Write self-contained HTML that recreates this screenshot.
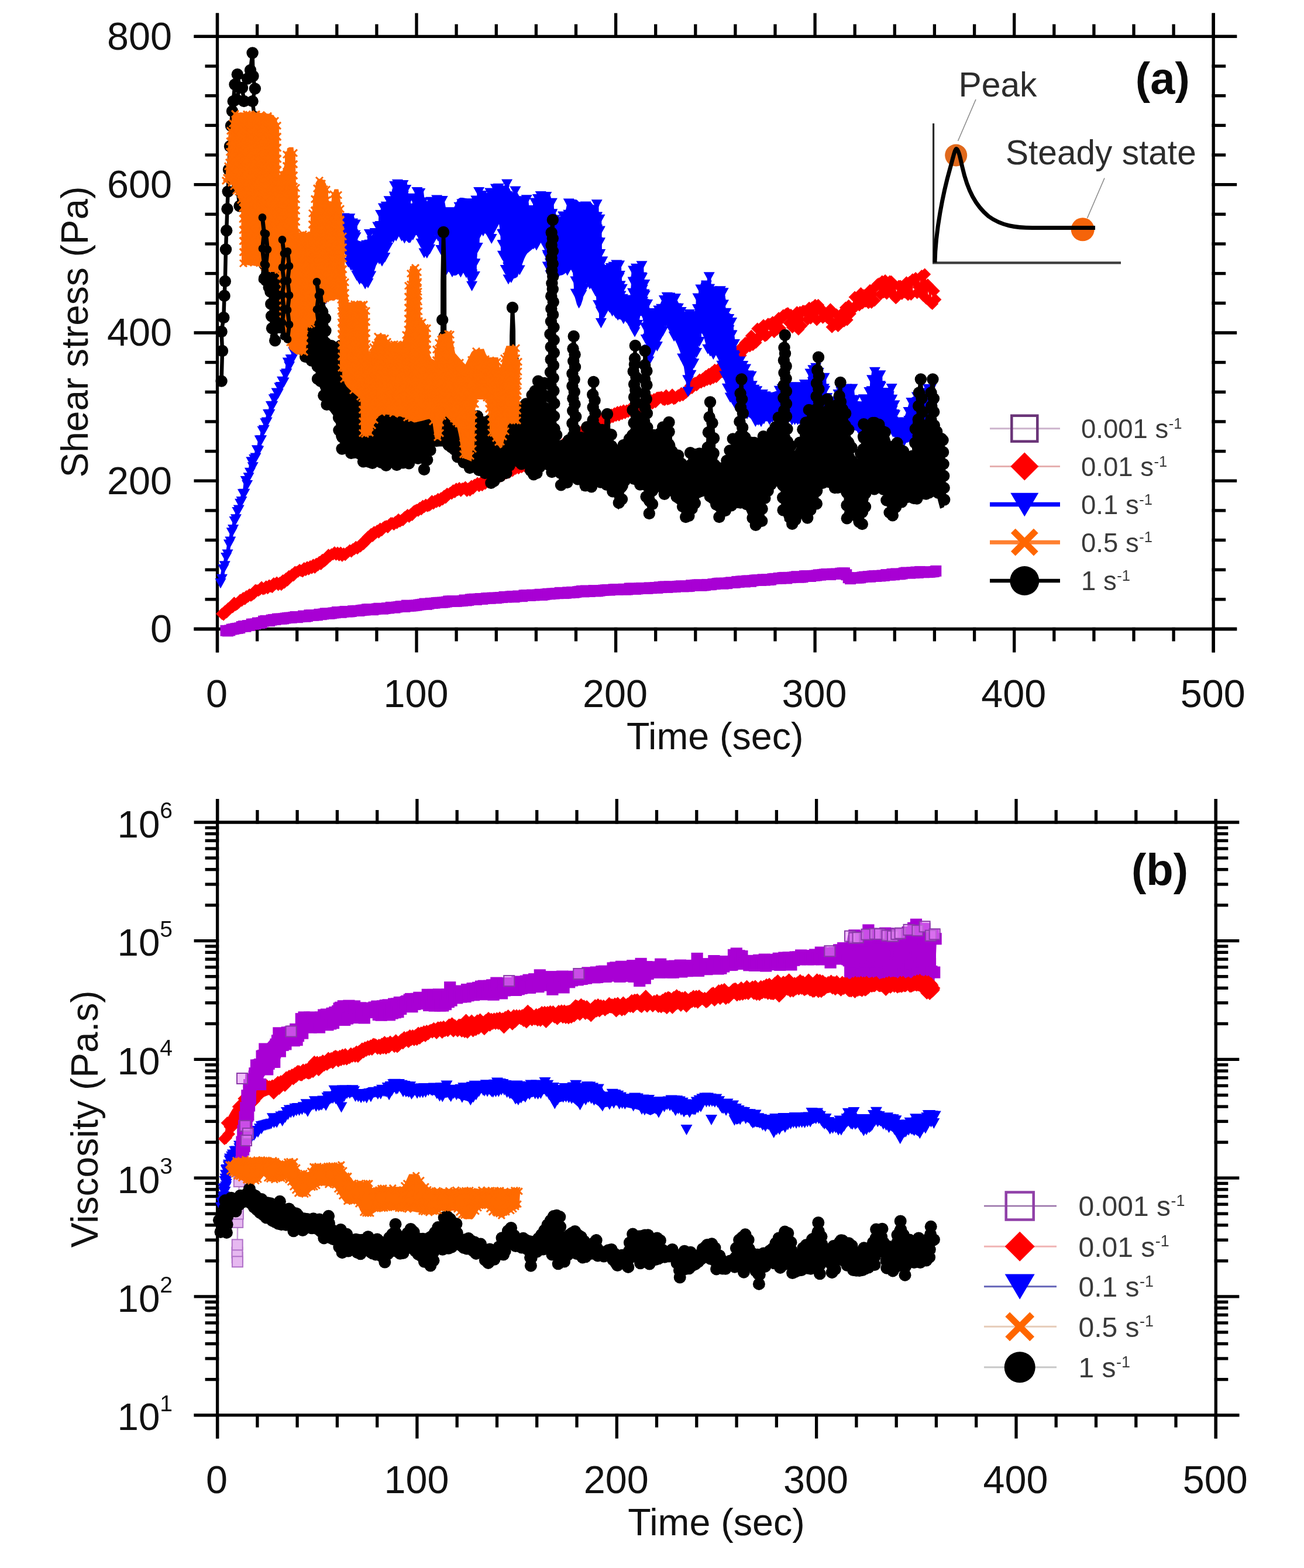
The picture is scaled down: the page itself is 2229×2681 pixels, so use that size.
<!DOCTYPE html>
<html lang="en">
<head>
<meta charset="utf-8">
<title>Shear stress and viscosity versus time</title>
<style>html,body{margin:0;padding:0;background:#fff}body{width:2229px;height:2681px;overflow:hidden}svg{display:block}text{font-family:"Liberation Sans",Arial,sans-serif}</style>
</head>
<body>
<svg width="2229" height="2681" viewBox="0 0 2229 2681">
<rect width="2229" height="2681" fill="#fff"/>
<g id="panel-a-axes">
<line x1="331.5" y1="62.4" x2="2114.2" y2="62.4" stroke="#000" stroke-width="5.3"/>
<line x1="331.5" y1="1075.5" x2="2114.2" y2="1075.5" stroke="#000" stroke-width="5.3"/>
<line x1="371.5" y1="22.4" x2="371.5" y2="1115.5" stroke="#000" stroke-width="5.3"/>
<line x1="2074.2" y1="22.4" x2="2074.2" y2="1115.5" stroke="#000" stroke-width="5.3"/>
<line x1="371.5" y1="22.4" x2="371.5" y2="65.0" stroke="#000" stroke-width="5.3"/>
<line x1="371.5" y1="1072.8" x2="371.5" y2="1115.5" stroke="#000" stroke-width="5.3"/>
<line x1="439.6" y1="41.4" x2="439.6" y2="65.0" stroke="#000" stroke-width="5.3"/>
<line x1="439.6" y1="1072.8" x2="439.6" y2="1096.5" stroke="#000" stroke-width="5.3"/>
<line x1="507.7" y1="41.4" x2="507.7" y2="65.0" stroke="#000" stroke-width="5.3"/>
<line x1="507.7" y1="1072.8" x2="507.7" y2="1096.5" stroke="#000" stroke-width="5.3"/>
<line x1="575.8" y1="41.4" x2="575.8" y2="65.0" stroke="#000" stroke-width="5.3"/>
<line x1="575.8" y1="1072.8" x2="575.8" y2="1096.5" stroke="#000" stroke-width="5.3"/>
<line x1="643.9" y1="41.4" x2="643.9" y2="65.0" stroke="#000" stroke-width="5.3"/>
<line x1="643.9" y1="1072.8" x2="643.9" y2="1096.5" stroke="#000" stroke-width="5.3"/>
<line x1="712.0" y1="22.4" x2="712.0" y2="65.0" stroke="#000" stroke-width="5.3"/>
<line x1="712.0" y1="1072.8" x2="712.0" y2="1115.5" stroke="#000" stroke-width="5.3"/>
<line x1="780.1" y1="41.4" x2="780.1" y2="65.0" stroke="#000" stroke-width="5.3"/>
<line x1="780.1" y1="1072.8" x2="780.1" y2="1096.5" stroke="#000" stroke-width="5.3"/>
<line x1="848.3" y1="41.4" x2="848.3" y2="65.0" stroke="#000" stroke-width="5.3"/>
<line x1="848.3" y1="1072.8" x2="848.3" y2="1096.5" stroke="#000" stroke-width="5.3"/>
<line x1="916.4" y1="41.4" x2="916.4" y2="65.0" stroke="#000" stroke-width="5.3"/>
<line x1="916.4" y1="1072.8" x2="916.4" y2="1096.5" stroke="#000" stroke-width="5.3"/>
<line x1="984.5" y1="41.4" x2="984.5" y2="65.0" stroke="#000" stroke-width="5.3"/>
<line x1="984.5" y1="1072.8" x2="984.5" y2="1096.5" stroke="#000" stroke-width="5.3"/>
<line x1="1052.6" y1="22.4" x2="1052.6" y2="65.0" stroke="#000" stroke-width="5.3"/>
<line x1="1052.6" y1="1072.8" x2="1052.6" y2="1115.5" stroke="#000" stroke-width="5.3"/>
<line x1="1120.7" y1="41.4" x2="1120.7" y2="65.0" stroke="#000" stroke-width="5.3"/>
<line x1="1120.7" y1="1072.8" x2="1120.7" y2="1096.5" stroke="#000" stroke-width="5.3"/>
<line x1="1188.8" y1="41.4" x2="1188.8" y2="65.0" stroke="#000" stroke-width="5.3"/>
<line x1="1188.8" y1="1072.8" x2="1188.8" y2="1096.5" stroke="#000" stroke-width="5.3"/>
<line x1="1256.9" y1="41.4" x2="1256.9" y2="65.0" stroke="#000" stroke-width="5.3"/>
<line x1="1256.9" y1="1072.8" x2="1256.9" y2="1096.5" stroke="#000" stroke-width="5.3"/>
<line x1="1325.0" y1="41.4" x2="1325.0" y2="65.0" stroke="#000" stroke-width="5.3"/>
<line x1="1325.0" y1="1072.8" x2="1325.0" y2="1096.5" stroke="#000" stroke-width="5.3"/>
<line x1="1393.1" y1="22.4" x2="1393.1" y2="65.0" stroke="#000" stroke-width="5.3"/>
<line x1="1393.1" y1="1072.8" x2="1393.1" y2="1115.5" stroke="#000" stroke-width="5.3"/>
<line x1="1461.2" y1="41.4" x2="1461.2" y2="65.0" stroke="#000" stroke-width="5.3"/>
<line x1="1461.2" y1="1072.8" x2="1461.2" y2="1096.5" stroke="#000" stroke-width="5.3"/>
<line x1="1529.3" y1="41.4" x2="1529.3" y2="65.0" stroke="#000" stroke-width="5.3"/>
<line x1="1529.3" y1="1072.8" x2="1529.3" y2="1096.5" stroke="#000" stroke-width="5.3"/>
<line x1="1597.4" y1="41.4" x2="1597.4" y2="65.0" stroke="#000" stroke-width="5.3"/>
<line x1="1597.4" y1="1072.8" x2="1597.4" y2="1096.5" stroke="#000" stroke-width="5.3"/>
<line x1="1665.6" y1="41.4" x2="1665.6" y2="65.0" stroke="#000" stroke-width="5.3"/>
<line x1="1665.6" y1="1072.8" x2="1665.6" y2="1096.5" stroke="#000" stroke-width="5.3"/>
<line x1="1733.7" y1="22.4" x2="1733.7" y2="65.0" stroke="#000" stroke-width="5.3"/>
<line x1="1733.7" y1="1072.8" x2="1733.7" y2="1115.5" stroke="#000" stroke-width="5.3"/>
<line x1="1801.8" y1="41.4" x2="1801.8" y2="65.0" stroke="#000" stroke-width="5.3"/>
<line x1="1801.8" y1="1072.8" x2="1801.8" y2="1096.5" stroke="#000" stroke-width="5.3"/>
<line x1="1869.9" y1="41.4" x2="1869.9" y2="65.0" stroke="#000" stroke-width="5.3"/>
<line x1="1869.9" y1="1072.8" x2="1869.9" y2="1096.5" stroke="#000" stroke-width="5.3"/>
<line x1="1938.0" y1="41.4" x2="1938.0" y2="65.0" stroke="#000" stroke-width="5.3"/>
<line x1="1938.0" y1="1072.8" x2="1938.0" y2="1096.5" stroke="#000" stroke-width="5.3"/>
<line x1="2006.1" y1="41.4" x2="2006.1" y2="65.0" stroke="#000" stroke-width="5.3"/>
<line x1="2006.1" y1="1072.8" x2="2006.1" y2="1096.5" stroke="#000" stroke-width="5.3"/>
<line x1="2074.2" y1="22.4" x2="2074.2" y2="65.0" stroke="#000" stroke-width="5.3"/>
<line x1="2074.2" y1="1072.8" x2="2074.2" y2="1115.5" stroke="#000" stroke-width="5.3"/>
<line x1="331.5" y1="62.4" x2="374.1" y2="62.4" stroke="#000" stroke-width="5.3"/>
<line x1="2071.5" y1="62.4" x2="2114.2" y2="62.4" stroke="#000" stroke-width="5.3"/>
<line x1="350.5" y1="113.1" x2="374.1" y2="113.1" stroke="#000" stroke-width="5.3"/>
<line x1="2071.5" y1="113.1" x2="2095.2" y2="113.1" stroke="#000" stroke-width="5.3"/>
<line x1="350.5" y1="163.7" x2="374.1" y2="163.7" stroke="#000" stroke-width="5.3"/>
<line x1="2071.5" y1="163.7" x2="2095.2" y2="163.7" stroke="#000" stroke-width="5.3"/>
<line x1="350.5" y1="214.4" x2="374.1" y2="214.4" stroke="#000" stroke-width="5.3"/>
<line x1="2071.5" y1="214.4" x2="2095.2" y2="214.4" stroke="#000" stroke-width="5.3"/>
<line x1="350.5" y1="265.0" x2="374.1" y2="265.0" stroke="#000" stroke-width="5.3"/>
<line x1="2071.5" y1="265.0" x2="2095.2" y2="265.0" stroke="#000" stroke-width="5.3"/>
<line x1="331.5" y1="315.7" x2="374.1" y2="315.7" stroke="#000" stroke-width="5.3"/>
<line x1="2071.5" y1="315.7" x2="2114.2" y2="315.7" stroke="#000" stroke-width="5.3"/>
<line x1="350.5" y1="366.3" x2="374.1" y2="366.3" stroke="#000" stroke-width="5.3"/>
<line x1="2071.5" y1="366.3" x2="2095.2" y2="366.3" stroke="#000" stroke-width="5.3"/>
<line x1="350.5" y1="417.0" x2="374.1" y2="417.0" stroke="#000" stroke-width="5.3"/>
<line x1="2071.5" y1="417.0" x2="2095.2" y2="417.0" stroke="#000" stroke-width="5.3"/>
<line x1="350.5" y1="467.6" x2="374.1" y2="467.6" stroke="#000" stroke-width="5.3"/>
<line x1="2071.5" y1="467.6" x2="2095.2" y2="467.6" stroke="#000" stroke-width="5.3"/>
<line x1="350.5" y1="518.3" x2="374.1" y2="518.3" stroke="#000" stroke-width="5.3"/>
<line x1="2071.5" y1="518.3" x2="2095.2" y2="518.3" stroke="#000" stroke-width="5.3"/>
<line x1="331.5" y1="569.0" x2="374.1" y2="569.0" stroke="#000" stroke-width="5.3"/>
<line x1="2071.5" y1="569.0" x2="2114.2" y2="569.0" stroke="#000" stroke-width="5.3"/>
<line x1="350.5" y1="619.6" x2="374.1" y2="619.6" stroke="#000" stroke-width="5.3"/>
<line x1="2071.5" y1="619.6" x2="2095.2" y2="619.6" stroke="#000" stroke-width="5.3"/>
<line x1="350.5" y1="670.3" x2="374.1" y2="670.3" stroke="#000" stroke-width="5.3"/>
<line x1="2071.5" y1="670.3" x2="2095.2" y2="670.3" stroke="#000" stroke-width="5.3"/>
<line x1="350.5" y1="720.9" x2="374.1" y2="720.9" stroke="#000" stroke-width="5.3"/>
<line x1="2071.5" y1="720.9" x2="2095.2" y2="720.9" stroke="#000" stroke-width="5.3"/>
<line x1="350.5" y1="771.6" x2="374.1" y2="771.6" stroke="#000" stroke-width="5.3"/>
<line x1="2071.5" y1="771.6" x2="2095.2" y2="771.6" stroke="#000" stroke-width="5.3"/>
<line x1="331.5" y1="822.2" x2="374.1" y2="822.2" stroke="#000" stroke-width="5.3"/>
<line x1="2071.5" y1="822.2" x2="2114.2" y2="822.2" stroke="#000" stroke-width="5.3"/>
<line x1="350.5" y1="872.9" x2="374.1" y2="872.9" stroke="#000" stroke-width="5.3"/>
<line x1="2071.5" y1="872.9" x2="2095.2" y2="872.9" stroke="#000" stroke-width="5.3"/>
<line x1="350.5" y1="923.5" x2="374.1" y2="923.5" stroke="#000" stroke-width="5.3"/>
<line x1="2071.5" y1="923.5" x2="2095.2" y2="923.5" stroke="#000" stroke-width="5.3"/>
<line x1="350.5" y1="974.2" x2="374.1" y2="974.2" stroke="#000" stroke-width="5.3"/>
<line x1="2071.5" y1="974.2" x2="2095.2" y2="974.2" stroke="#000" stroke-width="5.3"/>
<line x1="350.5" y1="1024.8" x2="374.1" y2="1024.8" stroke="#000" stroke-width="5.3"/>
<line x1="2071.5" y1="1024.8" x2="2095.2" y2="1024.8" stroke="#000" stroke-width="5.3"/>
<line x1="331.5" y1="1075.5" x2="374.1" y2="1075.5" stroke="#000" stroke-width="5.3"/>
<line x1="2071.5" y1="1075.5" x2="2114.2" y2="1075.5" stroke="#000" stroke-width="5.3"/>
<text x="294.0" y="84.7" font-size="66.5" text-anchor="end" font-weight="normal" fill="#111">800</text>
<text x="294.0" y="338.0" font-size="66.5" text-anchor="end" font-weight="normal" fill="#111">600</text>
<text x="294.0" y="591.2" font-size="66.5" text-anchor="end" font-weight="normal" fill="#111">400</text>
<text x="294.0" y="844.5" font-size="66.5" text-anchor="end" font-weight="normal" fill="#111">200</text>
<text x="294.0" y="1097.8" font-size="66.5" text-anchor="end" font-weight="normal" fill="#111">0</text>
<text x="370.5" y="1209.0" font-size="66.5" text-anchor="middle" font-weight="normal" fill="#111">0</text>
<text x="711.0" y="1209.0" font-size="66.5" text-anchor="middle" font-weight="normal" fill="#111">100</text>
<text x="1051.6" y="1209.0" font-size="66.5" text-anchor="middle" font-weight="normal" fill="#111">200</text>
<text x="1392.1" y="1209.0" font-size="66.5" text-anchor="middle" font-weight="normal" fill="#111">300</text>
<text x="1732.7" y="1209.0" font-size="66.5" text-anchor="middle" font-weight="normal" fill="#111">400</text>
<text x="2073.2" y="1209.0" font-size="66.5" text-anchor="middle" font-weight="normal" fill="#111">500</text>
<text x="1222.3" y="1281.3" font-size="64.6" text-anchor="middle" font-weight="normal" fill="#111">Time (sec)</text>
<text x="0.0" y="0.0" font-size="64" text-anchor="middle" font-weight="normal" fill="#111" transform="translate(150.3 567.5) rotate(-90)">Shear stress (Pa)</text>
<text x="1987.3" y="160.3" font-size="76" text-anchor="middle" font-weight="bold" fill="#0a0a0a">(a)</text>
</g>
<g id="panel-a-data">
<defs><marker id="asq" markerUnits="userSpaceOnUse" markerWidth="24" markerHeight="24" refX="0" refY="0" viewBox="-12 -12 24 24" overflow="visible"><rect x="-8" y="-8" width="16" height="16" fill="#a800d4" stroke="#a800d4" stroke-width="3"/></marker><marker id="asqo" markerUnits="userSpaceOnUse" markerWidth="24" markerHeight="24" refX="0" refY="0" viewBox="-12 -12 24 24" overflow="visible"><rect x="-8" y="-8" width="16" height="16" fill="#e58cf5" fill-opacity="0.55" stroke="#8a3aa8" stroke-width="2"/></marker><marker id="asqp" markerUnits="userSpaceOnUse" markerWidth="24" markerHeight="24" refX="0" refY="0" viewBox="-12 -12 24 24" overflow="visible"><rect x="-8" y="-8" width="16" height="16" fill="#e6b8f0" stroke="#b070c8" stroke-width="2"/></marker><marker id="adi" markerUnits="userSpaceOnUse" markerWidth="29.0" markerHeight="29.0" refX="0" refY="0" viewBox="-14.5 -14.5 29.0 29.0" overflow="visible"><path d="M0 -10.5L10.5 0L0 10.5L-10.5 0Z" fill="#ff0000"/></marker><marker id="atr" markerUnits="userSpaceOnUse" markerWidth="27.0" markerHeight="27.0" refX="0" refY="0" viewBox="-13.5 -13.5 27.0 27.0" overflow="visible"><path d="M-9.5 -7.6L9.5 -7.6L0 9.5Z" fill="#0000ff"/></marker><marker id="ax" markerUnits="userSpaceOnUse" markerWidth="20" markerHeight="20" refX="0" refY="0" viewBox="-10 -10 20 20" overflow="visible"><path d="M-6 -6L6 6M6 -6L-6 6" stroke="#ff6a00" stroke-width="3" fill="none"/></marker><marker id="aci" markerUnits="userSpaceOnUse" markerWidth="28.4" markerHeight="28.4" refX="0" refY="0" viewBox="-14.2 -14.2 28.4 28.4" overflow="visible"><circle r="10.2" fill="#000000"/></marker><marker id="acs" markerUnits="userSpaceOnUse" markerWidth="28.4" markerHeight="28.4" refX="0" refY="0" viewBox="-14.2 -14.2 28.4 28.4" overflow="visible"><circle r="6.9" fill="#000000"/></marker></defs>
<polyline points="386.0,1078.3 389.4,1078.9 392.8,1077.9 396.2,1076.0 399.6,1075.6 403.0,1074.7 406.4,1074.3 409.8,1073.7 413.2,1071.5 416.6,1070.5 420.0,1071.3 423.4,1069.6 426.8,1069.5 430.2,1067.1 433.6,1067.2 437.0,1066.9 440.4,1065.0 443.8,1065.6 447.2,1064.7 450.6,1062.1 454.0,1061.3 457.4,1061.5 460.8,1061.7 464.2,1060.1 467.6,1059.4 471.0,1059.4 474.4,1058.2 477.8,1058.2 481.2,1058.2 484.6,1057.9 488.0,1057.0 491.4,1056.5 494.8,1056.1 498.2,1056.2 501.6,1055.4 505.0,1054.5 508.4,1055.7 511.8,1054.7 515.2,1054.5 518.6,1053.1 522.0,1054.3 525.4,1053.7 528.8,1051.8 532.2,1051.8 535.6,1052.2 539.0,1051.7 542.4,1051.8 545.8,1050.3 549.2,1050.7 552.6,1050.0 556.0,1048.8 559.4,1049.0 562.8,1049.3 566.2,1048.9 569.6,1048.0 573.0,1047.8 576.4,1046.4 579.8,1046.5 583.2,1047.3 586.6,1046.2 590.0,1045.4 593.4,1045.9 596.8,1045.9 600.2,1045.5 603.6,1044.6 607.0,1044.4 610.4,1044.3 613.8,1044.5 617.2,1043.7 620.6,1043.1 624.0,1043.0 627.4,1041.8 630.8,1041.5 634.2,1042.5 637.6,1042.7 641.0,1041.7 644.4,1040.9 647.8,1040.2 651.2,1040.5 654.6,1041.2 658.0,1040.5 661.4,1039.7 664.8,1039.9 668.2,1038.3 671.6,1038.6 675.0,1039.1 678.4,1038.0 681.8,1037.4 685.2,1036.7 688.6,1036.9 692.0,1037.4 695.4,1035.1 698.8,1036.3 702.2,1036.1 705.6,1035.8 709.0,1035.2 712.4,1035.0 715.8,1034.1 719.2,1033.8 722.6,1033.2 726.0,1032.1 729.4,1033.4 732.8,1032.4 736.2,1031.4 739.6,1031.6 743.0,1031.2 746.4,1030.6 749.8,1030.3 753.2,1030.3 756.6,1030.1 760.0,1029.8 763.4,1029.1 766.8,1027.9 770.2,1028.0 773.6,1027.5 777.0,1028.0 780.4,1028.2 783.8,1027.8 787.2,1027.6 790.6,1027.3 794.0,1026.0 797.4,1026.9 800.8,1026.3 804.2,1024.9 807.6,1024.5 811.0,1024.2 814.4,1025.4 817.8,1024.2 821.2,1023.6 824.6,1024.4 828.0,1023.6 831.4,1022.8 834.8,1022.7 838.2,1023.2 841.6,1022.2 845.0,1022.2 848.4,1022.8 851.8,1022.0 855.2,1021.5 858.6,1021.6 862.0,1020.4 865.4,1020.9 868.8,1020.7 872.2,1020.0 875.6,1019.5 879.0,1020.9 882.4,1019.8 885.8,1019.0 889.2,1019.5 892.6,1019.7 896.0,1017.8 899.4,1017.6 902.8,1017.6 906.2,1018.5 909.6,1017.1 913.0,1017.9 916.4,1017.6 919.8,1017.1 923.2,1016.2 926.6,1017.5 930.0,1016.8 933.4,1016.0 936.8,1015.2 940.2,1015.8 943.6,1015.0 947.0,1015.1 950.4,1014.4 953.8,1014.7 957.2,1013.3 960.6,1013.6 964.0,1014.6 967.4,1014.2 970.8,1012.8 974.2,1013.7 977.6,1012.3 981.0,1013.3 984.4,1012.7 987.8,1011.7 991.2,1011.2 994.6,1010.4 998.0,1011.9 1001.4,1010.0 1004.8,1011.4 1008.2,1011.5 1011.6,1010.5 1015.0,1009.6 1018.4,1010.8 1021.8,1010.8 1025.2,1010.1 1028.6,1009.5 1032.0,1009.1 1035.4,1008.8 1038.8,1008.4 1042.2,1009.1 1045.6,1008.5 1049.0,1007.8 1052.4,1007.5 1055.8,1008.4 1059.2,1007.5 1062.6,1007.7 1066.0,1007.2 1069.4,1008.1 1072.8,1008.0 1076.2,1006.0 1079.6,1006.2 1083.0,1006.3 1086.4,1007.4 1089.8,1006.9 1093.2,1005.8 1096.6,1005.4 1100.0,1006.1 1103.4,1006.2 1106.8,1006.3 1110.2,1004.9 1113.6,1005.8 1117.0,1005.2 1120.4,1004.6 1123.8,1005.5 1127.2,1003.8 1130.6,1004.6 1134.0,1003.1 1137.4,1003.1 1140.8,1004.4 1144.2,1002.9 1147.6,1003.8 1151.0,1003.3 1154.4,1003.6 1157.8,1002.5 1161.2,1002.2 1164.6,1001.9 1168.0,1002.9 1171.4,1002.2 1174.8,1002.7 1178.2,1002.4 1181.6,1000.7 1185.0,1001.4 1188.4,1000.3 1191.8,1000.0 1195.2,999.9 1198.6,1001.3 1202.0,1000.9 1205.4,1000.7 1208.8,999.4 1212.2,999.7 1215.6,999.7 1219.0,998.6 1222.4,998.7 1225.8,997.7 1229.2,997.2 1232.6,997.2 1236.0,998.2 1239.4,997.2 1242.8,997.7 1246.2,996.4 1249.6,995.8 1253.0,996.5 1256.4,996.3 1259.8,994.4 1263.2,995.4 1266.6,994.0 1270.0,993.7 1273.4,995.0 1276.8,993.0 1280.2,993.1 1283.6,994.3 1287.0,992.9 1290.4,992.0 1293.8,991.8 1297.2,991.6 1300.6,992.3 1304.0,990.8 1307.4,992.1 1310.8,990.7 1314.2,991.6 1317.6,991.2 1321.0,989.7 1324.4,989.3 1327.8,989.5 1331.2,988.4 1334.6,989.2 1338.0,987.7 1341.4,987.4 1344.8,989.0 1348.2,987.4 1351.6,987.7 1355.0,987.1 1358.4,986.5 1361.8,985.7 1365.2,987.1 1368.6,987.0 1372.0,986.7 1375.4,984.7 1378.8,984.6 1382.2,985.1 1385.6,985.5 1389.0,984.4 1392.4,984.3 1395.8,984.0 1399.2,982.9 1402.6,983.2 1406.0,982.4 1409.4,982.0 1412.8,981.4 1416.2,981.5 1419.6,982.6 1423.0,981.2 1426.4,981.4 1429.8,981.1 1433.2,981.5 1436.6,980.2 1440.0,979.8 1443.4,979.7 1446.8,982.8 1450.2,987.7 1453.6,989.7 1457.0,988.2 1460.4,988.1 1463.8,988.2 1467.2,988.1 1470.6,987.9 1474.0,986.9 1477.4,986.2 1480.8,986.4 1484.2,985.7 1487.6,986.3 1491.0,985.0 1494.4,984.6 1497.8,985.4 1501.2,984.3 1504.6,985.0 1508.0,984.0 1511.4,984.4 1514.8,982.6 1518.2,983.0 1521.6,983.2 1525.0,981.4 1528.4,982.8 1531.8,980.9 1535.2,981.7 1538.6,981.8 1542.0,981.1 1545.4,979.7 1548.8,978.9 1552.2,979.5 1555.6,980.1 1559.0,978.7 1562.4,979.7 1565.8,978.0 1569.2,979.4 1572.6,977.4 1576.0,977.8 1579.4,978.8 1582.8,978.5 1586.2,978.5 1589.6,978.2 1593.0,977.8 1596.4,977.5 1599.8,976.3" fill="none" stroke="#a800d4" stroke-width="9" stroke-linejoin="round" stroke-linecap="round" marker-start="url(#asq)" marker-mid="url(#asq)" marker-end="url(#asq)"/>
<polyline points="379.5,1049.6 382.1,1051.0 384.7,1045.1 387.3,1047.1 389.9,1040.5 392.5,1041.4 395.1,1037.8 397.7,1038.0 400.3,1030.8 402.9,1034.4 405.5,1032.8 408.1,1030.2 410.7,1025.8 413.3,1027.1 415.9,1022.5 418.5,1024.3 421.1,1019.5 423.7,1020.2 426.3,1016.4 428.9,1018.4 431.5,1016.7 434.1,1015.0 436.7,1009.1 439.3,1009.5 441.9,1009.7 444.5,1007.7 447.1,1004.0 449.7,1007.3 452.3,1006.6 454.9,1002.8 457.5,1005.7 460.1,1000.9 462.7,1002.8 465.3,1003.8 467.9,997.6 470.5,998.8 473.1,996.1 475.7,999.9 478.3,996.6 480.9,999.7 483.5,992.5 486.1,996.2 488.7,989.5 491.3,992.2 493.9,985.2 496.5,986.8 499.1,982.2 501.7,983.9 504.3,978.0 506.9,978.2 509.5,977.2 512.1,974.5 514.7,976.1 517.3,977.1 519.9,971.6 522.5,974.7 525.1,969.7 527.7,973.3 530.3,968.3 532.9,971.3 535.5,965.8 538.1,970.6 540.7,964.0 543.3,966.5 545.9,961.1 548.5,964.5 551.1,957.3 553.7,959.9 556.3,957.9 558.9,955.4 561.5,948.7 564.1,951.1 566.7,947.8 569.3,947.8 571.9,944.5 574.5,948.3 577.1,945.1 579.7,949.3 582.3,945.1 584.9,950.3 587.5,946.4 590.1,948.8 592.7,945.2 595.3,943.8 597.9,940.9 600.5,943.1 603.1,938.9 605.7,939.0 608.3,935.2 610.9,937.8 613.5,933.5 616.1,934.3 618.7,929.0 621.3,930.3 623.9,923.2 626.5,924.9 629.1,917.8 631.7,919.3 634.3,913.2 636.9,916.4 639.5,909.7 642.1,911.6 644.7,907.5 647.3,910.3 649.9,904.0 652.5,906.8 655.1,902.3 657.7,900.4 660.3,899.6 662.9,901.6 665.5,896.9 668.1,894.6 670.7,894.4 673.3,896.8 675.9,892.5 678.5,894.3 681.1,888.2 683.7,891.4 686.3,889.2 688.9,889.3 691.5,884.5 694.1,883.2 696.7,880.6 699.3,883.5 701.9,879.4 704.5,880.5 707.1,874.5 709.7,873.1 712.3,871.8 714.9,873.3 717.5,868.5 720.1,870.8 722.7,865.0 725.3,866.8 727.9,863.0 730.5,865.3 733.1,864.6 735.7,863.0 738.3,856.8 740.9,860.9 743.5,856.4 746.1,858.3 748.7,853.2 751.3,856.9 753.9,851.7 756.5,854.1 759.1,847.9 761.7,851.1 764.3,844.3 766.9,845.7 769.5,842.7 772.1,844.0 774.7,838.5 777.3,841.4 779.9,835.7 782.5,838.1 785.1,834.4 787.7,839.3 790.3,835.2 792.9,835.2 795.5,832.9 798.1,839.3 800.7,835.5 803.3,838.5 805.9,830.9 808.5,835.2 811.1,829.1 813.7,828.8 816.3,826.0 818.9,830.9 821.5,825.5 824.1,829.8 826.7,822.3 829.3,827.0 831.9,819.7 834.5,823.5 837.1,817.5 839.7,819.4 842.3,814.3 844.9,818.7 847.5,817.5 850.1,815.8 852.7,814.0 855.3,814.6 857.9,809.2 860.5,812.4 863.1,805.7 865.7,809.2 868.3,803.6 870.9,807.7 873.5,799.8 876.1,804.9 878.7,797.3 881.3,801.6 883.9,796.4 886.5,800.8 889.1,797.8 891.7,798.7 894.3,792.9 896.9,797.3 899.5,789.3 902.1,795.7 904.7,788.1 907.3,793.2 909.9,786.7 912.5,789.3 915.1,786.2 917.7,785.1 920.3,787.4 922.9,786.4 925.5,780.4 928.1,786.1 930.7,779.1 933.3,784.0 935.9,776.7 938.5,782.6 941.1,774.5 943.7,776.4 946.3,771.9 948.9,768.8 951.5,769.4 954.1,771.4 956.7,763.7 959.3,769.0 961.9,759.7 964.5,764.2 967.1,756.6 969.7,761.5 972.3,754.6 974.9,755.6 977.5,748.3 980.1,754.3 982.7,748.8 985.3,748.9 987.9,745.5 990.5,744.2 993.1,739.0 995.7,741.0 998.3,734.0 1000.9,731.5 1003.5,734.8 1006.1,735.6 1008.7,729.3 1011.3,730.8 1013.9,723.8 1016.5,727.1 1019.1,719.5 1021.7,722.3 1024.3,717.5 1026.9,720.2 1029.5,717.8 1032.1,716.4 1034.7,710.4 1037.3,714.8 1039.9,710.2 1042.5,714.9 1045.1,709.0 1047.7,713.1 1050.3,706.8 1052.9,710.7 1055.5,704.4 1058.1,710.0 1060.7,703.6 1063.3,707.7 1065.9,701.8 1068.5,706.3 1071.1,702.1 1073.7,704.0 1076.3,699.6 1078.9,703.0 1081.5,703.3 1084.1,701.7 1086.7,694.2 1089.3,700.5 1091.9,691.8 1094.5,698.5 1097.1,689.7 1099.7,694.0 1102.3,692.4 1104.9,694.0 1107.5,687.0 1110.1,691.6 1112.7,684.0 1115.3,689.8 1117.9,682.6 1120.5,687.5 1123.1,680.1 1125.7,679.7 1128.3,679.5 1130.9,678.8 1133.5,683.0 1136.1,683.8 1138.7,676.1 1141.3,682.8 1143.9,681.7 1146.5,680.4 1149.1,674.7 1151.7,681.9 1154.3,680.9 1156.9,678.1 1159.5,675.7 1162.1,677.2 1164.7,672.2 1167.3,675.7 1169.9,673.0 1172.5,671.5 1175.1,665.8 1177.7,665.7 1180.3,659.5 1182.9,663.6 1185.5,656.1 1188.1,654.4 1190.7,658.7 1193.3,656.1 1195.9,648.9 1198.5,654.0 1201.1,647.6 1203.7,652.1 1206.3,643.0 1208.9,649.4 1211.5,639.4 1214.1,648.8 1216.7,636.7 1219.3,646.3 1221.9,632.2 1224.5,644.6 1227.1,631.6 1229.7,633.4 1232.3,629.8 1234.9,635.9 1237.5,622.2 1240.1,633.3 1242.7,619.3 1245.3,629.5 1247.9,612.4 1250.5,621.8 1253.1,611.6 1255.7,612.8 1258.3,604.9 1260.9,612.1 1263.5,599.5 1266.1,607.8 1268.7,592.4 1271.3,599.2 1273.9,586.3 1276.5,586.2 1279.1,583.7 1281.7,592.0 1284.3,574.2 1286.9,589.7 1289.5,583.6 1292.1,585.8 1294.7,562.1 1297.3,577.1 1299.9,561.6 1302.5,562.4 1305.1,556.1 1307.7,574.5 1310.3,572.9 1312.9,553.7 1315.5,554.2 1318.1,557.0 1320.7,550.8 1323.3,567.7 1325.9,563.1 1328.5,563.3 1331.1,543.7 1333.7,561.2 1336.3,544.4 1338.9,538.9 1341.5,539.0 1344.1,536.5 1346.7,535.4 1349.3,552.5 1351.9,538.3 1354.5,559.7 1357.1,541.5 1359.7,552.8 1362.3,533.7 1364.9,563.2 1367.5,533.5 1370.1,556.9 1372.7,531.6 1375.3,532.1 1377.9,531.9 1380.5,546.3 1383.1,526.2 1385.7,544.2 1388.3,525.5 1390.9,541.2 1393.5,521.5 1396.1,546.9 1398.7,521.5 1401.3,530.1 1403.9,528.3 1406.5,543.2 1409.1,540.4 1411.7,538.5 1414.3,543.8 1416.9,539.7 1419.5,528.7 1422.1,559.3 1424.7,553.5 1427.3,554.5 1429.9,537.7 1432.5,557.6 1435.1,549.3 1437.7,552.2 1440.3,534.6 1442.9,549.2 1445.5,526.1 1448.1,547.0 1450.7,522.4 1453.3,536.5 1455.9,530.8 1458.5,526.6 1461.1,507.9 1463.7,522.9 1466.3,508.6 1468.9,522.1 1471.5,501.6 1474.1,518.5 1476.7,504.8 1479.3,515.4 1481.9,514.5 1484.5,518.1 1487.1,496.2 1489.7,517.6 1492.3,495.1 1494.9,513.9 1497.5,489.1 1500.1,485.9 1502.7,484.8 1505.3,503.3 1507.9,480.9 1510.5,499.7 1513.1,479.4 1515.7,502.0 1518.3,492.5 1520.9,480.9 1523.5,481.2 1526.1,504.0 1528.7,486.7 1531.3,509.8 1533.9,507.2 1536.5,488.9 1539.1,488.9 1541.7,502.4 1544.3,488.5 1546.9,500.0 1549.5,482.8 1552.1,504.1 1554.7,482.2 1557.3,503.6 1559.9,477.8 1562.5,480.0 1565.1,475.6 1567.7,500.8 1570.3,490.9 1572.9,497.9 1575.5,471.6 1578.1,505.4 1580.7,469.1 1583.3,510.5 1585.9,486.8 1588.5,489.9 1591.1,517.4 1593.7,519.6 1596.3,497.6 1598.9,512.3" fill="none" stroke="#ff0000" stroke-width="4" stroke-linejoin="round" stroke-linecap="round" marker-start="url(#adi)" marker-mid="url(#adi)" marker-end="url(#adi)"/>
<polygon points="377.0,996.0 380.5,977.6 384.0,962.1 387.5,946.7 391.0,931.4 394.5,916.1 398.0,900.9 401.5,886.2 405.0,875.4 408.5,864.5 412.0,853.6 415.5,842.7 419.0,831.8 422.5,820.9 426.0,810.0 429.5,799.1 433.0,788.2 436.5,777.2 440.0,765.7 443.5,754.1 447.0,742.6 450.5,731.0 454.0,720.6 457.5,710.4 461.0,700.2 464.5,690.0 468.0,679.8 471.5,672.7 475.0,665.6 478.5,658.4 482.0,651.3 485.5,643.8 489.0,634.1 492.5,624.4 496.0,614.7 499.5,605.9 503.0,597.7 506.5,589.8 510.0,582.2 513.5,574.5 517.0,566.9 520.5,559.3 524.0,552.4 527.5,546.1 531.0,539.8 534.5,533.5 538.0,527.2 541.5,520.9 545.0,514.6 548.5,508.3 552.0,502.0 555.5,495.7 559.0,489.4 562.5,483.1 566.0,476.8 569.5,470.5 573.0,458.6 576.5,432.9 580.0,407.1 583.5,381.3 587.0,367.6 590.5,367.6 594.0,367.6 597.5,367.6 601.0,367.6 604.5,367.6 608.0,381.3 611.5,415.9 615.0,417.4 618.5,419.0 622.0,417.7 625.5,414.2 629.0,410.7 632.5,406.3 636.0,401.7 639.5,397.0 643.0,392.3 646.5,380.2 650.0,360.4 653.5,347.3 657.0,345.8 660.5,344.3 664.0,342.8 667.5,341.3 671.0,321.6 674.5,308.2 678.0,308.2 681.5,308.2 685.0,308.2 688.5,308.2 692.0,308.2 695.5,308.2 699.0,343.5 702.5,350.0 706.0,352.3 709.5,323.1 713.0,323.1 716.5,323.1 720.0,323.1 723.5,323.1 727.0,352.6 730.5,351.5 734.0,350.3 737.5,349.1 741.0,348.0 744.5,335.5 748.0,335.5 751.5,335.5 755.0,335.5 758.5,335.5 762.0,355.3 765.5,355.3 769.0,355.3 772.5,355.3 776.0,355.3 779.5,346.7 783.0,340.3 786.5,338.0 790.0,337.9 793.5,338.6 797.0,339.3 800.5,340.8 804.0,346.1 807.5,344.3 811.0,340.6 814.5,336.8 818.0,333.1 821.5,329.3 825.0,328.9 828.5,329.1 832.0,329.4 835.5,329.6 839.0,329.9 842.5,326.5 846.0,322.5 849.5,318.8 853.0,318.8 856.5,318.8 860.0,318.8 863.5,318.8 867.0,318.8 870.5,321.5 874.0,328.5 877.5,329.0 881.0,329.4 884.5,329.7 888.0,336.0 891.5,339.8 895.0,339.8 898.5,339.8 902.0,339.8 905.5,358.3 909.0,358.0 912.5,346.4 916.0,340.3 919.5,337.2 923.0,334.2 926.5,333.6 930.0,333.6 933.5,333.6 937.0,333.6 940.5,333.6 944.0,345.3 947.5,358.7 951.0,367.3 954.5,371.5 958.0,370.1 961.5,368.7 965.0,367.3 968.5,352.5 972.0,341.1 975.5,341.1 979.0,341.1 982.5,341.1 986.0,341.5 989.5,345.0 993.0,346.0 996.5,346.0 1000.0,346.0 1003.5,346.0 1007.0,346.0 1010.5,346.2 1014.0,350.6 1017.5,355.0 1021.0,359.4 1024.5,363.7 1028.0,442.0 1031.5,448.3 1035.0,454.6 1038.5,460.9 1042.0,458.7 1045.5,451.3 1049.0,451.3 1052.5,451.3 1056.0,451.3 1059.5,451.3 1063.0,486.1 1066.5,506.4 1070.0,507.8 1073.5,509.2 1077.0,510.6 1080.5,470.7 1084.0,451.3 1087.5,451.3 1091.0,451.3 1094.5,451.3 1098.0,451.3 1101.5,477.8 1105.0,501.8 1108.5,522.8 1112.0,529.6 1115.5,531.7 1119.0,533.8 1122.5,533.7 1126.0,525.5 1129.5,517.4 1133.0,509.2 1136.5,501.0 1140.0,500.8 1143.5,500.8 1147.0,500.8 1150.5,500.8 1154.0,505.9 1157.5,512.9 1161.0,519.9 1164.5,526.9 1168.0,531.3 1171.5,533.1 1175.0,534.8 1178.5,536.6 1182.0,538.3 1185.5,540.1 1189.0,526.1 1192.5,508.6 1196.0,491.1 1199.5,479.4 1203.0,479.8 1206.5,479.8 1210.0,479.8 1213.5,483.2 1217.0,493.7 1220.5,495.1 1224.0,495.5 1227.5,495.9 1231.0,496.4 1234.5,496.8 1238.0,509.1 1241.5,532.8 1245.0,534.5 1248.5,536.3 1252.0,552.8 1255.5,575.6 1259.0,598.3 1262.5,606.3 1266.0,612.1 1269.5,617.9 1273.0,623.8 1276.5,629.0 1280.0,633.9 1283.5,638.8 1287.0,646.2 1290.5,665.7 1294.0,666.2 1297.5,666.7 1301.0,667.2 1304.5,667.7 1308.0,669.0 1311.5,671.4 1315.0,672.6 1318.5,671.4 1322.0,670.3 1325.5,669.1 1329.0,667.9 1332.5,666.2 1336.0,664.4 1339.5,662.7 1343.0,660.9 1346.5,659.2 1350.0,658.3 1353.5,658.7 1357.0,659.2 1360.5,659.6 1364.0,660.0 1367.5,660.5 1371.0,659.6 1374.5,658.2 1378.0,656.8 1381.5,647.7 1385.0,628.1 1388.5,627.4 1392.0,626.7 1395.5,626.0 1399.0,632.7 1402.5,639.7 1406.0,646.7 1409.5,653.7 1413.0,670.7 1416.5,684.5 1420.0,681.5 1423.5,678.5 1427.0,675.6 1430.5,672.6 1434.0,669.7 1437.5,666.7 1441.0,663.7 1444.5,660.8 1448.0,658.0 1451.5,657.2 1455.0,656.3 1458.5,661.4 1462.0,682.4 1465.5,685.8 1469.0,686.3 1472.5,686.8 1476.0,687.3 1479.5,687.8 1483.0,677.3 1486.5,665.6 1490.0,635.7 1493.5,635.4 1497.0,635.2 1500.5,634.9 1504.0,634.6 1507.5,663.1 1511.0,663.1 1514.5,663.1 1518.0,663.1 1521.5,663.1 1525.0,663.1 1528.5,682.4 1532.0,709.9 1535.5,723.8 1539.0,720.3 1542.5,716.8 1546.0,713.3 1549.5,703.5 1553.0,692.1 1556.5,680.7 1560.0,678.7 1563.5,677.0 1567.0,675.1 1570.5,673.0 1574.0,670.8 1577.5,668.6 1581.0,666.4 1584.5,664.2 1588.0,662.8 1591.5,662.3 1595.0,661.8 1595.0,717.3 1591.5,718.6 1588.0,720.0 1584.5,721.3 1581.0,722.6 1577.5,724.0 1574.0,725.3 1570.5,727.9 1567.0,733.6 1563.5,739.3 1560.0,744.9 1556.5,750.6 1553.0,756.3 1549.5,757.1 1546.0,754.7 1542.5,752.4 1539.0,750.1 1535.5,747.7 1532.0,745.4 1528.5,743.1 1525.0,740.7 1521.5,738.7 1518.0,738.7 1514.5,738.7 1511.0,738.7 1507.5,738.7 1504.0,738.7 1500.5,738.7 1497.0,738.7 1493.5,738.7 1490.0,738.7 1486.5,738.7 1483.0,738.7 1479.5,738.7 1476.0,738.7 1472.5,738.7 1469.0,737.8 1465.5,737.0 1462.0,736.1 1458.5,735.2 1455.0,734.3 1451.5,733.5 1448.0,732.6 1444.5,731.7 1441.0,730.8 1437.5,730.0 1434.0,729.1 1430.5,728.2 1427.0,727.3 1423.5,726.5 1420.0,726.3 1416.5,726.3 1413.0,726.3 1409.5,726.3 1406.0,726.3 1402.5,726.3 1399.0,726.3 1395.5,726.3 1392.0,726.3 1388.5,726.3 1385.0,726.3 1381.5,726.3 1378.0,726.3 1374.5,726.3 1371.0,725.7 1367.5,724.9 1364.0,724.0 1360.5,723.1 1357.0,722.2 1353.5,721.4 1350.0,720.5 1346.5,719.6 1343.0,718.7 1339.5,717.9 1336.0,717.0 1332.5,716.1 1329.0,715.2 1325.5,714.4 1322.0,714.7 1318.5,716.2 1315.0,717.6 1311.5,719.1 1308.0,720.5 1304.5,722.0 1301.0,723.4 1297.5,724.9 1294.0,726.2 1290.5,722.7 1287.0,719.2 1283.5,715.7 1280.0,712.9 1276.5,710.7 1273.0,708.5 1269.5,706.3 1266.0,704.1 1262.5,701.9 1259.0,698.6 1255.5,695.1 1252.0,691.6 1248.5,685.6 1245.0,673.3 1241.5,661.1 1238.0,648.8 1234.5,636.6 1231.0,624.3 1227.5,612.1 1224.0,603.0 1220.5,605.1 1217.0,607.2 1213.5,609.3 1210.0,601.3 1206.5,588.7 1203.0,576.1 1199.5,568.2 1196.0,583.4 1192.5,596.5 1189.0,609.6 1185.5,626.6 1182.0,644.1 1178.5,661.6 1175.0,665.3 1171.5,643.5 1168.0,621.6 1164.5,606.5 1161.0,597.8 1157.5,589.0 1154.0,580.3 1150.5,572.0 1147.0,565.0 1143.5,558.0 1140.0,551.0 1136.5,556.9 1133.0,567.4 1129.5,577.9 1126.0,587.8 1122.5,595.3 1119.0,602.8 1115.5,610.3 1112.0,617.8 1108.5,617.1 1105.0,591.2 1101.5,565.3 1098.0,539.4 1094.5,540.3 1091.0,552.2 1087.5,564.1 1084.0,572.7 1080.5,565.7 1077.0,558.7 1073.5,551.7 1070.0,548.6 1066.5,547.7 1063.0,546.9 1059.5,546.0 1056.0,545.1 1052.5,544.2 1049.0,538.8 1045.5,533.2 1042.0,527.6 1038.5,527.8 1035.0,535.5 1031.5,543.2 1028.0,550.9 1024.5,535.2 1021.0,516.8 1017.5,499.3 1014.0,494.3 1010.5,489.3 1007.0,484.3 1003.5,479.3 1000.0,480.1 996.5,511.3 993.0,521.8 989.5,527.4 986.0,520.4 982.5,507.7 979.0,465.7 975.5,457.7 972.0,461.2 968.5,464.7 965.0,468.2 961.5,470.3 958.0,471.0 954.5,471.7 951.0,472.4 947.5,473.1 944.0,473.8 940.5,474.5 937.0,465.2 933.5,442.4 930.0,419.7 926.5,412.2 923.0,415.1 919.5,418.1 916.0,421.0 912.5,423.9 909.0,426.8 905.5,429.7 902.0,432.6 898.5,436.2 895.0,445.6 891.5,454.9 888.0,464.2 884.5,473.6 881.0,475.5 877.5,476.2 874.0,476.9 870.5,475.9 867.0,471.6 863.5,467.2 860.0,445.5 856.5,405.8 853.0,383.1 849.5,389.6 846.0,396.0 842.5,402.4 839.0,407.6 835.5,404.6 832.0,401.5 828.5,398.4 825.0,395.4 821.5,392.3 818.0,409.1 814.5,448.7 811.0,478.1 807.5,487.4 804.0,492.2 800.5,480.8 797.0,469.5 793.5,463.2 790.0,464.9 786.5,466.7 783.0,468.4 779.5,471.0 776.0,471.2 772.5,468.7 769.0,466.2 765.5,463.7 762.0,461.2 758.5,448.6 755.0,432.8 751.5,417.1 748.0,401.3 744.5,399.2 741.0,409.7 737.5,420.2 734.0,427.1 730.5,432.3 727.0,437.6 723.5,430.3 720.0,421.0 716.5,411.6 713.0,402.3 709.5,401.7 706.0,406.6 702.5,411.5 699.0,415.8 695.5,412.3 692.0,408.8 688.5,405.3 685.0,401.8 681.5,399.1 678.0,402.6 674.5,406.1 671.0,411.1 667.5,419.5 664.0,427.9 660.5,436.3 657.0,440.1 653.5,442.4 650.0,444.8 646.5,447.1 643.0,453.6 639.5,464.1 636.0,474.6 632.5,485.1 629.0,485.4 625.5,485.4 622.0,485.4 618.5,485.4 615.0,482.2 611.5,477.8 608.0,473.4 604.5,466.7 601.0,459.7 597.5,452.7 594.0,445.1 590.5,436.3 587.0,427.6 583.5,430.5 580.0,443.7 576.5,457.0 573.0,470.2 569.5,478.5 566.0,484.8 562.5,491.1 559.0,497.4 555.5,503.7 552.0,510.0 548.5,516.3 545.0,522.6 541.5,528.9 538.0,535.2 534.5,541.5 531.0,547.8 527.5,554.1 524.0,560.4 520.5,567.3 517.0,574.9 513.5,582.5 510.0,590.2 506.5,597.8 503.0,605.7 499.5,613.9 496.0,622.7 492.5,632.4 489.0,642.1 485.5,651.8 482.0,659.3 478.5,666.4 475.0,673.6 471.5,680.7 468.0,687.8 464.5,698.0 461.0,708.2 457.5,718.4 454.0,728.6 450.5,739.0 447.0,750.6 443.5,762.1 440.0,773.7 436.5,785.2 433.0,796.2 429.5,807.1 426.0,818.0 422.5,828.9 419.0,839.8 415.5,850.7 412.0,861.6 408.5,872.5 405.0,883.4 401.5,894.2 398.0,908.9 394.5,924.1 391.0,939.4 387.5,954.7 384.0,970.1 380.5,985.6 377.0,1004.0" fill="#0000ff"/>
<polyline points="377.0,996.7 379.4,989.3 381.8,972.6 384.2,966.9 386.6,952.5 389.0,947.1 391.4,930.2 393.8,925.2 396.2,909.8 398.6,904.7 401.0,890.5 403.4,886.9 405.8,874.5 408.2,871.0 410.6,860.4 413.0,856.5 415.4,843.8 417.8,843.3 420.2,821.6 422.6,828.5 425.0,815.9 427.4,807.3 429.8,788.9 432.2,797.9 434.6,784.5 437.0,782.0 439.4,768.9 441.8,770.0 444.2,752.2 446.6,751.8 449.0,736.3 451.4,734.3 453.8,722.9 456.2,721.2 458.6,707.7 461.0,707.4 463.4,693.7 465.8,693.3 468.2,681.8 470.6,680.0 473.0,671.1 475.4,672.2 477.8,662.1 480.2,660.7 482.6,651.3 485.0,653.2 487.4,639.8 489.8,637.8 492.2,619.0 494.6,625.8 497.0,613.8 499.4,613.9 501.8,601.4 504.2,600.3 506.6,592.0 509.0,591.8 511.4,581.3 513.8,585.1 516.2,569.4 518.6,564.4 521.0,558.5 523.4,561.2 525.8,550.1 528.2,552.3 530.6,541.9 533.0,543.2 535.4,534.1 537.8,534.2 540.2,524.5 542.6,526.7 545.0,517.2 547.4,517.5 549.8,507.8 552.2,506.3 554.6,496.2 557.0,510.8 559.4,489.0 561.8,498.9 564.2,486.0 566.6,482.7 569.0,473.7 571.4,473.4 573.8,448.7 576.2,451.5 578.6,425.0 581.0,433.1 581.8,416.6 582.6,400.2 583.4,383.7 585.8,415.7 587.0,393.9 588.2,372.0 589.0,388.5 589.8,404.9 590.6,421.3 591.8,399.9 593.0,378.5 593.6,395.9 594.2,413.3 594.8,430.7 595.4,448.1 596.0,429.3 596.6,410.5 597.2,391.6 597.8,372.8 598.4,393.0 599.0,413.2 599.6,433.4 600.2,453.6 600.8,435.4 601.4,417.3 602.0,399.1 602.6,381.0 603.2,399.8 603.8,418.6 604.4,437.4 605.0,456.2 605.6,437.9 606.2,419.6 606.8,401.3 607.4,383.0 608.0,404.9 608.6,426.9 609.2,448.8 609.8,470.7 610.6,453.8 611.4,436.9 612.2,420.0 613.0,439.2 613.8,458.3 614.6,477.5 615.4,459.7 616.2,442.0 617.0,424.2 617.8,441.0 618.6,457.7 619.4,474.4 620.2,457.5 621.0,440.5 621.8,423.6 622.6,444.1 623.4,464.7 624.2,485.2 624.8,468.5 625.4,451.8 626.0,435.1 626.6,418.4 627.4,440.1 628.2,461.8 629.0,483.5 629.6,462.5 630.2,441.5 630.8,420.5 631.4,399.5 632.0,417.4 632.6,435.4 633.2,453.3 633.8,471.2 634.6,451.4 635.4,431.6 636.2,411.8 637.4,431.6 638.6,451.4 639.4,433.5 640.2,415.5 641.0,397.5 641.8,412.8 642.6,428.1 643.4,443.3 644.2,424.6 645.0,405.8 645.8,387.1 646.6,405.6 647.4,424.2 648.2,442.7 648.8,423.7 649.4,404.6 650.0,385.6 650.6,366.6 651.2,386.5 651.8,406.4 652.4,426.4 653.0,446.3 653.5,428.1 654.0,409.9 654.4,391.6 654.9,373.4 655.4,355.2 656.0,376.2 656.6,397.3 657.2,418.4 657.8,439.5 658.4,417.7 659.0,395.9 659.6,374.2 660.2,352.4 660.8,370.0 661.4,387.5 662.0,405.0 662.6,422.6 663.2,402.6 663.8,382.7 664.4,362.7 665.0,342.8 665.8,364.6 666.6,386.3 667.4,408.1 668.2,388.2 669.0,368.3 669.8,348.4 670.6,367.6 671.4,386.9 672.2,406.1 672.7,388.3 673.2,370.6 673.6,352.8 674.1,335.1 674.6,317.3 675.2,338.8 675.8,360.2 676.4,381.7 677.0,403.2 677.5,385.4 678.0,367.6 678.4,349.9 678.9,332.1 679.4,314.3 680.0,331.6 680.6,348.8 681.2,366.0 681.8,383.2 682.4,366.4 683.0,349.6 683.6,332.8 684.2,316.0 684.8,337.8 685.4,359.6 686.0,381.5 686.6,403.3 687.2,381.4 687.8,359.4 688.4,337.5 689.0,315.6 689.5,333.8 690.0,352.1 690.4,370.4 690.9,388.6 691.4,406.9 692.0,386.0 692.6,365.2 693.2,344.4 693.8,323.6 696.2,345.9 698.6,338.4 699.2,355.4 699.8,372.3 700.4,389.3 701.0,406.3 701.8,390.9 702.6,375.6 703.4,360.2 704.6,380.8 705.8,401.4 706.6,381.5 707.4,361.6 708.2,341.8 710.6,338.5 713.0,327.5 713.6,345.2 714.2,362.9 714.8,380.6 715.4,398.3 716.0,381.1 716.6,363.9 717.2,346.7 717.8,329.5 718.4,351.0 719.0,372.6 719.6,394.1 720.2,415.6 720.8,398.0 721.4,380.3 722.0,362.6 722.6,345.0 723.2,366.7 723.8,388.5 724.4,410.2 725.0,432.0 725.6,412.8 726.2,393.6 726.8,374.4 727.4,355.2 728.0,374.6 728.6,393.9 729.2,413.3 729.8,432.6 730.4,412.3 731.0,391.9 731.6,371.6 732.2,351.2 732.8,369.8 733.4,388.3 734.0,406.8 734.6,425.4 735.2,405.1 735.8,384.8 736.4,364.5 737.0,344.3 737.6,360.9 738.2,377.5 738.8,394.1 739.4,410.7 740.2,389.4 741.0,368.1 741.8,346.8 743.0,368.2 744.2,389.6 745.0,373.4 745.8,357.2 746.6,341.0 747.4,361.8 748.2,382.7 749.0,403.5 749.8,385.4 750.6,367.3 751.4,349.3 752.0,368.6 752.6,387.9 753.2,407.2 753.8,426.5 754.4,405.6 755.0,384.6 755.6,363.6 756.2,342.7 758.6,370.1 761.0,384.9 761.6,403.8 762.2,422.6 762.8,441.5 763.4,460.4 763.9,442.3 764.4,424.3 764.8,406.2 765.3,388.2 765.8,370.1 766.4,390.7 767.0,411.2 767.6,431.7 768.2,452.3 768.7,434.2 769.2,416.1 769.6,398.0 770.1,380.0 770.6,361.9 771.1,382.5 771.6,403.0 772.0,423.6 772.5,444.2 773.0,464.7 773.5,445.1 774.0,425.5 774.4,405.9 774.9,386.3 775.4,366.6 776.6,388.3 777.8,410.0 779.0,391.2 780.2,372.4 780.8,393.9 781.4,415.4 782.0,436.9 782.6,458.3 783.1,437.3 783.6,416.3 784.0,395.3 784.5,374.3 785.0,353.3 785.4,371.9 785.8,390.6 786.2,409.2 786.6,427.8 787.0,446.4 787.4,465.1 787.8,445.6 788.2,426.1 788.6,406.6 789.0,387.1 789.4,367.6 789.8,348.1 792.2,357.5 794.6,367.3 795.1,387.0 795.6,406.7 796.0,426.5 796.5,446.2 797.0,465.9 797.4,446.5 797.8,427.1 798.2,407.7 798.6,388.2 799.0,368.8 799.4,349.4 799.8,367.9 800.2,386.3 800.6,404.8 801.0,423.3 801.4,441.8 801.8,460.2 802.2,441.3 802.6,422.4 803.0,403.5 803.4,384.6 803.8,365.7 804.2,346.8 804.5,367.0 804.9,387.3 805.2,407.5 805.6,427.7 805.9,448.0 806.3,468.2 806.6,488.4 806.9,469.0 807.3,449.6 807.6,430.2 808.0,410.8 808.3,391.4 808.7,372.0 809.0,352.6 809.4,372.4 809.8,392.2 810.2,412.0 810.6,431.8 811.0,451.6 811.4,471.5 811.8,449.9 812.2,428.4 812.6,406.8 813.0,385.3 813.4,363.7 813.8,342.2 814.4,362.3 815.0,382.4 815.6,402.5 816.2,422.7 816.7,403.7 817.2,384.7 817.6,365.7 818.1,346.7 818.6,327.7 819.4,346.8 820.2,366.0 821.0,385.1 821.8,368.0 822.6,350.8 823.4,333.7 824.2,354.0 825.0,374.4 825.8,394.7 826.6,376.7 827.4,358.7 828.2,340.7 829.0,355.6 829.8,370.5 830.6,385.4 831.8,364.6 833.0,343.9 833.8,361.9 834.6,379.9 835.4,398.0 836.0,380.7 836.6,363.5 837.2,346.2 837.8,329.0 838.4,348.6 839.0,368.3 839.6,387.9 840.2,407.6 840.8,389.0 841.4,370.4 842.0,351.8 842.6,333.3 845.0,345.8 847.4,322.2 848.2,339.3 849.0,356.3 849.8,373.4 850.6,356.0 851.4,338.7 852.2,321.3 853.0,339.4 853.8,357.5 854.6,375.6 855.4,359.1 856.2,342.6 857.0,326.2 857.4,344.5 857.8,362.9 858.2,381.3 858.6,399.6 859.0,418.0 859.4,436.4 859.8,417.8 860.2,399.2 860.6,380.6 861.0,362.0 861.4,343.5 861.8,324.9 862.1,344.3 862.5,363.7 862.8,383.1 863.2,402.4 863.5,421.8 863.9,441.2 864.2,460.6 864.5,439.7 864.9,418.8 865.2,397.8 865.6,376.9 865.9,356.0 866.3,335.1 866.6,314.1 866.9,334.5 867.2,354.9 867.5,375.2 867.8,395.6 868.1,415.9 868.4,436.3 868.7,456.6 869.0,477.0 869.3,456.9 869.7,436.7 870.0,416.6 870.4,396.5 870.7,376.4 871.1,356.2 871.4,336.1 871.7,355.9 872.1,375.7 872.4,395.5 872.8,415.3 873.1,435.0 873.5,454.8 873.8,474.6 874.1,455.7 874.5,436.7 874.8,417.7 875.2,398.7 875.5,379.8 875.9,360.8 876.2,341.8 876.6,362.1 877.0,382.3 877.4,402.6 877.8,422.8 878.2,443.1 878.6,463.3 878.9,443.7 879.3,424.1 879.6,404.5 880.0,384.9 880.3,365.3 880.7,345.7 881.0,326.1 881.3,345.3 881.7,364.5 882.0,383.7 882.4,402.9 882.7,422.1 883.1,441.3 883.4,460.5 883.8,440.9 884.2,421.3 884.6,401.7 885.0,382.1 885.4,362.5 885.8,342.9 886.2,362.5 886.6,382.2 887.0,401.9 887.4,421.6 887.8,441.3 888.2,461.0 888.6,442.2 889.0,423.5 889.4,404.8 889.8,386.0 890.2,367.3 890.6,348.6 891.1,366.5 891.6,384.4 892.0,402.3 892.5,420.2 893.0,438.1 893.5,419.4 894.0,400.8 894.4,382.1 894.9,363.5 895.4,344.9 896.0,364.9 896.6,384.9 897.2,404.9 897.8,424.9 898.4,403.9 899.0,382.8 899.6,361.8 900.2,340.8 900.8,361.4 901.4,382.0 902.0,402.5 902.6,423.1 903.4,401.6 904.2,380.2 905.0,358.7 905.8,378.4 906.6,398.1 907.4,417.8 908.2,398.5 909.0,379.2 909.8,359.9 910.6,378.9 911.4,397.9 912.2,416.9 912.8,399.2 913.4,381.5 914.0,363.7 914.6,346.0 915.2,364.2 915.8,382.5 916.4,400.7 917.0,418.9 917.6,399.1 918.2,379.2 918.8,359.4 919.4,339.6 921.8,358.1 924.2,334.7 926.6,352.2 929.0,335.9 929.6,356.4 930.2,377.0 930.8,397.5 931.4,418.0 932.0,397.4 932.6,376.9 933.2,356.3 933.8,335.7 934.2,355.6 934.6,375.5 935.0,395.4 935.4,415.3 935.8,435.1 936.2,455.0 936.8,438.4 937.4,421.9 938.0,405.3 938.6,388.7 939.2,409.0 939.8,429.3 940.4,449.6 941.0,469.9 941.4,449.3 941.8,428.7 942.2,408.1 942.6,387.5 943.0,366.9 943.4,346.3 943.8,364.8 944.2,383.3 944.6,401.9 945.0,420.4 945.4,438.9 945.8,457.5 946.4,436.9 947.0,416.3 947.6,395.8 948.2,375.2 948.7,394.6 949.2,414.0 949.6,433.3 950.1,452.7 950.6,472.1 951.1,453.8 951.6,435.4 952.0,417.1 952.5,398.8 953.0,380.4 953.6,401.0 954.2,421.7 954.8,442.3 955.4,462.9 956.0,443.5 956.6,424.0 957.2,404.6 957.8,385.2 958.4,403.1 959.0,421.1 959.6,439.1 960.2,457.1 960.8,435.1 961.4,413.1 962.0,391.1 962.6,369.2 963.2,390.6 963.8,412.1 964.4,433.6 965.0,455.0 965.6,434.8 966.2,414.6 966.8,394.4 967.4,374.2 968.0,396.1 968.6,418.0 969.2,440.0 969.8,461.9 970.2,442.8 970.6,423.7 971.0,404.5 971.4,385.4 971.8,366.3 972.2,347.2 972.7,368.5 973.2,389.7 973.6,411.0 974.1,432.2 974.6,453.5 975.1,434.0 975.6,414.5 976.0,395.0 976.5,375.5 977.0,356.0 977.5,376.3 978.0,396.6 978.4,416.9 978.9,437.2 979.4,457.5 979.9,436.6 980.4,415.6 980.8,394.7 981.3,373.7 981.8,352.8 982.1,374.0 982.5,395.2 982.8,416.4 983.2,437.6 983.5,458.9 983.9,480.1 984.2,501.3 984.5,480.6 984.9,459.8 985.2,439.1 985.6,418.3 985.9,397.6 986.3,376.9 986.6,356.1 987.4,378.0 988.2,400.0 989.0,421.9 989.6,441.5 990.2,461.1 990.8,480.7 991.4,500.4 993.8,503.7 994.1,483.2 994.5,462.7 994.8,442.2 995.2,421.7 995.5,401.2 995.9,380.7 996.2,360.1 996.5,379.1 996.9,398.0 997.2,416.9 997.6,435.8 997.9,454.7 998.3,473.6 998.6,492.5 998.9,472.4 999.3,452.4 999.6,432.3 1000.0,412.2 1000.3,392.1 1000.7,372.0 1001.0,352.0 1001.4,372.8 1001.8,393.6 1002.2,414.4 1002.6,435.2 1003.0,456.0 1003.4,476.8 1004.0,455.1 1004.6,433.3 1005.2,411.6 1005.8,389.8 1006.3,409.0 1006.8,428.1 1007.2,447.2 1007.7,466.4 1008.2,485.5 1008.6,464.3 1009.0,443.1 1009.4,421.9 1009.8,400.6 1010.2,379.4 1010.6,358.2 1011.0,379.4 1011.4,400.7 1011.8,422.0 1012.2,443.3 1012.6,464.5 1013.0,485.8 1013.4,464.6 1013.8,443.4 1014.2,422.1 1014.6,400.9 1015.0,379.7 1015.4,358.4 1015.7,378.2 1016.1,398.0 1016.4,417.8 1016.8,437.6 1017.1,457.4 1017.5,477.2 1017.8,496.9 1018.1,475.8 1018.5,454.6 1018.8,433.5 1019.2,412.3 1019.5,391.1 1019.9,370.0 1020.2,348.8 1020.5,370.3 1020.8,391.8 1021.1,413.3 1021.4,434.8 1021.7,456.3 1022.0,477.8 1022.3,499.3 1022.6,520.8 1022.9,499.9 1023.3,479.0 1023.6,458.1 1024.0,437.2 1024.3,416.2 1024.7,395.3 1025.0,374.4 1025.3,394.1 1025.5,413.8 1025.8,433.5 1026.1,453.2 1026.3,472.9 1026.6,492.6 1026.9,512.3 1027.1,532.0 1027.4,551.7 1027.9,530.6 1028.4,509.5 1028.8,488.4 1029.3,467.3 1029.8,446.2 1030.3,463.9 1030.8,481.7 1031.2,499.4 1031.7,517.1 1032.2,534.9 1032.8,516.3 1033.4,497.7 1034.0,479.1 1034.6,460.6 1035.4,475.4 1036.2,490.1 1037.0,504.9 1038.2,484.0 1039.4,463.1 1040.2,483.8 1041.0,504.5 1041.8,525.2 1042.4,508.3 1043.0,491.5 1043.6,474.6 1044.2,457.7 1044.8,476.2 1045.4,494.7 1046.0,513.2 1046.6,531.7 1047.2,512.6 1047.8,493.5 1048.4,474.4 1049.0,455.3 1049.6,473.5 1050.2,491.7 1050.8,509.9 1051.4,528.0 1052.0,509.1 1052.6,490.1 1053.2,471.2 1053.8,452.2 1054.4,473.9 1055.0,495.5 1055.6,517.1 1056.2,538.8 1056.8,517.4 1057.4,496.0 1058.0,474.6 1058.6,453.2 1059.4,470.5 1060.2,487.8 1061.0,505.1 1063.4,493.3 1064.2,510.4 1065.0,527.6 1065.8,544.7 1068.2,516.2 1070.6,542.5 1073.0,512.2 1074.2,530.7 1075.4,549.2 1077.8,548.1 1080.2,557.3 1080.7,538.3 1081.2,519.3 1081.6,500.3 1082.1,481.2 1082.6,462.2 1083.1,483.2 1083.6,504.1 1084.0,525.1 1084.5,546.1 1085.0,567.0 1085.5,545.3 1086.0,523.6 1086.4,501.8 1086.9,480.1 1087.4,458.3 1087.9,477.6 1088.4,496.8 1088.8,516.1 1089.3,535.3 1089.8,554.5 1090.3,535.6 1090.8,516.7 1091.2,497.7 1091.7,478.8 1092.2,459.9 1092.8,477.6 1093.4,495.2 1094.0,512.9 1094.6,530.6 1095.2,511.4 1095.8,492.3 1096.4,473.1 1097.0,453.9 1097.6,474.3 1098.2,494.7 1098.8,515.2 1099.4,535.6 1100.2,518.9 1101.0,502.2 1101.8,485.5 1102.3,504.4 1102.8,523.2 1103.2,542.0 1103.7,560.8 1104.2,579.6 1105.0,559.6 1105.8,539.5 1106.6,519.5 1107.1,539.0 1107.6,558.5 1108.0,578.1 1108.5,597.6 1109.0,617.1 1109.6,596.5 1110.2,575.9 1110.8,555.3 1111.4,534.7 1112.6,552.8 1113.8,570.8 1115.0,554.2 1116.2,537.5 1117.0,555.2 1117.8,572.8 1118.6,590.5 1119.4,572.3 1120.2,554.2 1121.0,536.1 1121.8,554.5 1122.6,573.0 1123.4,591.5 1124.2,571.1 1125.0,550.6 1125.8,530.2 1127.0,551.9 1128.2,573.6 1129.0,558.2 1129.8,542.8 1130.6,527.4 1131.8,546.4 1133.0,565.4 1133.8,547.8 1134.6,530.2 1135.4,512.6 1136.6,531.3 1137.8,550.0 1139.0,528.7 1140.2,507.4 1141.4,528.4 1142.6,549.4 1143.8,528.7 1145.0,508.1 1145.8,526.2 1146.6,544.3 1147.4,562.4 1148.2,546.4 1149.0,530.4 1149.8,514.3 1150.6,534.5 1151.4,554.6 1152.2,574.7 1153.0,553.0 1153.8,531.3 1154.6,509.6 1155.2,526.2 1155.8,542.8 1156.4,559.4 1157.0,576.0 1157.8,559.4 1158.6,542.9 1159.4,526.3 1160.2,546.4 1161.0,566.5 1161.8,586.6 1162.6,568.6 1163.4,550.5 1164.2,532.5 1164.8,552.4 1165.4,572.3 1166.0,592.1 1166.6,612.0 1169.0,581.6 1170.2,601.3 1171.4,621.1 1172.0,602.6 1172.6,584.1 1173.2,565.6 1173.8,547.1 1174.2,567.5 1174.6,587.8 1175.0,608.2 1175.4,628.5 1175.8,648.9 1176.2,669.2 1176.5,650.3 1176.9,631.3 1177.2,612.4 1177.6,593.4 1177.9,574.4 1178.3,555.5 1178.6,536.5 1179.1,557.3 1179.6,578.1 1180.0,598.8 1180.5,619.6 1181.0,640.4 1181.5,620.2 1182.0,600.0 1182.4,579.8 1182.9,559.6 1183.4,539.5 1184.0,559.8 1184.6,580.2 1185.2,600.5 1185.8,620.9 1186.4,601.1 1187.0,581.4 1187.6,561.6 1188.2,541.8 1189.0,562.1 1189.8,582.3 1190.6,602.6 1191.1,583.9 1191.6,565.2 1192.0,546.5 1192.5,527.8 1193.0,509.2 1193.6,527.8 1194.2,546.4 1194.8,565.0 1195.4,583.6 1195.9,565.7 1196.4,547.8 1196.8,529.9 1197.3,512.1 1197.8,494.2 1198.4,511.2 1199.0,528.1 1199.6,545.1 1200.2,562.1 1202.6,547.0 1205.0,549.7 1205.8,528.9 1206.6,508.2 1207.4,487.4 1207.9,509.2 1208.4,530.9 1208.8,552.7 1209.3,574.5 1209.8,596.3 1210.2,575.7 1210.6,555.2 1211.0,534.6 1211.4,514.0 1211.8,493.4 1212.2,472.9 1212.6,493.4 1213.0,514.0 1213.4,534.6 1213.8,555.1 1214.2,575.7 1214.6,596.3 1215.1,576.4 1215.6,556.6 1216.0,536.7 1216.5,516.8 1217.0,497.0 1217.5,518.7 1218.0,540.4 1218.4,562.1 1218.9,583.8 1219.4,605.5 1219.9,585.7 1220.4,565.9 1220.8,546.2 1221.3,526.4 1221.8,506.6 1224.2,528.3 1226.6,500.0 1227.1,521.4 1227.6,542.7 1228.0,564.1 1228.5,585.5 1229.0,606.9 1229.4,588.6 1229.8,570.2 1230.2,551.9 1230.6,533.5 1231.0,515.2 1231.4,496.8 1231.8,518.1 1232.2,539.3 1232.6,560.6 1233.0,581.8 1233.4,603.1 1233.8,624.3 1234.2,603.6 1234.6,582.9 1235.0,562.1 1235.4,541.4 1235.8,520.6 1236.2,499.9 1236.5,520.2 1236.9,540.5 1237.2,560.7 1237.6,581.0 1237.9,601.3 1238.3,621.6 1238.6,641.9 1239.1,620.4 1239.6,598.8 1240.0,577.3 1240.5,555.8 1241.0,534.3 1241.4,555.8 1241.8,577.3 1242.2,598.8 1242.6,620.3 1243.0,641.8 1243.4,663.4 1243.8,643.6 1244.2,623.8 1244.6,604.0 1245.0,584.2 1245.4,564.4 1245.8,544.6 1246.1,563.8 1246.5,583.0 1246.8,602.3 1247.2,621.5 1247.5,640.7 1247.9,659.9 1248.2,679.1 1248.6,657.7 1249.0,636.3 1249.4,614.9 1249.8,593.5 1250.2,572.1 1250.6,550.7 1251.0,572.4 1251.4,594.2 1251.8,615.9 1252.2,637.7 1252.6,659.4 1253.0,681.2 1253.5,662.5 1254.0,643.8 1254.4,625.1 1254.9,606.4 1255.4,587.7 1255.9,608.7 1256.4,629.6 1256.8,650.5 1257.3,671.4 1257.8,692.3 1258.4,673.6 1259.0,654.9 1259.6,636.3 1260.2,617.6 1260.8,636.9 1261.4,656.3 1262.0,675.7 1262.6,695.0 1263.2,675.6 1263.8,656.1 1264.4,636.6 1265.0,617.2 1265.6,638.0 1266.2,658.8 1266.8,679.6 1267.4,700.4 1268.0,681.4 1268.6,662.5 1269.2,643.5 1269.8,624.6 1270.4,644.8 1271.0,665.0 1271.6,685.2 1272.2,705.4 1272.8,686.6 1273.4,667.7 1274.0,648.9 1274.6,630.0 1275.2,649.4 1275.8,668.8 1276.4,688.2 1277.0,707.5 1277.6,690.9 1278.2,674.4 1278.8,657.8 1279.4,641.2 1280.2,662.5 1281.0,683.7 1281.8,705.0 1282.6,684.1 1283.4,663.2 1284.2,642.3 1285.4,658.9 1286.6,675.5 1289.0,665.3 1289.8,683.7 1290.6,702.0 1291.4,720.4 1292.2,702.9 1293.0,685.4 1293.8,667.9 1294.6,684.7 1295.4,701.5 1296.2,718.3 1298.6,717.0 1301.0,720.7 1301.8,705.0 1302.6,689.4 1303.4,673.7 1304.6,694.8 1305.8,716.0 1307.0,696.4 1308.2,676.9 1309.4,694.3 1310.6,711.8 1311.8,695.1 1313.0,678.4 1314.2,697.8 1315.4,717.3 1316.6,698.0 1317.8,678.8 1319.0,696.2 1320.2,713.6 1322.6,694.1 1325.0,701.0 1327.4,703.5 1329.8,707.9 1331.0,687.6 1332.2,667.4 1333.0,683.3 1333.8,699.3 1334.6,715.3 1335.4,698.3 1336.2,681.3 1337.0,664.4 1337.8,681.9 1338.6,699.5 1339.4,717.1 1340.6,695.3 1341.8,673.4 1342.6,688.5 1343.4,703.7 1344.2,718.8 1345.0,700.1 1345.8,681.3 1346.6,662.6 1347.4,679.4 1348.2,696.3 1349.0,713.1 1349.8,695.9 1350.6,678.7 1351.4,661.4 1352.2,680.2 1353.0,698.9 1353.8,717.7 1354.6,700.2 1355.4,682.8 1356.2,665.3 1357.0,682.6 1357.8,699.9 1358.6,717.2 1359.4,698.4 1360.2,679.6 1361.0,660.8 1361.8,679.7 1362.6,698.5 1363.4,717.4 1364.2,698.9 1365.0,680.4 1365.8,661.9 1366.6,680.2 1367.4,698.5 1368.2,716.8 1369.0,701.0 1369.8,685.2 1370.6,669.3 1371.4,685.7 1372.2,702.0 1373.0,718.4 1373.8,697.8 1374.6,677.3 1375.4,656.7 1376.2,676.3 1377.0,695.9 1377.8,715.5 1378.6,696.0 1379.4,676.5 1380.2,657.0 1381.0,678.0 1381.8,699.0 1382.6,720.0 1383.2,699.5 1383.8,679.0 1384.4,658.5 1385.0,638.0 1385.5,657.6 1386.0,677.1 1386.4,696.7 1386.9,716.2 1387.4,735.7 1387.9,715.0 1388.4,694.2 1388.8,673.4 1389.3,652.6 1389.8,631.8 1390.4,652.0 1391.0,672.2 1391.6,692.4 1392.2,712.6 1392.8,691.5 1393.4,670.5 1394.0,649.4 1394.6,628.4 1397.0,644.1 1399.4,636.5 1400.0,653.5 1400.6,670.5 1401.2,687.4 1401.8,704.4 1402.6,686.2 1403.4,668.0 1404.2,649.7 1404.8,667.2 1405.4,684.6 1406.0,702.0 1406.6,719.5 1407.2,701.0 1407.8,682.5 1408.4,663.9 1409.0,645.4 1409.8,667.4 1410.6,689.4 1411.4,711.4 1413.8,679.7 1415.0,697.7 1416.2,715.7 1418.6,688.7 1419.8,707.2 1421.0,725.6 1422.2,705.7 1423.4,685.8 1425.8,715.9 1428.2,687.6 1429.0,702.5 1429.8,717.5 1430.6,732.4 1431.4,712.8 1432.2,693.2 1433.0,673.6 1434.2,694.5 1435.4,715.3 1436.2,699.9 1437.0,684.5 1437.8,669.1 1438.6,685.6 1439.4,702.0 1440.2,718.5 1441.0,700.9 1441.8,683.3 1442.6,665.8 1443.4,685.9 1444.2,706.0 1445.0,726.1 1445.8,705.6 1446.6,685.0 1447.4,664.4 1448.2,684.5 1449.0,704.6 1449.8,724.8 1450.6,706.2 1451.4,687.7 1452.2,669.1 1453.0,686.4 1453.8,703.8 1454.6,721.1 1455.4,702.1 1456.2,683.1 1457.0,664.1 1457.8,684.5 1458.6,704.8 1459.4,725.1 1460.6,704.2 1461.8,683.3 1463.0,704.7 1464.2,726.1 1466.6,695.3 1467.8,715.4 1469.0,735.6 1470.2,714.9 1471.4,694.2 1472.6,715.2 1473.8,736.1 1474.6,718.0 1475.4,699.9 1476.2,681.9 1477.0,700.5 1477.8,719.1 1478.6,737.8 1479.4,721.5 1480.2,705.2 1481.0,689.0 1481.8,705.0 1482.6,720.9 1483.4,736.9 1484.0,720.1 1484.6,703.3 1485.2,686.5 1485.8,669.7 1486.6,688.1 1487.4,706.5 1488.2,725.0 1488.8,705.9 1489.4,686.9 1490.0,667.9 1490.6,648.9 1491.2,669.7 1491.8,690.5 1492.4,711.4 1493.0,732.2 1493.5,712.8 1494.0,693.5 1494.4,674.1 1494.9,654.7 1495.4,635.4 1495.9,655.5 1496.4,675.6 1496.8,695.7 1497.3,715.9 1497.8,736.0 1498.3,717.2 1498.8,698.5 1499.2,679.7 1499.7,661.0 1500.2,642.2 1500.7,660.0 1501.2,677.8 1501.6,695.6 1502.1,713.4 1502.6,731.2 1503.1,713.1 1503.6,695.0 1504.0,676.9 1504.5,658.9 1505.0,640.8 1505.5,660.6 1506.0,680.4 1506.4,700.2 1506.9,720.0 1507.4,739.8 1508.0,722.6 1508.6,705.4 1509.2,688.2 1509.8,671.1 1510.4,689.5 1511.0,707.9 1511.6,726.3 1512.2,744.7 1512.8,727.1 1513.4,709.4 1514.0,691.8 1514.6,674.2 1515.4,690.2 1516.2,706.2 1517.0,722.2 1517.8,707.1 1518.6,691.9 1519.4,676.8 1520.2,693.7 1521.0,710.6 1521.8,727.5 1522.6,706.3 1523.4,685.0 1524.2,663.7 1524.8,682.4 1525.4,701.1 1526.0,719.8 1526.6,738.5 1527.4,723.0 1528.2,707.5 1529.0,692.0 1529.8,709.0 1530.6,726.0 1531.4,743.0 1533.8,728.2 1536.2,757.3 1537.4,739.1 1538.6,721.0 1541.0,741.9 1543.4,748.7 1545.8,753.6 1548.2,721.4 1550.6,743.4 1551.8,723.5 1553.0,703.6 1553.8,718.6 1554.6,733.6 1555.4,748.7 1556.2,728.3 1557.0,707.9 1557.8,687.5 1558.6,705.4 1559.4,723.2 1560.2,741.0 1561.0,724.8 1561.8,708.5 1562.6,692.3 1565.0,723.8 1565.8,708.5 1566.6,693.3 1567.4,678.0 1568.6,699.0 1569.8,720.0 1570.6,704.7 1571.4,689.5 1572.2,674.2 1573.0,691.2 1573.8,708.1 1574.6,725.1 1575.4,708.7 1576.2,692.4 1577.0,676.1 1578.2,695.4 1579.4,714.7 1580.6,692.7 1581.8,670.8 1582.6,687.0 1583.4,703.3 1584.2,719.5 1585.0,701.2 1585.8,682.8 1586.6,664.4 1587.8,686.3 1589.0,708.2 1590.2,686.3 1591.4,664.5 1592.2,680.3 1593.0,696.1 1593.8,711.9" fill="none" stroke="#0000ff" stroke-width="6.5" stroke-linejoin="round" stroke-linecap="round" marker-start="url(#atr)" marker-mid="url(#atr)" marker-end="url(#atr)"/>
<polyline points="378.6,651.6 380.0,600.0 378.6,567.0 382.3,543.0 383.5,505.8 384.8,481.0 386.0,426.5 387.2,394.3 388.5,357.2 389.7,327.5 391.0,290.0 393.0,250.0 395.0,215.0 397.0,190.0 398.7,173.1 401.5,144.5 405.8,127.3 410.0,150.0 404.0,170.0 417.0,173.0 414.0,150.0 423.0,134.5 428.0,120.0 431.6,90.5 432.5,130.0 435.9,151.6 431.6,173.1 435.0,200.0 405.8,320.0 409.5,352.2 438.0,300.0 441.0,340.0 446.0,372.0 451.0,400.0 449.0,430.0 455.0,455.0 452.0,476.0" fill="none" stroke="#000000" stroke-width="6.5" stroke-linejoin="round" stroke-linecap="round" marker-start="url(#aci)" marker-mid="url(#aci)" marker-end="url(#aci)"/>
<polygon points="452.0,452.0 455.5,467.0 459.0,480.0 462.5,487.8 466.0,487.4 469.5,471.2 473.0,455.1 476.5,438.9 480.0,429.5 483.5,425.1 487.0,420.8 490.5,418.6 494.0,429.5 497.5,440.4 501.0,472.0 504.5,507.0 508.0,524.0 511.5,538.0 515.0,552.0 518.5,566.0 522.0,565.3 525.5,553.7 529.0,542.0 532.5,530.3 536.0,518.7 539.5,507.3 543.0,496.3 546.5,494.1 550.0,503.8 553.5,517.4 557.0,554.9 560.5,587.1 564.0,587.8 567.5,588.5 571.0,589.2 574.5,589.9 578.0,590.6 581.5,591.3 585.0,592.0 588.5,606.0 592.0,620.0 595.5,634.0 599.0,648.0 602.5,655.8 606.0,661.0 609.5,666.2 613.0,671.5 616.5,676.8 620.0,682.0 623.5,687.2 627.0,692.5 630.5,697.8 634.0,703.0 637.5,708.2 641.0,712.1 644.5,712.4 648.0,712.7 651.5,713.0 655.0,713.2 658.5,713.5 662.0,713.8 665.5,714.1 669.0,714.4 672.5,714.7 676.0,715.0 679.5,715.3 683.0,715.6 686.5,715.9 690.0,716.2 693.5,716.5 697.0,716.8 700.5,717.0 704.0,717.0 707.5,717.0 711.0,717.0 714.5,717.0 718.0,717.0 721.5,717.0 725.0,717.0 728.5,717.0 732.0,717.0 735.5,717.0 739.0,717.0 742.5,717.0 746.0,717.0 749.5,717.0 753.0,717.0 756.5,717.0 760.0,717.0 763.5,716.6 767.0,716.1 770.5,715.7 774.0,715.2 777.5,714.8 781.0,714.4 784.5,713.9 788.0,713.5 791.5,713.1 795.0,712.6 798.5,712.2 802.0,712.0 805.5,712.0 809.0,712.0 812.5,712.0 816.0,712.0 819.5,712.0 823.0,712.0 826.5,712.0 830.0,712.0 833.5,712.0 837.0,712.0 840.5,712.0 844.0,712.0 847.5,712.0 851.0,712.0 854.5,712.0 858.0,712.0 861.5,713.7 865.0,717.8 868.5,721.8 872.0,725.8 875.5,729.8 879.0,733.9 882.5,726.8 886.0,715.3 889.5,703.8 893.0,692.3 896.5,689.0 900.0,689.0 903.5,689.0 907.0,689.0 910.5,665.2 914.0,654.7 917.5,654.1 921.0,653.5 924.5,652.9 928.0,652.3 931.5,670.0 935.0,712.0 938.5,718.8 942.0,725.7 945.5,732.5 949.0,739.3 952.5,746.2 956.0,753.0 959.5,752.1 963.0,751.2 966.5,750.4 970.0,749.5 973.5,748.9 977.0,748.5 980.5,748.2 984.0,747.9 987.5,747.6 991.0,747.3 994.5,746.2 998.0,740.3 1001.5,734.5 1005.0,731.9 1008.5,731.8 1012.0,731.6 1015.5,731.5 1019.0,731.3 1022.5,731.2 1026.0,731.0 1029.5,729.4 1033.0,727.2 1036.5,725.0 1040.0,732.0 1043.5,746.0 1047.0,760.0 1050.5,771.8 1054.0,770.5 1057.5,769.1 1061.0,767.8 1064.5,763.2 1068.0,754.5 1071.5,745.8 1075.0,737.0 1078.5,732.7 1082.0,734.3 1085.5,736.0 1089.0,737.6 1092.5,739.3 1096.0,740.9 1099.5,742.5 1103.0,744.2 1106.5,745.8 1110.0,746.4 1113.5,744.5 1117.0,742.6 1120.5,740.0 1124.0,737.3 1127.5,734.5 1131.0,731.8 1134.5,731.7 1138.0,732.6 1141.5,733.5 1145.0,741.6 1148.5,759.4 1152.0,769.0 1155.5,772.5 1159.0,776.0 1162.5,779.5 1166.0,797.3 1169.5,825.8 1173.0,818.6 1176.5,784.6 1180.0,769.7 1183.5,769.2 1187.0,768.6 1190.5,768.1 1194.0,767.6 1197.5,767.1 1201.0,769.3 1204.5,772.0 1208.0,774.7 1211.5,777.4 1215.0,780.0 1218.5,782.7 1222.0,785.4 1225.5,788.1 1229.0,790.2 1232.5,790.8 1236.0,791.3 1239.5,791.9 1243.0,782.4 1246.5,771.1 1250.0,759.9 1253.5,748.6 1257.0,746.3 1260.5,745.6 1264.0,744.8 1267.5,744.1 1271.0,743.3 1274.5,742.5 1278.0,742.9 1281.5,746.0 1285.0,749.1 1288.5,752.2 1292.0,755.3 1295.5,757.4 1299.0,752.9 1302.5,748.4 1306.0,743.9 1309.5,739.4 1313.0,735.1 1316.5,730.9 1320.0,726.6 1323.5,722.3 1327.0,718.1 1330.5,713.8 1334.0,716.2 1337.5,723.5 1341.0,730.9 1344.5,738.2 1348.0,745.6 1351.5,753.0 1355.0,761.7 1358.5,770.7 1362.0,764.3 1365.5,755.4 1369.0,745.6 1372.5,733.9 1376.0,722.1 1379.5,710.4 1383.0,701.7 1386.5,700.7 1390.0,699.7 1393.5,698.7 1397.0,697.7 1400.5,696.7 1404.0,695.7 1407.5,694.7 1411.0,693.8 1414.5,693.2 1418.0,692.7 1421.5,692.1 1425.0,692.0 1428.5,692.0 1432.0,692.0 1435.5,692.0 1439.0,692.0 1442.5,692.0 1446.0,692.0 1449.5,716.0 1453.0,740.0 1456.5,765.0 1460.0,790.0 1463.5,787.1 1467.0,784.3 1470.5,781.4 1474.0,724.0 1477.5,723.0 1481.0,722.1 1484.5,721.1 1488.0,720.1 1491.5,719.1 1495.0,720.6 1498.5,722.4 1502.0,724.2 1505.5,726.0 1509.0,727.9 1512.5,729.7 1516.0,734.0 1519.5,744.5 1523.0,755.0 1526.5,758.0 1530.0,758.0 1533.5,758.0 1537.0,758.0 1540.5,761.9 1544.0,767.3 1547.5,772.3 1551.0,774.6 1554.5,776.8 1558.0,779.1 1561.5,772.4 1565.0,712.0 1568.5,714.5 1572.0,717.0 1575.5,719.5 1579.0,722.0 1582.5,724.5 1586.0,727.0 1589.5,729.5 1593.0,732.0 1596.5,734.5 1600.0,737.0 1603.5,739.5 1607.0,742.0 1610.5,748.2 1614.0,754.4 1614.0,867.1 1610.5,868.4 1607.0,869.7 1603.5,856.7 1600.0,842.0 1596.5,832.5 1593.0,838.2 1589.5,844.0 1586.0,849.8 1582.5,853.7 1579.0,853.7 1575.5,853.7 1572.0,853.7 1568.5,853.7 1565.0,853.7 1561.5,853.7 1558.0,854.2 1554.5,854.8 1551.0,855.4 1547.5,856.0 1544.0,856.5 1540.5,857.1 1537.0,857.7 1533.5,864.0 1530.0,874.6 1526.5,885.2 1523.0,888.4 1519.5,873.2 1516.0,858.0 1512.5,849.4 1509.0,843.3 1505.5,837.3 1502.0,831.2 1498.5,826.7 1495.0,831.5 1491.5,836.3 1488.0,841.2 1484.5,853.2 1481.0,866.8 1477.5,880.3 1474.0,893.8 1470.5,894.5 1467.0,893.9 1463.5,893.3 1460.0,892.7 1456.5,888.7 1453.0,884.7 1449.5,880.6 1446.0,876.6 1442.5,832.4 1439.0,835.7 1435.5,839.1 1432.0,841.7 1428.5,839.3 1425.0,836.8 1421.5,835.1 1418.0,834.4 1414.5,833.8 1411.0,833.1 1407.5,832.4 1404.0,831.8 1400.5,831.1 1397.0,857.1 1393.5,870.5 1390.0,875.2 1386.5,879.8 1383.0,884.5 1379.5,885.4 1376.0,884.8 1372.5,884.2 1369.0,883.7 1365.5,886.0 1362.0,889.5 1358.5,893.1 1355.0,896.6 1351.5,899.2 1348.0,896.3 1344.5,893.4 1341.0,890.6 1337.5,864.1 1334.0,836.1 1330.5,818.3 1327.0,822.5 1323.5,826.8 1320.0,831.0 1316.5,835.2 1313.0,839.4 1309.5,843.6 1306.0,865.7 1302.5,893.1 1299.0,897.0 1295.5,897.0 1292.0,897.0 1288.5,897.0 1285.0,894.7 1281.5,886.8 1278.0,878.8 1274.5,870.8 1271.0,862.9 1267.5,860.9 1264.0,861.4 1260.5,861.8 1257.0,862.3 1253.5,862.7 1250.0,864.8 1246.5,868.9 1243.0,873.1 1239.5,877.2 1236.0,881.4 1232.5,885.6 1229.0,881.5 1225.5,866.3 1222.0,856.4 1218.5,852.9 1215.0,849.4 1211.5,845.8 1208.0,842.3 1204.5,838.8 1201.0,835.3 1197.5,844.7 1194.0,855.3 1190.5,866.0 1187.0,876.6 1183.5,878.4 1180.0,880.2 1176.5,882.0 1173.0,883.8 1169.5,885.6 1166.0,879.6 1162.5,871.4 1159.0,863.1 1155.5,854.9 1152.0,847.8 1148.5,840.9 1145.0,834.0 1141.5,831.0 1138.0,831.0 1134.5,831.0 1131.0,831.0 1127.5,831.0 1124.0,831.0 1120.5,831.0 1117.0,844.1 1113.5,857.2 1110.0,870.3 1106.5,863.2 1103.0,848.0 1099.5,834.4 1096.0,830.4 1092.5,826.4 1089.0,822.4 1085.5,819.3 1082.0,821.4 1078.5,823.5 1075.0,825.5 1071.5,827.6 1068.0,835.4 1064.5,847.4 1061.0,859.4 1057.5,871.4 1054.0,868.3 1050.5,853.8 1047.0,839.3 1043.5,830.8 1040.0,830.3 1036.5,829.8 1033.0,829.4 1029.5,828.9 1026.0,828.1 1022.5,826.0 1019.0,823.8 1015.5,821.6 1012.0,819.5 1008.5,817.3 1005.0,822.1 1001.5,828.1 998.0,834.0 994.5,840.0 991.0,830.3 987.5,820.5 984.0,810.8 980.5,810.8 977.0,814.8 973.5,818.7 970.0,822.6 966.5,825.6 963.0,822.5 959.5,819.5 956.0,816.4 952.5,813.4 949.0,810.3 945.5,807.3 942.0,804.9 938.5,802.9 935.0,801.0 931.5,799.1 928.0,797.1 924.5,798.2 921.0,803.5 917.5,808.8 914.0,814.0 910.5,814.7 907.0,809.2 903.5,803.8 900.0,800.7 896.5,797.9 893.0,795.2 889.5,792.4 886.0,789.7 882.5,787.0 879.0,786.6 875.5,792.1 872.0,797.6 868.5,803.1 865.0,807.3 861.5,810.1 858.0,812.9 854.5,815.7 851.0,821.1 847.5,826.7 844.0,832.3 840.5,832.8 837.0,825.8 833.5,818.8 830.0,811.8 826.5,809.7 823.0,808.3 819.5,806.9 816.0,805.5 812.5,804.1 809.0,802.7 805.5,801.3 802.0,798.4 798.5,795.2 795.0,791.9 791.5,788.7 788.0,785.4 784.5,782.2 781.0,778.9 777.5,774.0 774.0,768.5 770.5,763.0 767.0,757.4 763.5,756.2 760.0,756.6 756.5,756.9 753.0,757.2 749.5,757.5 746.0,757.8 742.5,758.2 739.0,758.5 735.5,769.7 732.0,784.5 728.5,807.4 725.0,812.9 721.5,795.5 718.0,788.3 714.5,788.8 711.0,789.2 707.5,789.7 704.0,790.2 700.5,790.7 697.0,791.1 693.5,791.6 690.0,792.1 686.5,792.6 683.0,793.1 679.5,793.5 676.0,794.0 672.5,794.5 669.0,794.9 665.5,795.4 662.0,795.8 658.5,796.3 655.0,796.8 651.5,797.2 648.0,797.7 644.5,798.0 641.0,796.6 637.5,795.3 634.0,793.9 630.5,792.6 627.0,791.2 623.5,789.9 620.0,788.5 616.5,787.2 613.0,785.9 609.5,784.2 606.0,782.4 602.5,780.7 599.0,778.9 595.5,777.2 592.0,775.4 588.5,773.7 585.0,771.9 581.5,756.8 578.0,721.4 574.5,716.8 571.0,712.1 567.5,707.5 564.0,702.8 560.5,695.5 557.0,687.2 553.5,678.8 550.0,670.5 546.5,662.1 543.0,650.1 539.5,617.6 536.0,616.6 532.5,615.6 529.0,614.5 525.5,613.5 522.0,612.5 518.5,611.5 515.0,610.4 511.5,605.2 508.0,596.9 504.5,588.5 501.0,580.2 497.5,572.9 494.0,572.4 490.5,571.9 487.0,571.3 483.5,570.8 480.0,570.3 476.5,569.7 473.0,569.2 469.5,568.7 466.0,568.2 462.5,530.5 459.0,480.0 455.5,478.0 452.0,478.0" fill="#000000"/>
<polyline points="452.0,452.1 454.6,479.6 457.2,474.4 459.8,491.4 462.4,498.8 463.3,519.7 464.1,540.5 465.0,561.3 465.7,540.9 466.3,520.5 467.0,500.1 467.6,479.7 468.1,500.2 468.6,520.7 469.2,541.2 469.7,561.7 470.2,582.2 470.7,558.7 471.2,535.3 471.8,511.8 472.3,488.4 472.8,465.0 473.5,487.2 474.1,509.4 474.8,531.7 475.4,553.9 475.9,531.5 476.4,509.1 477.0,486.8 477.5,464.4 478.0,442.0 480.6,433.5 483.2,429.1 483.6,450.1 484.1,471.0 484.5,492.0 484.9,512.9 485.4,533.9 485.8,554.8 486.2,533.7 486.7,512.6 487.1,491.5 487.5,470.3 488.0,449.2 488.4,428.1 488.8,451.3 489.3,474.6 489.7,497.8 490.1,521.1 490.6,544.3 491.0,567.5 491.4,544.2 491.9,520.8 492.3,497.5 492.7,474.2 493.2,450.8 493.6,427.5 494.0,451.2 494.5,475.0 494.9,498.7 495.3,522.5 495.8,546.2 496.2,570.0 496.6,549.8 497.1,529.6 497.5,509.4 497.9,489.2 498.4,469.0 498.8,448.9 499.2,469.6 499.7,490.3 500.1,510.9 500.5,531.6 501.0,552.3 501.4,573.0 502.3,553.9 503.1,534.7 504.0,515.5 504.9,536.7 505.7,557.9 506.6,579.2 507.5,562.6 508.3,546.1 509.2,529.5 511.8,549.2 514.4,539.1 517.0,561.0 519.6,563.2 520.9,586.6 522.2,610.0 523.5,586.1 524.8,562.2 527.4,575.1 530.0,543.6 530.7,561.9 531.3,580.1 532.0,598.4 532.6,616.6 533.1,595.8 533.6,575.0 534.2,554.1 534.7,533.3 535.2,512.5 535.9,534.2 536.5,555.9 537.2,577.6 537.8,599.3 538.5,579.1 539.1,558.8 539.8,538.5 540.4,518.3 540.8,539.9 541.3,561.5 541.7,583.1 542.1,604.7 542.6,626.3 543.0,647.9 543.4,626.3 543.7,604.6 544.1,583.0 544.5,561.3 544.9,539.7 545.2,518.0 545.6,496.4 546.0,518.6 546.3,540.8 546.7,563.0 547.1,585.2 547.5,607.5 547.8,629.7 548.2,651.9 548.6,628.1 549.1,604.4 549.5,580.6 549.9,556.8 550.4,533.1 550.8,509.3 551.2,533.2 551.5,557.0 551.9,580.9 552.3,604.7 552.7,628.6 553.0,652.4 553.4,676.3 553.8,654.3 554.3,632.3 554.7,610.3 555.1,588.4 555.6,566.4 556.0,544.4 556.4,565.5 556.7,586.5 557.1,607.6 557.5,628.6 557.9,649.7 558.2,670.7 558.6,691.8 559.3,668.9 559.9,646.0 560.6,623.1 561.2,600.2 561.9,622.6 562.5,645.0 563.2,667.5 563.8,689.9 564.3,670.1 564.8,650.4 565.4,630.7 565.9,611.0 566.4,591.2 566.9,611.8 567.4,632.3 568.0,652.8 568.5,673.4 569.0,693.9 569.7,670.9 570.3,648.0 571.0,625.0 571.6,602.1 572.5,623.2 573.3,644.3 574.2,665.4 575.1,645.5 575.9,625.6 576.8,605.7 577.2,627.3 577.7,649.0 578.1,670.6 578.5,692.3 579.0,713.9 579.4,735.6 579.8,715.0 580.1,694.3 580.5,673.7 580.9,653.0 581.3,632.4 581.6,611.7 582.0,591.1 582.3,613.2 582.7,635.2 583.0,657.3 583.3,679.3 583.6,701.4 584.0,723.4 584.3,745.5 584.6,767.5 585.5,747.8 586.3,728.0 587.2,708.2 588.1,727.5 588.9,746.8 589.8,766.1 590.2,745.4 590.5,724.6 590.9,703.9 591.3,683.1 591.7,662.4 592.0,641.7 592.4,620.9 592.8,644.6 593.3,668.3 593.7,692.1 594.1,715.8 594.6,739.5 595.0,763.2 595.5,740.3 596.0,717.3 596.6,694.4 597.1,671.5 597.6,648.6 598.0,669.6 598.5,690.6 598.9,711.7 599.3,732.7 599.8,753.7 600.2,774.7 600.6,754.7 601.1,734.6 601.5,714.5 601.9,694.5 602.4,674.4 602.8,654.3 603.3,678.2 603.8,702.1 604.4,726.0 604.9,749.8 605.4,773.7 605.9,752.8 606.4,731.9 607.0,711.0 607.5,690.1 608.0,669.1 608.5,689.9 609.0,710.7 609.6,731.6 610.1,752.4 610.6,773.2 611.3,749.7 611.9,726.2 612.6,702.6 613.2,679.1 613.9,702.7 614.5,726.2 615.2,749.7 615.8,773.2 616.5,750.7 617.1,728.2 617.8,705.6 618.4,683.1 618.9,704.4 619.4,725.6 620.0,746.8 620.5,768.1 621.0,789.3 621.5,769.8 622.0,750.4 622.6,730.9 623.1,711.5 623.6,692.0 624.9,711.5 626.2,731.0 628.8,696.8 629.5,720.1 630.1,743.4 630.8,766.7 631.4,790.0 632.1,771.7 632.7,753.5 633.4,735.3 634.0,717.0 634.7,735.7 635.3,754.4 636.0,773.1 636.6,791.8 637.3,772.3 637.9,752.7 638.6,733.1 639.2,713.6 640.1,737.1 640.9,760.6 641.8,784.0 642.7,762.6 643.5,741.3 644.4,719.9 645.3,741.8 646.1,763.8 647.0,785.7 647.9,764.1 648.7,742.5 649.6,720.9 650.5,744.3 651.3,767.7 652.2,791.1 652.9,771.2 653.5,751.3 654.2,731.4 654.8,711.5 655.5,730.2 656.1,748.8 656.8,767.5 657.4,786.1 660.0,795.8 662.6,779.4 663.5,757.8 664.3,736.3 665.2,714.8 666.1,737.1 666.9,759.3 667.8,781.5 668.7,761.5 669.5,741.4 670.4,721.4 671.3,742.7 672.1,764.1 673.0,785.4 673.9,762.2 674.7,738.9 675.6,715.6 676.3,735.5 676.9,755.3 677.6,775.2 678.2,795.1 678.9,776.7 679.5,758.4 680.2,740.0 680.8,721.7 681.7,739.9 682.5,758.1 683.4,776.3 684.3,760.1 685.1,743.9 686.0,727.7 686.9,748.9 687.7,770.0 688.6,791.2 689.3,772.4 689.9,753.7 690.6,734.9 691.2,716.2 692.1,738.4 692.9,760.6 693.8,782.8 696.4,783.5 699.0,792.4 699.9,772.1 700.7,751.8 701.6,731.5 702.9,755.4 704.2,779.3 705.1,762.6 705.9,745.8 706.8,729.1 707.7,746.5 708.5,763.9 709.4,781.3 710.3,760.1 711.1,739.0 712.0,717.9 712.9,739.8 713.7,761.8 714.6,783.7 715.5,763.1 716.3,742.4 717.2,721.7 718.1,740.3 718.9,758.9 719.8,777.5 721.1,755.2 722.4,732.9 723.3,756.2 724.1,779.5 725.0,802.8 725.7,781.3 726.3,759.7 727.0,738.2 727.6,716.6 728.5,739.9 729.3,763.1 730.2,786.3 731.1,763.1 731.9,739.9 732.8,716.7 733.7,734.3 734.5,752.0 735.4,769.7 736.3,751.5 737.1,733.3 738.0,715.0 740.6,736.7 743.2,717.3 744.5,735.6 745.8,753.9 747.1,734.7 748.4,715.5 749.7,734.5 751.0,753.4 752.3,731.5 753.6,709.6 754.9,731.5 756.2,753.4 758.8,724.6 761.4,726.3 764.0,718.9 765.3,739.9 766.6,760.8 769.2,727.2 770.5,746.1 771.8,764.9 772.7,743.6 773.5,722.3 774.4,701.0 775.3,723.6 776.1,746.2 777.0,768.8 777.9,750.6 778.7,732.5 779.6,714.3 780.5,736.7 781.3,759.0 782.2,781.4 783.1,758.5 783.9,735.6 784.8,712.8 785.7,735.0 786.5,757.3 787.4,779.6 788.3,758.8 789.1,737.9 790.0,717.1 790.7,735.5 791.3,753.8 792.0,772.2 792.6,790.5 793.5,769.4 794.3,748.4 795.2,727.3 796.1,749.0 796.9,770.7 797.8,792.4 798.7,768.7 799.5,745.0 800.4,721.3 801.1,741.0 801.7,760.7 802.4,780.4 803.0,800.1 803.7,778.6 804.3,757.0 805.0,735.4 805.6,713.9 806.3,733.5 806.9,753.1 807.6,772.7 808.2,792.3 808.9,773.9 809.5,755.5 810.2,737.0 810.8,718.6 811.5,736.9 812.1,755.2 812.8,773.5 813.4,791.8 814.1,771.7 814.7,751.6 815.4,731.5 816.0,711.4 816.7,734.5 817.3,757.6 818.0,780.6 818.6,803.7 821.2,788.0 822.1,771.9 822.9,755.8 823.8,739.7 826.4,727.9 827.1,748.2 827.7,768.5 828.4,788.8 829.0,809.0 829.9,791.6 830.7,774.2 831.6,756.8 834.2,730.5 836.8,718.7 837.3,740.1 837.8,761.5 838.4,782.9 838.9,804.3 839.4,825.7 839.9,806.3 840.4,786.9 841.0,767.5 841.5,748.1 842.0,728.7 842.7,752.2 843.3,775.6 844.0,799.0 844.6,822.5 847.2,815.2 849.8,805.3 850.5,781.7 851.1,758.1 851.8,734.6 852.4,711.0 852.9,731.7 853.4,752.3 854.0,773.0 854.5,793.6 855.0,814.2 855.9,796.2 856.7,778.1 857.6,760.0 858.5,776.3 859.3,792.6 860.2,808.9 860.9,789.8 861.5,770.7 862.2,751.5 862.8,732.4 863.5,751.5 864.1,770.7 864.8,789.8 865.4,808.9 866.1,785.1 866.7,761.4 867.4,737.6 868.0,713.8 868.7,734.4 869.3,755.0 870.0,775.5 870.6,796.1 871.5,773.8 872.3,751.5 873.2,729.2 875.8,747.2 878.4,768.5 881.0,775.2 881.9,757.6 882.7,740.0 883.6,722.5 884.5,744.6 885.3,766.8 886.2,789.0 888.8,761.7 891.4,793.4 891.9,773.9 892.4,754.3 893.0,734.7 893.5,715.1 894.0,695.5 894.7,719.0 895.3,742.5 896.0,766.0 896.6,789.5 897.1,769.7 897.6,749.9 898.2,730.0 898.7,710.2 899.2,690.4 899.7,710.8 900.2,731.2 900.8,751.6 901.3,772.0 901.8,792.4 902.5,769.5 903.1,746.6 903.8,723.6 904.4,700.7 904.9,721.5 905.4,742.2 906.0,763.0 906.5,783.8 907.0,804.6 907.4,783.1 907.9,761.6 908.3,740.1 908.7,718.6 909.2,697.1 909.6,675.6 910.0,698.3 910.5,720.9 910.9,743.5 911.3,766.1 911.8,788.7 912.2,811.3 912.6,787.5 913.1,763.7 913.5,739.9 913.9,716.1 914.4,692.3 914.8,668.5 915.2,691.9 915.7,715.3 916.1,738.8 916.5,762.2 917.0,785.6 917.4,809.1 917.8,786.6 918.1,764.1 918.5,741.6 918.9,719.2 919.3,696.7 919.6,674.2 920.0,651.7 920.4,672.6 920.7,693.6 921.1,714.5 921.5,735.4 921.9,756.3 922.2,777.3 922.6,798.2 923.0,775.1 923.5,752.0 923.9,728.9 924.3,705.8 924.8,682.7 925.2,659.6 927.8,658.6 930.4,655.0 930.8,676.3 931.3,697.5 931.7,718.7 932.1,739.9 932.6,761.2 933.0,782.4 933.9,758.7 934.7,734.9 935.6,711.2 936.3,732.1 936.9,753.1 937.6,774.0 938.2,795.0 939.5,774.6 940.8,754.2 941.7,771.9 942.5,789.5 943.4,807.1 944.3,786.1 945.1,765.0 946.0,744.0 946.9,763.9 947.7,783.7 948.6,803.6 949.5,783.6 950.3,763.7 951.2,743.7 952.1,762.4 952.9,781.2 953.8,799.9 956.4,767.9 957.3,788.4 958.1,808.9 959.0,829.4 959.9,807.3 960.7,785.2 961.6,763.1 962.5,779.6 963.3,796.2 964.2,812.7 965.1,795.1 965.9,777.5 966.8,759.9 967.7,781.6 968.5,803.3 969.4,825.0 970.1,806.9 970.7,788.8 971.4,770.7 972.0,752.6 972.9,772.6 973.7,792.7 974.6,812.7 975.5,795.8 976.3,778.9 977.2,762.0 978.5,780.4 979.8,798.8 981.1,780.3 982.4,761.8 983.3,778.0 984.1,794.2 985.0,810.5 987.6,819.4 990.2,814.7 991.1,792.5 991.9,770.4 992.8,748.2 995.4,748.9 998.0,752.8 998.7,772.2 999.3,791.6 1000.0,810.9 1000.6,830.3 1001.1,810.3 1001.6,790.3 1002.2,770.2 1002.7,750.2 1003.2,730.2 1003.9,753.2 1004.5,776.2 1005.2,799.3 1005.8,822.3 1006.5,802.7 1007.1,783.1 1007.8,763.5 1008.4,743.9 1009.1,766.0 1009.7,788.1 1010.4,810.2 1011.0,832.3 1011.7,809.3 1012.3,786.4 1013.0,763.5 1013.6,740.5 1014.3,760.2 1014.9,779.8 1015.6,799.5 1016.2,819.1 1016.9,797.3 1017.5,775.4 1018.2,753.6 1018.8,731.7 1019.5,752.0 1020.1,772.2 1020.8,792.5 1021.4,812.8 1022.3,789.1 1023.1,765.4 1024.0,741.8 1024.7,762.4 1025.3,783.1 1026.0,803.8 1026.6,824.5 1027.3,802.1 1027.9,779.7 1028.6,757.3 1029.2,734.9 1031.8,767.9 1034.4,741.9 1035.1,763.6 1035.7,785.3 1036.4,807.1 1037.0,828.8 1037.7,807.1 1038.3,785.5 1039.0,763.9 1039.6,742.2 1040.3,761.8 1040.9,781.3 1041.6,800.8 1042.2,820.4 1042.9,801.1 1043.5,781.8 1044.2,762.5 1044.8,743.3 1045.3,762.6 1045.8,782.0 1046.4,801.4 1046.9,820.8 1047.4,840.2 1048.3,818.1 1049.1,795.9 1050.0,773.8 1052.6,807.1 1055.2,771.3 1055.9,793.4 1056.5,815.5 1057.2,837.6 1057.8,859.7 1058.5,837.1 1059.1,814.5 1059.8,791.9 1060.4,769.3 1061.1,790.4 1061.7,811.4 1062.4,832.5 1063.0,853.6 1063.7,830.4 1064.3,807.3 1065.0,784.2 1065.6,761.1 1066.5,781.2 1067.3,801.3 1068.2,821.5 1069.1,800.7 1069.9,780.0 1070.8,759.3 1072.1,778.6 1073.4,797.8 1074.7,774.2 1076.0,750.5 1078.6,766.2 1081.2,744.0 1081.9,762.7 1082.5,781.4 1083.2,800.1 1083.8,818.8 1084.5,800.1 1085.1,781.5 1085.8,762.8 1086.4,744.1 1087.3,766.4 1088.1,788.7 1089.0,811.0 1091.6,797.8 1094.2,828.6 1094.9,806.5 1095.5,784.5 1096.2,762.4 1096.8,740.4 1097.7,763.8 1098.5,787.1 1099.4,810.5 1100.3,790.0 1101.1,769.6 1102.0,749.2 1102.5,769.2 1103.0,789.2 1103.6,809.2 1104.1,829.2 1104.6,849.2 1105.3,826.7 1105.9,804.3 1106.6,781.9 1107.2,759.5 1107.7,783.2 1108.2,806.9 1108.8,830.6 1109.3,854.3 1109.8,878.0 1110.2,856.6 1110.7,835.1 1111.1,813.7 1111.5,792.2 1112.0,770.8 1112.4,749.3 1112.9,771.9 1113.4,794.4 1114.0,817.0 1114.5,839.5 1115.0,862.0 1115.5,838.4 1116.0,814.8 1116.6,791.1 1117.1,767.5 1117.6,743.9 1118.3,762.8 1118.9,781.7 1119.6,800.6 1120.2,819.6 1121.1,796.4 1121.9,773.2 1122.8,750.0 1123.7,772.2 1124.5,794.4 1125.4,816.6 1126.1,797.8 1126.7,778.9 1127.4,760.1 1128.0,741.3 1128.7,764.1 1129.3,786.9 1130.0,809.7 1130.6,832.6 1131.1,812.1 1131.6,791.7 1132.2,771.3 1132.7,750.9 1133.2,730.5 1133.7,753.4 1134.2,776.2 1134.8,799.0 1135.3,821.9 1135.8,844.7 1136.3,823.9 1136.8,803.1 1137.4,782.2 1137.9,761.4 1138.4,740.6 1139.1,761.1 1139.7,781.6 1140.4,802.1 1141.0,822.6 1141.7,801.5 1142.3,780.4 1143.0,759.4 1143.6,738.3 1144.3,761.9 1144.9,785.5 1145.6,809.1 1146.2,832.8 1147.1,812.5 1147.9,792.2 1148.8,771.9 1149.7,794.6 1150.5,817.4 1151.4,840.1 1152.3,819.9 1153.1,799.8 1154.0,779.6 1154.9,802.9 1155.7,826.2 1156.6,849.4 1157.5,825.8 1158.3,802.2 1159.2,778.6 1159.9,797.2 1160.5,815.7 1161.2,834.3 1161.8,852.9 1162.7,832.7 1163.5,812.5 1164.4,792.4 1165.1,810.8 1165.7,829.2 1166.4,847.7 1167.0,866.1 1168.3,847.9 1169.6,829.7 1170.5,847.8 1171.3,865.9 1172.2,884.0 1172.9,863.5 1173.5,843.0 1174.2,822.5 1174.8,802.1 1175.5,822.0 1176.1,842.0 1176.8,862.0 1177.4,882.0 1177.9,860.4 1178.4,838.9 1179.0,817.3 1179.5,795.7 1180.0,774.2 1180.7,798.1 1181.3,822.0 1182.0,845.8 1182.6,869.7 1183.3,846.5 1183.9,823.2 1184.6,799.9 1185.2,776.6 1185.9,797.6 1186.5,818.5 1187.2,839.5 1187.8,860.5 1188.5,839.6 1189.1,818.7 1189.8,797.8 1190.4,776.9 1191.3,798.5 1192.1,820.1 1193.0,841.8 1193.9,819.7 1194.7,797.6 1195.6,775.5 1196.5,796.9 1197.3,818.4 1198.2,839.8 1199.1,821.0 1199.9,802.2 1200.8,783.4 1203.4,805.2 1206.0,778.6 1207.3,802.4 1208.6,826.2 1209.5,809.8 1210.3,793.4 1211.2,777.0 1212.1,800.9 1212.9,824.8 1213.8,848.7 1214.7,827.0 1215.5,805.2 1216.4,783.5 1217.3,806.5 1218.1,829.4 1219.0,852.4 1219.9,833.3 1220.7,814.1 1221.6,795.0 1222.5,817.5 1223.3,840.0 1224.2,862.5 1225.1,843.0 1225.9,823.4 1226.8,803.8 1227.5,823.9 1228.1,843.9 1228.8,864.0 1229.4,884.0 1230.3,866.0 1231.1,848.0 1232.0,830.0 1233.3,852.0 1234.6,874.0 1235.3,855.5 1235.9,836.9 1236.6,818.4 1237.2,799.9 1237.9,818.2 1238.5,836.5 1239.2,854.8 1239.8,873.1 1240.5,851.8 1241.1,830.4 1241.8,809.1 1242.4,787.7 1243.1,807.1 1243.7,826.5 1244.4,845.9 1245.0,865.3 1245.7,841.6 1246.3,817.9 1247.0,794.2 1247.6,770.4 1248.3,793.9 1248.9,817.3 1249.6,840.8 1250.2,864.2 1250.7,841.4 1251.2,818.7 1251.8,795.9 1252.3,773.2 1252.8,750.4 1253.3,772.3 1253.8,794.2 1254.4,816.1 1254.9,838.0 1255.4,859.9 1255.9,838.1 1256.4,816.4 1257.0,794.6 1257.5,772.8 1258.0,751.0 1258.5,772.5 1259.0,794.0 1259.6,815.5 1260.1,837.0 1260.6,858.5 1261.1,838.7 1261.6,818.8 1262.2,798.9 1262.7,779.1 1263.2,759.2 1263.7,779.3 1264.2,799.3 1264.8,819.4 1265.3,839.4 1265.8,859.5 1266.3,836.1 1266.8,812.8 1267.4,789.4 1267.9,766.0 1268.4,742.6 1268.9,763.9 1269.4,785.2 1270.0,806.5 1270.5,827.8 1271.0,849.1 1271.5,828.9 1272.0,808.6 1272.6,788.4 1273.1,768.1 1273.6,747.9 1274.1,770.7 1274.6,793.5 1275.2,816.4 1275.7,839.2 1276.2,862.1 1276.7,841.9 1277.2,821.7 1277.8,801.6 1278.3,781.4 1278.8,761.3 1281.4,765.8 1284.0,756.8 1284.4,778.3 1284.9,799.8 1285.3,821.3 1285.7,842.8 1286.2,864.3 1286.6,885.8 1287.0,864.3 1287.5,842.9 1287.9,821.4 1288.3,799.9 1288.8,778.5 1289.2,757.0 1289.6,780.5 1290.1,803.9 1290.5,827.4 1290.9,850.8 1291.4,874.3 1291.8,897.7 1292.2,875.4 1292.7,853.1 1293.1,830.8 1293.5,808.5 1294.0,786.2 1294.4,763.9 1294.9,787.6 1295.4,811.2 1296.0,834.8 1296.5,858.5 1297.0,882.1 1297.4,861.9 1297.9,841.8 1298.3,821.6 1298.7,801.4 1299.2,781.2 1299.6,761.0 1300.0,782.6 1300.5,804.3 1300.9,825.9 1301.3,847.5 1301.8,869.2 1302.2,890.8 1302.6,870.1 1302.9,849.5 1303.3,828.8 1303.7,808.1 1304.1,787.4 1304.4,766.8 1304.8,746.1 1305.3,767.3 1305.8,788.4 1306.4,809.6 1306.9,830.7 1307.4,851.9 1307.9,831.7 1308.4,811.6 1309.0,791.5 1309.5,771.4 1310.0,751.2 1310.7,773.3 1311.3,795.3 1312.0,817.3 1312.6,839.4 1313.3,819.8 1313.9,800.1 1314.6,780.5 1315.2,760.9 1316.1,783.4 1316.9,805.9 1317.8,828.4 1318.5,806.0 1319.1,783.6 1319.8,761.2 1320.4,738.8 1321.1,759.7 1321.7,780.7 1322.4,801.7 1323.0,822.6 1323.7,799.6 1324.3,776.5 1325.0,753.5 1325.6,730.4 1326.3,752.9 1326.9,775.5 1327.6,798.0 1328.2,820.5 1328.7,799.2 1329.2,777.9 1329.8,756.6 1330.3,735.3 1330.8,714.0 1331.3,735.7 1331.8,757.4 1332.4,779.1 1332.9,800.8 1333.4,822.4 1333.9,802.4 1334.4,782.3 1335.0,762.2 1335.5,742.1 1336.0,722.0 1336.4,743.5 1336.7,764.9 1337.1,786.4 1337.5,807.8 1337.9,829.3 1338.2,850.7 1338.6,872.2 1339.0,851.5 1339.5,830.9 1339.9,810.3 1340.3,789.7 1340.8,769.1 1341.2,748.4 1341.7,769.1 1342.2,789.8 1342.8,810.4 1343.3,831.1 1343.8,851.8 1346.4,867.4 1349.0,880.5 1349.5,856.9 1350.0,833.3 1350.6,809.7 1351.1,786.0 1351.6,762.4 1352.0,784.6 1352.5,806.9 1352.9,829.1 1353.3,851.3 1353.8,873.6 1354.2,895.8 1354.7,875.4 1355.2,855.1 1355.8,834.7 1356.3,814.3 1356.8,793.9 1357.5,817.6 1358.1,841.3 1358.8,865.0 1359.4,888.7 1362.0,854.4 1364.6,878.7 1365.0,858.4 1365.5,838.0 1365.9,817.7 1366.3,797.4 1366.8,777.1 1367.2,756.7 1367.7,780.0 1368.2,803.2 1368.8,826.5 1369.3,849.7 1369.8,873.0 1370.2,849.9 1370.7,826.7 1371.1,803.6 1371.5,780.5 1372.0,757.4 1372.4,734.3 1372.8,758.2 1373.3,782.1 1373.7,806.0 1374.1,829.9 1374.6,853.8 1375.0,877.7 1375.4,855.5 1375.7,833.4 1376.1,811.2 1376.5,789.0 1376.9,766.8 1377.2,744.6 1377.6,722.4 1378.0,745.7 1378.3,769.0 1378.7,792.3 1379.1,815.6 1379.5,838.9 1379.8,862.2 1380.2,885.5 1380.5,862.4 1380.9,839.4 1381.2,816.3 1381.5,793.2 1381.8,770.1 1382.2,747.1 1382.5,724.0 1382.8,700.9 1383.1,722.3 1383.5,743.7 1383.8,765.0 1384.1,786.4 1384.4,807.8 1384.8,829.2 1385.1,850.5 1385.4,871.9 1385.8,849.7 1386.1,827.4 1386.5,805.2 1386.9,783.0 1387.3,760.7 1387.6,738.5 1388.0,716.2 1388.4,736.9 1388.7,757.5 1389.1,778.2 1389.5,798.8 1389.9,819.5 1390.2,840.1 1390.6,860.8 1391.0,840.1 1391.3,819.3 1391.7,798.6 1392.1,777.9 1392.5,757.2 1392.8,736.5 1393.2,715.8 1393.6,736.5 1393.9,757.3 1394.3,778.1 1394.7,798.8 1395.1,819.6 1395.4,840.4 1395.8,861.2 1396.2,838.7 1396.5,816.3 1396.9,793.9 1397.3,771.4 1397.7,749.0 1398.0,726.6 1398.4,704.1 1398.9,726.5 1399.4,749.0 1400.0,771.4 1400.5,793.8 1401.0,816.2 1401.5,795.3 1402.0,774.4 1402.6,753.5 1403.1,732.6 1403.6,711.7 1404.1,734.5 1404.6,757.3 1405.2,780.1 1405.7,802.9 1406.2,825.7 1406.7,802.4 1407.2,779.1 1407.8,755.8 1408.3,732.5 1408.8,709.2 1409.3,730.4 1409.8,751.6 1410.4,772.8 1410.9,794.1 1411.4,815.3 1411.8,793.2 1412.3,771.1 1412.7,748.9 1413.1,726.8 1413.6,704.7 1414.0,682.6 1414.4,705.7 1414.9,728.8 1415.3,752.0 1415.7,775.1 1416.2,798.2 1416.6,821.3 1417.0,800.5 1417.5,779.7 1417.9,758.9 1418.3,738.1 1418.8,717.3 1419.2,696.4 1421.8,715.8 1424.4,706.6 1424.8,727.9 1425.3,749.1 1425.7,770.4 1426.1,791.6 1426.6,812.9 1427.0,834.1 1427.4,810.6 1427.9,787.0 1428.3,763.5 1428.7,740.0 1429.2,716.4 1429.6,692.9 1430.0,716.4 1430.5,739.9 1430.9,763.4 1431.3,786.8 1431.8,810.3 1432.2,833.8 1432.6,811.9 1433.1,789.9 1433.5,767.9 1433.9,746.0 1434.4,724.0 1434.8,702.1 1435.2,723.0 1435.7,743.9 1436.1,764.8 1436.5,785.8 1437.0,806.7 1437.4,827.6 1437.8,806.3 1438.3,785.0 1438.7,763.7 1439.1,742.4 1439.6,721.1 1440.0,699.8 1440.5,721.4 1441.0,743.1 1441.6,764.8 1442.1,786.5 1442.6,808.2 1443.1,787.9 1443.6,767.7 1444.2,747.4 1444.7,727.2 1445.2,707.0 1445.5,729.4 1445.9,751.8 1446.2,774.2 1446.5,796.6 1446.8,819.1 1447.2,841.5 1447.5,863.9 1447.8,886.3 1448.2,864.6 1448.5,843.0 1448.9,821.3 1449.3,799.6 1449.7,777.9 1450.0,756.3 1450.4,734.6 1450.8,758.4 1451.3,782.1 1451.7,805.9 1452.1,829.7 1452.6,853.4 1453.0,877.2 1453.5,854.8 1454.0,832.4 1454.6,810.0 1455.1,787.6 1455.6,765.2 1456.1,788.1 1456.6,811.0 1457.2,833.9 1457.7,856.7 1458.2,879.6 1458.9,859.6 1459.5,839.5 1460.2,819.4 1460.8,799.4 1461.7,823.0 1462.5,846.7 1463.4,870.3 1464.1,851.2 1464.7,832.0 1465.4,812.9 1466.0,793.7 1466.5,813.4 1467.0,833.1 1467.6,852.9 1468.1,872.6 1468.6,892.3 1469.1,868.9 1469.6,845.6 1470.2,822.2 1470.7,798.9 1471.2,775.5 1471.6,795.6 1472.1,815.7 1472.5,835.8 1472.9,855.9 1473.4,876.0 1473.8,896.1 1474.1,874.7 1474.5,853.4 1474.8,832.0 1475.1,810.6 1475.4,789.3 1475.8,767.9 1476.1,746.5 1476.4,725.2 1476.8,748.7 1477.3,772.3 1477.7,795.9 1478.1,819.4 1478.6,843.0 1479.0,866.5 1479.4,843.6 1479.9,820.7 1480.3,797.7 1480.7,774.8 1481.2,751.8 1481.6,728.9 1482.5,746.8 1483.3,764.8 1484.2,782.7 1485.5,759.3 1486.8,735.9 1487.5,757.4 1488.1,779.0 1488.8,800.6 1489.4,822.1 1489.9,802.3 1490.4,782.4 1491.0,762.6 1491.5,742.8 1492.0,722.9 1492.5,745.6 1493.0,768.3 1493.6,790.9 1494.1,813.6 1494.6,836.3 1495.1,814.7 1495.6,793.1 1496.2,771.5 1496.7,749.9 1497.2,728.4 1497.9,749.5 1498.5,770.7 1499.2,791.9 1499.8,813.1 1500.5,791.3 1501.1,769.5 1501.8,747.7 1502.4,725.9 1502.9,746.9 1503.4,767.8 1504.0,788.7 1504.5,809.6 1505.0,830.6 1505.7,807.1 1506.3,783.7 1507.0,760.2 1507.6,736.8 1508.1,756.8 1508.6,776.8 1509.2,796.8 1509.7,816.8 1510.2,836.8 1510.7,817.3 1511.2,797.7 1511.8,778.2 1512.3,758.7 1512.8,739.1 1513.3,762.4 1513.8,785.7 1514.4,808.9 1514.9,832.2 1515.4,855.4 1516.7,836.2 1518.0,817.1 1518.9,836.8 1519.7,856.6 1520.6,876.4 1521.3,853.3 1521.9,830.1 1522.6,806.9 1523.2,783.8 1523.7,803.3 1524.2,822.8 1524.8,842.3 1525.3,861.8 1525.8,881.3 1526.3,857.6 1526.8,833.9 1527.4,810.2 1527.9,786.6 1528.4,762.9 1528.9,783.8 1529.4,804.7 1530.0,825.5 1530.5,846.4 1531.0,867.3 1531.5,845.3 1532.0,823.4 1532.6,801.4 1533.1,779.5 1533.6,757.5 1534.1,776.7 1534.6,796.0 1535.2,815.2 1535.7,834.4 1536.2,853.6 1536.9,832.4 1537.5,811.1 1538.2,789.9 1538.8,768.6 1539.5,791.0 1540.1,813.4 1540.8,835.8 1541.4,858.2 1542.1,836.6 1542.7,814.9 1543.4,793.3 1544.0,771.6 1544.9,793.9 1545.7,816.2 1546.6,838.6 1547.5,819.4 1548.3,800.2 1549.2,781.0 1550.1,803.9 1550.9,826.9 1551.8,849.9 1552.7,828.8 1553.5,807.7 1554.4,786.5 1555.3,803.2 1556.1,819.9 1557.0,836.6 1557.9,817.6 1558.7,798.6 1559.6,779.7 1560.3,797.8 1560.9,815.9 1561.6,834.0 1562.2,852.1 1562.7,828.4 1563.2,804.6 1563.8,780.9 1564.3,757.2 1564.8,733.4 1565.3,757.3 1565.8,781.1 1566.4,805.0 1566.9,828.8 1567.4,852.6 1567.8,831.2 1568.3,809.9 1568.7,788.5 1569.1,767.1 1569.6,745.7 1570.0,724.3 1572.6,730.2 1573.1,750.0 1573.6,769.9 1574.2,789.8 1574.7,809.6 1575.2,829.5 1577.8,836.8 1578.3,815.0 1578.8,793.2 1579.4,771.4 1579.9,749.6 1580.4,727.8 1580.9,751.1 1581.4,774.5 1582.0,797.8 1582.5,821.2 1583.0,844.6 1583.5,821.6 1584.0,798.7 1584.6,775.7 1585.1,752.8 1585.6,729.9 1586.1,752.3 1586.6,774.8 1587.2,797.3 1587.7,819.8 1588.2,842.2 1590.8,818.0 1593.4,835.2 1594.1,811.3 1594.7,787.3 1595.4,763.3 1596.0,739.4 1596.7,762.5 1597.3,785.6 1598.0,808.8 1598.6,831.9 1599.3,808.4 1599.9,784.9 1600.6,761.4 1601.2,737.9 1601.7,758.8 1602.2,779.8 1602.8,800.8 1603.3,821.8 1603.8,842.7 1604.5,820.8 1605.1,798.9 1605.8,777.0 1606.4,755.0 1609.0,750.0 1611.6,752.6 1612.1,773.0 1612.6,793.4 1613.2,813.7 1613.7,834.1 1614.2,854.5" fill="none" stroke="#000000" stroke-width="6.5" stroke-linejoin="round" stroke-linecap="round" marker-start="url(#aci)" marker-mid="url(#aci)" marker-end="url(#aci)"/>
<polyline points="755.8,730.0 756.4,480.2 758.0,397.0 758.0,397.0 759.8,463.6 760.4,730.0" fill="none" stroke="#000000" stroke-width="6.5" stroke-linejoin="round" stroke-linecap="round"/>
<polyline points="758.0,397.0 756.2,546.9 759.4,575.2 759.2,607.1 759.5,635.2 755.9,664.6 755.7,693.0 760.2,728.1" fill="none" stroke="none" stroke-width="0" stroke-linejoin="round" stroke-linecap="round" marker-start="url(#aci)" marker-mid="url(#aci)" marker-end="url(#aci)"/>
<polyline points="873.8,720.0 874.4,574.5 876.0,526.0 876.0,526.0 877.8,564.8 878.4,720.0" fill="none" stroke="#000000" stroke-width="6.5" stroke-linejoin="round" stroke-linecap="round"/>
<polyline points="876.0,526.0 876.4,613.3 878.3,638.0 875.8,673.0 874.6,704.3" fill="none" stroke="none" stroke-width="0" stroke-linejoin="round" stroke-linecap="round" marker-start="url(#aci)" marker-mid="url(#aci)" marker-end="url(#aci)"/>
<polyline points="940.1,745.0 941.3,723.3 940.2,701.6 941.6,679.9 941.4,658.2 941.0,636.5 941.7,614.8 941.7,593.1 940.5,571.4 941.9,549.6 942.3,527.9 942.3,506.2 943.4,484.5 943.3,462.8 942.7,441.1 942.7,419.4 942.7,397.7 944.8,376.0 944.8,407.7 944.9,429.4 944.8,451.1 945.2,472.8 944.8,494.5 945.8,516.2 945.1,537.9 946.5,559.6 946.7,581.4 946.9,603.1 946.0,624.8 945.7,646.5 946.4,668.2 947.4,689.9 947.0,711.6 947.6,733.3 946.8,755.0" fill="none" stroke="#000000" stroke-width="6.5" stroke-linejoin="round" stroke-linecap="round" marker-start="url(#aci)" marker-mid="url(#aci)" marker-end="url(#aci)"/>
<polyline points="979.7,745.0 978.4,723.8 979.2,702.5 979.4,681.2 978.4,660.0 978.4,638.8 980.2,617.5 979.5,596.2 980.7,575.0 982.6,606.2 983.0,627.5 981.6,648.8 981.8,670.0 982.5,691.2 984.2,712.5 982.3,733.8 982.8,755.0" fill="none" stroke="#000000" stroke-width="6.5" stroke-linejoin="round" stroke-linecap="round" marker-start="url(#aci)" marker-mid="url(#aci)" marker-end="url(#aci)"/>
<polyline points="1013.6,740.0 1013.6,718.2 1013.7,696.5 1013.2,674.8 1014.6,653.0 1016.6,684.8 1017.6,706.5 1016.1,728.2 1016.7,750.0" fill="none" stroke="#000000" stroke-width="6.5" stroke-linejoin="round" stroke-linecap="round" marker-start="url(#aci)" marker-mid="url(#aci)" marker-end="url(#aci)"/>
<polyline points="1035.8,750.0 1036.4,718.5 1038.0,708.0 1038.0,708.0 1039.8,716.4 1040.4,750.0" fill="none" stroke="#000000" stroke-width="6.5" stroke-linejoin="round" stroke-linecap="round"/>
<polyline points="1038.0,708.0" fill="none" stroke="none" stroke-width="0" stroke-linejoin="round" stroke-linecap="round" marker-start="url(#aci)" marker-mid="url(#aci)" marker-end="url(#aci)"/>
<polyline points="1083.0,745.0 1083.6,723.0 1081.5,701.0 1084.1,679.0 1084.1,657.0 1082.7,635.0 1085.1,613.0 1085.8,591.0 1084.9,623.0 1087.4,645.0 1086.3,667.0 1086.9,689.0 1087.7,711.0 1087.9,733.0 1088.1,755.0" fill="none" stroke="#000000" stroke-width="6.5" stroke-linejoin="round" stroke-linecap="round" marker-start="url(#aci)" marker-mid="url(#aci)" marker-end="url(#aci)"/>
<polyline points="1100.3,745.0 1101.2,720.8 1102.4,696.7 1101.9,672.5 1102.0,648.3 1102.2,624.2 1102.5,600.0 1105.4,634.2 1105.4,658.3 1104.7,682.5 1105.9,706.7 1106.4,730.8 1106.9,755.0" fill="none" stroke="#000000" stroke-width="6.5" stroke-linejoin="round" stroke-linecap="round" marker-start="url(#aci)" marker-mid="url(#aci)" marker-end="url(#aci)"/>
<polyline points="1141.3,760.0 1141.9,731.5 1143.5,722.0 1143.5,722.0 1145.3,729.6 1145.9,760.0" fill="none" stroke="#000000" stroke-width="6.5" stroke-linejoin="round" stroke-linecap="round"/>
<polyline points="1143.5,722.0" fill="none" stroke="none" stroke-width="0" stroke-linejoin="round" stroke-linecap="round" marker-start="url(#aci)" marker-mid="url(#aci)" marker-end="url(#aci)"/>
<polyline points="1209.9,765.0 1210.9,739.2 1212.6,713.3 1214.0,687.5 1217.5,723.3 1220.1,749.2 1219.7,775.0" fill="none" stroke="#000000" stroke-width="6.5" stroke-linejoin="round" stroke-linecap="round" marker-start="url(#aci)" marker-mid="url(#aci)" marker-end="url(#aci)"/>
<polyline points="1265.6,745.0 1264.4,720.9 1266.1,696.8 1265.6,672.6 1267.5,648.5 1268.2,682.6 1269.9,706.8 1269.2,730.9 1270.3,755.0" fill="none" stroke="#000000" stroke-width="6.5" stroke-linejoin="round" stroke-linecap="round" marker-start="url(#aci)" marker-mid="url(#aci)" marker-end="url(#aci)"/>
<polyline points="1339.8,745.0 1338.3,723.5 1340.3,702.0 1339.4,680.5 1339.5,659.0 1340.5,637.5 1339.9,616.0 1340.5,594.5 1341.8,573.0 1342.0,604.5 1343.7,626.0 1343.6,647.5 1344.0,669.0 1344.0,690.5 1344.1,712.0 1345.5,733.5 1346.0,755.0" fill="none" stroke="#000000" stroke-width="6.5" stroke-linejoin="round" stroke-linecap="round" marker-start="url(#aci)" marker-mid="url(#aci)" marker-end="url(#aci)"/>
<polyline points="1395.0,700.0 1395.6,677.7 1396.0,655.4 1397.2,633.0 1399.0,610.7 1399.9,643.0 1399.4,665.4 1400.1,687.7 1400.9,710.0" fill="none" stroke="#000000" stroke-width="6.5" stroke-linejoin="round" stroke-linecap="round" marker-start="url(#aci)" marker-mid="url(#aci)" marker-end="url(#aci)"/>
<polyline points="1431.8,700.0 1434.7,677.0 1436.6,654.0 1437.0,687.0 1439.1,710.0" fill="none" stroke="#000000" stroke-width="6.5" stroke-linejoin="round" stroke-linecap="round" marker-start="url(#aci)" marker-mid="url(#aci)" marker-end="url(#aci)"/>
<polyline points="1492.8,750.0 1493.4,729.8 1495.0,723.0 1495.0,723.0 1496.8,728.4 1497.4,750.0" fill="none" stroke="#000000" stroke-width="6.5" stroke-linejoin="round" stroke-linecap="round"/>
<polyline points="1495.0,723.0" fill="none" stroke="none" stroke-width="0" stroke-linejoin="round" stroke-linecap="round" marker-start="url(#aci)" marker-mid="url(#aci)" marker-end="url(#aci)"/>
<polyline points="1571.3,740.0 1569.7,717.1 1570.1,694.2 1571.0,671.4 1573.9,648.5 1575.5,681.4 1576.8,704.2 1576.6,727.1 1576.7,750.0" fill="none" stroke="#000000" stroke-width="6.5" stroke-linejoin="round" stroke-linecap="round" marker-start="url(#aci)" marker-mid="url(#aci)" marker-end="url(#aci)"/>
<polyline points="1591.8,740.0 1591.4,717.1 1592.3,694.2 1591.5,671.4 1594.4,648.5 1595.9,681.4 1596.2,704.2 1596.8,727.1 1596.4,750.0" fill="none" stroke="#000000" stroke-width="6.5" stroke-linejoin="round" stroke-linecap="round" marker-start="url(#aci)" marker-mid="url(#aci)" marker-end="url(#aci)"/>
<polygon points="386.0,308.9 389.5,287.9 393.0,230.6 396.5,199.8 400.0,195.2 403.5,192.4 407.0,192.4 410.5,192.4 414.0,192.4 417.5,192.4 421.0,192.4 424.5,192.4 428.0,192.4 431.5,192.4 435.0,192.4 438.5,192.7 442.0,193.0 445.5,193.3 449.0,193.6 452.5,193.9 456.0,194.2 459.5,194.5 463.0,194.8 466.5,197.1 470.0,200.2 473.5,203.3 477.0,300.4 480.5,295.2 484.0,289.9 487.5,278.0 491.0,253.5 494.5,251.8 498.0,251.8 501.5,251.8 505.0,284.7 508.5,395.0 512.0,397.9 515.5,397.9 519.0,397.9 522.5,397.9 526.0,397.9 529.5,397.9 533.0,366.0 536.5,337.6 540.0,312.0 543.5,306.3 547.0,306.3 550.5,306.3 554.0,308.0 557.5,315.0 561.0,342.2 564.5,353.6 568.0,336.1 571.5,323.6 575.0,323.6 578.5,323.6 582.0,344.4 585.5,378.9 589.0,452.4 592.5,495.3 596.0,516.9 599.5,516.9 603.0,516.9 606.5,516.9 610.0,516.9 613.5,516.9 617.0,516.9 620.5,516.9 624.0,516.9 627.5,541.2 631.0,606.6 634.5,597.3 638.0,588.0 641.5,578.6 645.0,571.4 648.5,571.4 652.0,571.4 655.5,571.4 659.0,571.4 662.5,581.8 666.0,586.3 669.5,586.3 673.0,586.3 676.5,586.3 680.0,586.3 683.5,586.3 687.0,586.3 690.5,577.6 694.0,560.1 697.5,499.8 701.0,455.0 704.5,455.0 708.0,455.0 711.5,455.0 715.0,477.0 718.5,541.7 722.0,546.6 725.5,551.5 729.0,556.4 732.5,593.3 736.0,612.4 739.5,614.1 743.0,615.9 746.5,588.4 750.0,573.3 753.5,572.1 757.0,571.0 760.5,569.8 764.0,568.6 767.5,567.5 771.0,569.0 774.5,586.5 778.0,603.7 781.5,607.7 785.0,611.7 788.5,615.7 792.0,619.7 795.5,622.9 799.0,615.9 802.5,608.9 806.0,601.9 809.5,598.4 813.0,598.0 816.5,597.6 820.0,597.1 823.5,596.7 827.0,596.3 830.5,605.3 834.0,611.1 837.5,611.1 841.0,611.1 844.5,611.1 848.0,611.1 851.5,611.1 855.0,634.4 858.5,618.7 862.0,602.9 865.5,591.2 869.0,591.2 872.5,591.2 876.0,591.2 879.5,591.2 883.0,594.8 883.0,722.7 879.5,722.7 876.0,722.7 872.5,722.7 869.0,724.8 865.5,738.1 862.0,751.4 858.5,764.7 855.0,766.7 851.5,761.7 848.0,756.7 844.5,751.7 841.0,746.7 837.5,725.6 834.0,696.4 830.5,683.1 827.0,683.1 823.5,683.1 820.0,683.1 816.5,683.1 813.0,683.1 809.5,749.6 806.0,788.9 802.5,787.4 799.0,785.9 795.5,784.4 792.0,782.9 788.5,770.1 785.0,746.8 781.5,731.3 778.0,727.8 774.5,724.3 771.0,720.8 767.5,717.3 764.0,713.8 760.5,710.3 757.0,717.9 753.5,749.4 750.0,751.6 746.5,750.8 743.0,748.2 739.5,723.7 736.0,715.9 732.5,716.7 729.0,717.6 725.5,718.5 722.0,719.4 718.5,720.2 715.0,721.1 711.5,722.0 708.0,722.4 704.5,720.7 701.0,718.9 697.5,717.2 694.0,715.4 690.5,713.7 687.0,712.6 683.5,712.1 680.0,711.6 676.5,711.1 673.0,710.6 669.5,710.1 666.0,709.6 662.5,709.1 659.0,708.6 655.5,708.1 652.0,709.1 648.5,711.2 645.0,713.3 641.5,716.2 638.0,730.2 634.5,744.2 631.0,745.0 627.5,745.0 624.0,745.0 620.5,745.0 617.0,684.2 613.5,680.1 610.0,677.0 606.5,673.9 603.0,670.9 599.5,667.8 596.0,664.6 592.5,661.1 589.0,655.4 585.5,640.8 582.0,570.5 578.5,511.0 575.0,511.7 571.5,512.5 568.0,513.3 564.5,514.1 561.0,514.8 557.5,515.6 554.0,516.4 550.5,519.6 547.0,522.9 543.5,526.1 540.0,553.3 536.5,554.5 533.0,555.6 529.5,556.7 526.0,557.8 522.5,604.5 519.0,604.9 515.5,605.3 512.0,605.8 508.5,606.2 505.0,604.9 501.5,602.2 498.0,599.5 494.5,596.8 491.0,583.2 487.5,567.9 484.0,552.5 480.5,493.6 477.0,465.0 473.5,465.0 470.0,465.0 466.5,465.0 463.0,465.0 459.5,465.0 456.0,464.6 452.5,462.3 449.0,460.0 445.5,457.6 442.0,455.3 438.5,454.8 435.0,454.5 431.5,454.1 428.0,453.8 424.5,453.5 421.0,453.1 417.5,452.8 414.0,352.5 410.5,345.0 407.0,337.5 403.5,330.0 400.0,322.5 396.5,315.9 393.0,312.7 389.5,309.6 386.0,308.9" fill="#ff6a00"/>
<polyline points="386.0,308.9 388.0,304.1 390.0,284.3 392.0,277.9 392.7,259.8 393.3,241.7 394.0,223.6 394.4,241.4 394.8,259.2 395.2,277.0 395.6,294.7 396.0,312.5 396.3,295.6 396.7,278.7 397.0,261.7 397.3,244.8 397.7,227.9 398.0,211.0 398.3,228.8 398.7,246.7 399.0,264.6 399.3,282.5 399.7,300.3 400.0,318.2 400.3,300.6 400.6,283.0 400.9,265.4 401.1,247.8 401.4,230.1 401.7,212.5 402.0,194.9 402.3,213.6 402.6,232.3 402.9,251.0 403.1,269.7 403.4,288.3 403.7,307.0 404.0,325.7 404.3,307.6 404.6,289.4 404.9,271.3 405.1,253.2 405.4,235.1 405.7,216.9 406.0,198.8 406.3,217.2 406.6,235.7 406.9,254.1 407.1,272.5 407.4,290.9 407.7,309.4 408.0,327.8 408.3,310.2 408.6,292.6 408.9,274.9 409.1,257.3 409.4,239.7 409.7,222.1 410.0,204.4 410.3,224.0 410.6,243.7 410.9,263.3 411.1,282.9 411.4,302.5 411.7,322.1 412.0,341.7 412.3,325.0 412.7,308.3 413.0,291.6 413.3,275.0 413.7,258.3 414.0,241.6 414.2,260.6 414.4,279.5 414.5,298.5 414.7,317.5 414.9,336.4 415.1,355.4 415.3,374.3 415.5,393.3 415.6,412.3 415.8,431.2 416.0,450.2 416.2,430.9 416.3,411.6 416.5,392.3 416.6,372.9 416.8,353.6 416.9,334.3 417.1,315.0 417.2,295.7 417.4,276.4 417.5,257.1 417.7,237.7 417.8,218.4 418.0,199.1 418.2,218.1 418.3,237.1 418.5,256.1 418.6,275.1 418.8,294.2 418.9,313.2 419.1,332.2 419.2,351.2 419.4,370.2 419.5,389.2 419.7,408.2 419.8,427.2 420.0,446.2 420.2,426.9 420.3,407.7 420.5,388.4 420.6,369.1 420.8,349.8 420.9,330.5 421.1,311.3 421.2,292.0 421.4,272.7 421.5,253.4 421.7,234.1 421.8,214.9 422.0,195.6 422.2,215.1 422.3,234.6 422.5,254.0 422.6,273.5 422.8,293.0 422.9,312.5 423.1,332.0 423.2,351.5 423.4,371.0 423.5,390.5 423.7,410.0 423.8,429.5 424.0,449.0 424.2,429.5 424.3,410.1 424.5,390.7 424.6,371.3 424.8,351.8 424.9,332.4 425.1,313.0 425.2,293.5 425.4,274.1 425.5,254.7 425.7,235.3 425.8,215.8 426.0,196.4 426.7,211.3 427.3,226.3 428.0,241.2 428.7,226.6 429.3,212.1 430.0,197.5 430.2,216.1 430.3,234.6 430.5,253.2 430.6,271.7 430.8,290.2 430.9,308.8 431.1,327.3 431.2,345.9 431.4,364.4 431.5,383.0 431.7,401.5 431.8,420.0 432.0,438.6 432.2,418.9 432.3,399.2 432.5,379.5 432.7,359.8 432.8,340.1 433.0,320.4 433.2,300.6 433.3,280.9 433.5,261.2 433.7,241.5 433.8,221.8 434.0,202.1 434.2,220.6 434.3,239.1 434.5,257.6 434.6,276.1 434.8,294.5 434.9,313.0 435.1,331.5 435.2,350.0 435.4,368.5 435.5,387.0 435.7,405.5 435.8,423.9 436.0,442.4 436.2,423.4 436.3,404.5 436.5,385.5 436.6,366.5 436.8,347.5 436.9,328.5 437.1,309.5 437.2,290.5 437.4,271.5 437.5,252.6 437.7,233.6 437.8,214.6 438.0,195.6 438.2,215.0 438.3,234.4 438.5,253.8 438.6,273.2 438.8,292.6 438.9,312.0 439.1,331.4 439.2,350.8 439.4,370.2 439.5,389.6 439.7,409.0 439.8,428.4 440.0,447.8 440.2,428.7 440.3,409.7 440.5,390.6 440.6,371.6 440.8,352.5 440.9,333.5 441.1,314.4 441.2,295.4 441.4,276.4 441.5,257.3 441.7,238.3 441.8,219.2 442.0,200.2 442.2,219.4 442.3,238.6 442.5,257.8 442.6,277.0 442.8,296.2 442.9,315.4 443.1,334.6 443.2,353.8 443.4,373.0 443.5,392.2 443.7,411.4 443.8,430.6 444.0,449.8 444.2,430.4 444.3,410.9 444.5,391.5 444.6,372.0 444.8,352.5 444.9,333.1 445.1,313.6 445.2,294.2 445.4,274.7 445.5,255.2 445.7,235.8 445.8,216.3 446.0,196.8 446.2,215.8 446.3,234.7 446.5,253.6 446.6,272.6 446.8,291.5 446.9,310.4 447.1,329.4 447.2,348.3 447.4,367.2 447.5,386.1 447.7,405.1 447.8,424.0 448.0,442.9 448.2,424.3 448.3,405.6 448.5,387.0 448.6,368.4 448.8,349.7 448.9,331.1 449.1,312.4 449.2,293.8 449.4,275.1 449.5,256.5 449.7,237.8 449.8,219.2 450.0,200.5 450.2,220.2 450.3,239.9 450.5,259.5 450.6,279.2 450.8,298.9 450.9,318.6 451.1,338.2 451.2,357.9 451.4,377.6 451.5,397.2 451.7,416.9 451.8,436.6 452.0,456.2 452.2,436.7 452.3,417.2 452.5,397.7 452.6,378.3 452.8,358.8 452.9,339.3 453.1,319.8 453.2,300.3 453.4,280.8 453.5,261.3 453.7,241.8 453.8,222.3 454.0,202.8 454.3,220.6 454.6,238.5 454.9,256.3 455.1,274.2 455.4,292.0 455.7,309.9 456.0,327.7 456.3,309.2 456.6,290.8 456.9,272.4 457.1,253.9 457.4,235.5 457.7,217.0 458.0,198.6 458.2,218.2 458.3,237.8 458.5,257.5 458.6,277.1 458.8,296.7 458.9,316.4 459.1,336.0 459.2,355.6 459.4,375.3 459.5,394.9 459.7,414.5 459.8,434.2 460.0,453.8 460.2,434.5 460.3,415.2 460.5,395.9 460.6,376.7 460.8,357.4 460.9,338.1 461.1,318.8 461.2,299.6 461.4,280.3 461.5,261.0 461.7,241.7 461.8,222.4 462.0,203.2 462.2,222.8 462.3,242.4 462.5,262.1 462.6,281.7 462.8,301.4 462.9,321.0 463.1,340.6 463.2,360.3 463.4,379.9 463.5,399.6 463.7,419.2 463.8,438.8 464.0,458.5 464.2,439.4 464.3,420.4 464.5,401.4 464.6,382.3 464.8,363.3 464.9,344.2 465.1,325.2 465.2,306.2 465.4,287.1 465.5,268.1 465.7,249.0 465.8,230.0 466.0,211.0 466.2,229.8 466.3,248.6 466.5,267.5 466.6,286.3 466.8,305.1 466.9,323.9 467.1,342.8 467.2,361.6 467.4,380.4 467.5,399.3 467.7,418.1 467.8,436.9 468.0,455.8 468.2,436.6 468.3,417.4 468.5,398.3 468.6,379.1 468.8,360.0 468.9,340.8 469.1,321.6 469.2,302.5 469.4,283.3 469.5,264.1 469.7,245.0 469.8,225.8 470.0,206.7 470.2,225.9 470.3,245.2 470.5,264.5 470.6,283.8 470.8,303.1 470.9,322.3 471.1,341.6 471.2,360.9 471.4,380.2 471.5,399.5 471.7,418.8 471.8,438.0 472.0,457.3 472.2,438.7 472.3,420.0 472.5,401.4 472.6,382.7 472.8,364.1 472.9,345.4 473.1,326.8 473.2,308.1 473.4,289.5 473.5,270.9 473.7,252.2 473.8,233.6 474.0,214.9 474.2,233.9 474.3,252.8 474.5,271.8 474.6,290.7 474.8,309.7 474.9,328.7 475.1,347.6 475.2,366.6 475.4,385.5 475.5,404.5 475.7,423.4 475.8,442.4 476.0,461.4 476.3,442.9 476.5,424.4 476.8,405.9 477.0,387.4 477.3,368.9 477.5,350.4 477.8,332.0 478.0,313.5 478.3,333.2 478.5,353.0 478.8,372.8 479.0,392.5 479.3,412.3 479.5,432.1 479.8,451.8 480.0,471.6 480.2,453.2 480.4,434.8 480.7,416.4 480.9,398.0 481.1,379.6 481.3,361.2 481.6,342.8 481.8,324.4 482.0,306.0 482.2,324.4 482.3,342.9 482.5,361.4 482.6,379.9 482.8,398.3 482.9,416.8 483.1,435.3 483.2,453.8 483.4,472.2 483.5,490.7 483.7,509.2 483.8,527.7 484.0,546.1 484.2,527.1 484.3,508.1 484.5,489.1 484.6,470.1 484.8,451.1 484.9,432.1 485.1,413.1 485.2,394.1 485.4,375.0 485.5,356.0 485.7,337.0 485.8,318.0 486.0,299.0 486.2,319.0 486.3,338.9 486.5,358.9 486.6,378.9 486.8,398.8 486.9,418.8 487.1,438.8 487.2,458.7 487.4,478.7 487.5,498.7 487.7,518.6 487.8,538.6 488.0,558.6 488.1,538.9 488.3,519.3 488.4,499.7 488.5,480.1 488.7,460.4 488.8,440.8 488.9,421.2 489.1,401.6 489.2,381.9 489.3,362.3 489.5,342.7 489.6,323.1 489.7,303.5 489.9,283.8 490.0,264.2 490.1,283.9 490.3,303.5 490.4,323.2 490.5,342.8 490.6,362.5 490.8,382.2 490.9,401.8 491.0,421.5 491.1,441.1 491.3,460.8 491.4,480.5 491.5,500.1 491.6,519.8 491.8,539.4 491.9,559.1 492.0,578.7 492.1,559.2 492.3,539.6 492.4,520.0 492.5,500.4 492.6,480.8 492.8,461.2 492.9,441.6 493.0,422.1 493.1,402.5 493.3,382.9 493.4,363.3 493.5,343.7 493.6,324.1 493.8,304.5 493.9,285.0 494.0,265.4 494.1,285.4 494.3,305.4 494.4,325.3 494.5,345.3 494.6,365.3 494.8,385.3 494.9,405.3 495.0,425.3 495.1,445.3 495.3,465.3 495.4,485.3 495.5,505.3 495.6,525.2 495.8,545.2 495.9,565.2 496.0,585.2 496.1,565.3 496.3,545.3 496.4,525.4 496.5,505.4 496.6,485.5 496.8,465.5 496.9,445.6 497.0,425.6 497.1,405.7 497.3,385.7 497.4,365.8 497.5,345.8 497.6,325.9 497.8,305.9 497.9,286.0 498.0,266.0 498.1,285.9 498.3,305.9 498.4,325.8 498.5,345.7 498.6,365.7 498.8,385.6 498.9,405.5 499.0,425.5 499.1,445.4 499.3,465.3 499.4,485.3 499.5,505.2 499.6,525.1 499.8,545.1 499.9,565.0 500.0,585.0 500.1,565.9 500.2,546.9 500.4,527.9 500.5,508.9 500.6,489.9 500.7,470.8 500.8,451.8 500.9,432.8 501.1,413.8 501.2,394.8 501.3,375.7 501.4,356.7 501.5,337.7 501.6,318.7 501.8,299.7 501.9,280.6 502.0,261.6 502.1,280.9 502.2,300.1 502.4,319.3 502.5,338.5 502.6,357.8 502.7,377.0 502.8,396.2 502.9,415.5 503.1,434.7 503.2,453.9 503.3,473.2 503.4,492.4 503.5,511.6 503.6,530.9 503.8,550.1 503.9,569.3 504.0,588.6 504.1,569.5 504.3,550.4 504.4,531.3 504.6,512.2 504.7,493.1 504.9,474.0 505.0,454.9 505.1,435.8 505.3,416.7 505.4,397.6 505.6,378.5 505.7,359.4 505.9,340.3 506.0,321.2 506.1,340.6 506.3,360.0 506.4,379.4 506.6,398.8 506.7,418.2 506.9,437.6 507.0,457.1 507.1,476.5 507.3,495.9 507.4,515.3 507.6,534.7 507.7,554.1 507.9,573.5 508.0,592.9 508.2,574.3 508.4,555.6 508.6,536.9 508.8,518.3 509.0,499.6 509.2,480.9 509.4,462.2 509.6,443.6 509.8,424.9 510.0,406.2 510.2,425.0 510.4,443.9 510.6,462.7 510.8,481.5 511.0,500.3 511.2,519.2 511.4,538.0 511.6,556.8 511.8,575.6 512.0,594.5 512.2,575.2 512.4,556.0 512.6,536.8 512.8,517.6 513.0,498.4 513.2,479.1 513.4,459.9 513.6,440.7 513.8,421.5 514.0,402.3 514.2,422.0 514.4,441.8 514.6,461.5 514.8,481.3 515.0,501.0 515.2,520.8 515.4,540.5 515.6,560.3 515.8,580.1 516.0,599.8 516.2,579.9 516.4,560.0 516.6,540.1 516.8,520.2 517.0,500.4 517.2,480.5 517.4,460.6 517.6,440.7 517.8,420.8 518.0,400.9 518.2,419.1 518.4,437.4 518.5,455.6 518.7,473.9 518.9,492.1 519.1,510.4 519.3,528.6 519.5,546.9 519.6,565.1 519.8,583.4 520.0,601.6 520.2,581.7 520.4,561.9 520.6,542.0 520.8,522.1 521.0,502.2 521.2,482.4 521.4,462.5 521.6,442.6 521.8,422.7 522.0,402.9 522.3,421.8 522.5,440.7 522.8,459.6 523.0,478.5 523.3,497.4 523.5,516.3 523.8,535.2 524.0,554.1 524.3,535.9 524.5,517.7 524.8,499.5 525.0,481.3 525.3,463.1 525.5,444.9 525.8,426.8 526.0,408.6 526.3,426.8 526.5,445.1 526.8,463.4 527.0,481.7 527.3,499.9 527.5,518.2 527.8,536.5 528.0,554.7 530.0,528.2 532.0,553.0 532.2,534.2 532.4,515.4 532.6,496.5 532.8,477.7 533.0,458.9 533.2,440.1 533.4,421.3 533.6,402.5 533.8,383.6 534.0,364.8 534.2,384.2 534.4,403.5 534.7,422.8 534.9,442.2 535.1,461.5 535.3,480.8 535.6,500.2 535.8,519.5 536.0,538.8 536.2,519.0 536.4,499.2 536.6,479.3 536.8,459.5 537.0,439.6 537.2,419.8 537.4,399.9 537.6,380.1 537.8,360.3 538.0,340.4 538.2,359.4 538.4,378.3 538.5,397.3 538.7,416.3 538.9,435.2 539.1,454.2 539.3,473.1 539.5,492.1 539.6,511.0 539.8,530.0 540.0,549.0 540.2,530.0 540.3,511.1 540.5,492.2 540.7,473.3 540.8,454.4 541.0,435.5 541.2,416.6 541.3,397.7 541.5,378.8 541.7,359.9 541.8,341.0 542.0,322.1 542.2,341.7 542.4,361.3 542.6,381.0 542.8,400.6 543.0,420.2 543.2,439.8 543.4,459.4 543.6,479.1 543.8,498.7 544.0,518.3 544.2,499.3 544.4,480.2 544.5,461.2 544.7,442.1 544.9,423.1 545.1,404.0 545.3,385.0 545.5,365.9 545.6,346.9 545.8,327.8 546.0,308.8 546.2,327.7 546.4,346.7 546.5,365.7 546.7,384.7 546.9,403.7 547.1,422.7 547.3,441.6 547.5,460.6 547.6,479.6 547.8,498.6 548.0,517.6 548.2,499.1 548.4,480.5 548.5,462.0 548.7,443.5 548.9,425.0 549.1,406.5 549.3,388.0 549.5,369.5 549.6,351.0 549.8,332.5 550.0,314.0 550.2,333.7 550.4,353.5 550.6,373.3 550.8,393.1 551.0,412.9 551.2,432.6 551.4,452.4 551.6,472.2 551.8,492.0 552.0,511.8 552.2,493.0 552.4,474.2 552.6,455.4 552.8,436.6 553.0,417.8 553.2,399.0 553.4,380.2 553.6,361.4 553.8,342.6 554.0,323.8 554.2,342.4 554.4,361.0 554.6,379.7 554.8,398.3 555.0,416.9 555.2,435.5 555.4,454.1 555.6,472.7 555.8,491.3 556.0,509.9 556.2,491.3 556.4,472.8 556.6,454.2 556.8,435.6 557.0,417.1 557.2,398.5 557.4,379.9 557.6,361.3 557.8,342.8 558.0,324.2 558.2,342.3 558.4,360.5 558.6,378.7 558.8,396.8 559.0,415.0 559.2,433.1 559.4,451.3 559.6,469.5 559.8,487.6 560.0,505.8 560.3,487.0 560.5,468.2 560.8,449.4 561.0,430.5 561.3,411.7 561.5,392.9 561.8,374.1 562.0,355.3 562.3,374.3 562.5,393.4 562.8,412.4 563.0,431.5 563.3,450.5 563.5,469.6 563.8,488.6 564.0,507.7 564.3,487.8 564.5,467.9 564.8,448.0 565.0,428.2 565.3,408.3 565.5,388.4 565.8,368.5 566.0,348.7 566.3,367.3 566.5,386.0 566.8,404.6 567.0,423.2 567.3,441.9 567.5,460.5 567.8,479.2 568.0,497.8 568.2,479.4 568.4,461.0 568.7,442.6 568.9,424.2 569.1,405.8 569.3,387.4 569.6,369.0 569.8,350.6 570.0,332.2 570.2,351.5 570.4,370.8 570.7,390.1 570.9,409.4 571.1,428.7 571.3,448.0 571.6,467.3 571.8,486.6 572.0,505.9 572.2,486.9 572.4,467.9 572.7,448.9 572.9,430.0 573.1,411.0 573.3,392.0 573.6,373.0 573.8,354.0 574.0,335.1 574.2,354.2 574.4,373.4 574.7,392.5 574.9,411.7 575.1,430.8 575.3,450.0 575.6,469.1 575.8,488.3 576.0,507.5 576.2,488.1 576.4,468.8 576.7,449.5 576.9,430.1 577.1,410.8 577.3,391.5 577.6,372.2 577.8,352.8 578.0,333.5 578.2,352.1 578.4,370.7 578.7,389.3 578.9,407.9 579.1,426.4 579.3,445.0 579.6,463.6 579.8,482.2 580.0,500.8 580.3,482.9 580.5,464.9 580.8,447.0 581.0,429.0 581.3,411.1 581.5,393.2 581.8,375.2 582.0,357.3 582.1,376.7 582.3,396.1 582.4,415.4 582.6,434.8 582.7,454.2 582.9,473.6 583.0,493.0 583.1,512.4 583.3,531.8 583.4,551.2 583.6,570.6 583.7,590.0 583.9,609.3 584.0,628.7 584.2,610.0 584.3,591.3 584.5,572.6 584.7,553.9 584.8,535.2 585.0,516.5 585.2,497.8 585.3,479.1 585.5,460.4 585.7,441.7 585.8,423.0 586.0,404.2 586.2,423.0 586.3,441.7 586.5,460.4 586.6,479.2 586.8,497.9 586.9,516.6 587.1,535.3 587.2,554.1 587.4,572.8 587.5,591.5 587.7,610.3 587.8,629.0 588.0,647.7 588.2,629.4 588.4,611.0 588.7,592.7 588.9,574.3 589.1,556.0 589.3,537.6 589.6,519.3 589.8,500.9 590.0,482.6 590.2,500.7 590.4,518.8 590.7,536.9 590.9,555.0 591.1,573.1 591.3,591.2 591.6,609.3 591.8,627.4 592.0,645.5 592.3,628.2 592.6,610.9 592.9,593.7 593.1,576.4 593.4,559.1 593.7,541.9 594.0,524.6 594.3,543.6 594.7,562.7 595.0,581.7 595.3,600.8 595.7,619.8 596.0,638.8 596.3,619.9 596.7,601.0 597.0,582.1 597.3,563.2 597.7,544.3 598.0,525.4 598.3,543.7 598.6,561.9 598.9,580.1 599.1,598.4 599.4,616.6 599.7,634.9 600.0,653.1 600.3,635.1 600.6,617.1 600.9,599.1 601.1,581.1 601.4,563.1 601.7,545.0 602.0,527.0 602.3,544.6 602.5,562.1 602.8,579.6 603.0,597.1 603.3,614.6 603.5,632.2 603.8,649.7 604.0,667.2 604.3,648.8 604.5,630.5 604.8,612.1 605.0,593.8 605.3,575.4 605.5,557.0 605.8,538.7 606.0,520.3 606.3,538.0 606.5,555.7 606.8,573.4 607.0,591.0 607.3,608.7 607.5,626.4 607.8,644.1 608.0,661.8 608.3,644.1 608.5,626.5 608.8,608.9 609.0,591.3 609.3,573.6 609.5,556.0 609.8,538.4 610.0,520.7 610.3,539.4 610.6,558.1 610.9,576.8 611.1,595.5 611.4,614.2 611.7,632.9 612.0,651.6 612.3,634.0 612.6,616.4 612.9,598.8 613.1,581.2 613.4,563.6 613.7,546.0 614.0,528.4 614.3,547.1 614.5,565.8 614.8,584.5 615.0,603.2 615.3,621.9 615.5,640.6 615.8,659.3 616.0,678.0 616.3,658.4 616.5,638.8 616.8,619.3 617.0,599.7 617.3,580.1 617.5,560.6 617.8,541.0 618.0,521.4 618.2,541.3 618.4,561.2 618.5,581.1 618.7,601.0 618.9,620.9 619.1,640.8 619.3,660.7 619.5,680.7 619.6,700.6 619.8,720.5 620.0,740.4 620.2,720.4 620.4,700.4 620.5,680.5 620.7,660.5 620.9,640.6 621.1,620.6 621.3,600.7 621.5,580.7 621.6,560.8 621.8,540.8 622.0,520.9 622.2,539.3 622.3,557.7 622.5,576.1 622.7,594.5 622.8,612.9 623.0,631.3 623.2,649.7 623.3,668.2 623.5,686.6 623.7,705.0 623.8,723.4 624.0,741.8 624.2,722.7 624.4,703.6 624.5,684.5 624.7,665.4 624.9,646.3 625.1,627.2 625.3,608.1 625.5,589.0 625.6,569.9 625.8,550.8 626.0,531.6 626.2,550.4 626.4,569.2 626.5,588.0 626.7,606.8 626.9,625.5 627.1,644.3 627.3,663.1 627.5,681.9 627.6,700.6 627.8,719.4 628.0,738.2 628.3,719.3 628.7,700.4 629.0,681.5 629.3,662.6 629.7,643.7 630.0,624.8 630.3,644.0 630.7,663.2 631.0,682.4 631.3,701.6 631.7,720.8 632.0,739.9 632.3,721.1 632.6,702.3 632.9,683.4 633.1,664.6 633.4,645.8 633.7,626.9 634.0,608.1 634.3,627.9 634.7,647.8 635.0,667.6 635.3,687.4 635.7,707.2 636.0,727.1 636.3,708.1 636.6,689.0 636.9,670.0 637.1,651.0 637.4,632.0 637.7,612.9 638.0,593.9 638.3,611.6 638.6,629.3 638.9,647.0 639.1,664.8 639.4,682.5 639.7,700.2 640.0,717.9 640.3,699.6 640.6,681.4 640.9,663.1 641.1,644.8 641.4,626.5 641.7,608.3 642.0,590.0 642.5,609.0 643.0,628.0 643.5,647.0 644.0,666.0 644.4,647.9 644.8,629.8 645.2,611.7 645.6,593.7 646.0,575.6 646.3,593.0 646.6,610.5 646.9,628.0 647.1,645.4 647.4,662.9 647.7,680.4 648.0,697.8 650.0,671.0 651.0,687.8 652.0,704.6 654.0,701.9 656.0,694.2 656.3,675.0 656.7,655.8 657.0,636.5 657.3,617.3 657.7,598.0 658.0,578.8 658.3,598.6 658.7,618.4 659.0,638.3 659.3,658.1 659.7,677.9 660.0,697.7 660.3,678.9 660.7,660.0 661.0,641.1 661.3,622.3 661.7,603.4 662.0,584.6 662.3,603.1 662.7,621.6 663.0,640.1 663.3,658.6 663.7,677.1 664.0,695.6 664.4,675.7 664.8,655.7 665.2,635.8 665.6,615.9 666.0,595.9 666.3,612.8 666.7,629.7 667.0,646.5 667.3,663.4 667.7,680.2 668.0,697.1 668.3,679.1 668.7,661.1 669.0,643.1 669.3,625.1 669.7,607.1 670.0,589.2 670.3,608.7 670.7,628.2 671.0,647.8 671.3,667.3 671.7,686.8 672.0,706.4 672.3,686.8 672.7,667.1 673.0,647.5 673.3,627.9 673.7,608.3 674.0,588.7 674.3,607.2 674.7,625.8 675.0,644.3 675.3,662.8 675.7,681.4 676.0,699.9 676.3,681.6 676.7,663.3 677.0,645.0 677.3,626.7 677.7,608.4 678.0,590.1 678.3,609.1 678.7,628.0 679.0,647.0 679.3,666.0 679.7,684.9 680.0,703.9 680.3,685.1 680.7,666.2 681.0,647.4 681.3,628.5 681.7,609.7 682.0,590.8 682.3,610.3 682.7,629.7 683.0,649.1 683.3,668.6 683.7,688.0 684.0,707.5 686.0,700.9 688.0,697.2 688.3,679.2 688.7,661.2 689.0,643.2 689.3,625.2 689.7,607.2 690.0,589.1 690.3,608.7 690.7,628.2 691.0,647.7 691.3,667.2 691.7,686.8 692.0,706.3 692.3,687.2 692.6,668.1 692.9,649.1 693.1,630.0 693.4,610.9 693.7,591.8 694.0,572.8 694.3,590.4 694.5,608.0 694.8,625.6 695.0,643.2 695.3,660.8 695.5,678.4 695.8,696.1 696.0,713.7 696.2,694.9 696.3,676.2 696.5,657.5 696.7,638.7 696.8,620.0 697.0,601.2 697.2,582.5 697.3,563.7 697.5,545.0 697.7,526.3 697.8,507.5 698.0,488.8 698.2,507.3 698.3,525.9 698.5,544.5 698.7,563.1 698.8,581.6 699.0,600.2 699.2,618.8 699.3,637.4 699.5,655.9 699.7,674.5 699.8,693.1 700.0,711.7 700.2,692.9 700.3,674.1 700.5,655.4 700.6,636.6 700.8,617.8 700.9,599.1 701.1,580.3 701.2,561.5 701.4,542.8 701.5,524.0 701.7,505.2 701.8,486.5 702.0,467.7 702.2,486.7 702.3,505.7 702.5,524.7 702.6,543.7 702.8,562.7 702.9,581.7 703.1,600.7 703.2,619.7 703.4,638.7 703.5,657.7 703.7,676.7 703.8,695.7 704.0,714.7 704.2,695.6 704.3,676.5 704.5,657.4 704.6,638.3 704.8,619.2 704.9,600.1 705.1,581.0 705.2,561.9 705.4,542.8 705.5,523.8 705.7,504.7 705.8,485.6 706.0,466.5 706.2,486.0 706.4,505.6 706.6,525.2 706.8,544.7 707.0,564.3 707.2,583.8 707.4,603.4 707.6,622.9 707.8,642.5 708.0,662.1 708.2,643.5 708.4,625.0 708.5,606.4 708.7,587.9 708.9,569.3 709.1,550.8 709.3,532.2 709.5,513.7 709.6,495.2 709.8,476.6 710.0,458.1 710.2,477.6 710.3,497.2 710.5,516.7 710.6,536.3 710.8,555.8 710.9,575.4 711.1,594.9 711.2,614.5 711.4,634.0 711.5,653.6 711.7,673.1 711.8,692.7 712.0,712.2 712.2,693.2 712.3,674.2 712.5,655.2 712.6,636.3 712.8,617.3 712.9,598.3 713.1,579.3 713.2,560.3 713.4,541.3 713.5,522.4 713.7,503.4 713.8,484.4 714.0,465.4 714.4,482.1 714.8,498.8 715.2,515.5 715.6,532.2 716.0,549.0 717.0,565.1 718.0,581.3 720.0,552.7 722.0,551.5 722.7,568.9 723.3,586.2 724.0,603.5 724.7,589.2 725.3,575.0 726.0,560.7 726.3,578.6 726.5,596.4 726.8,614.3 727.0,632.1 727.3,649.9 727.5,667.8 727.8,685.6 728.0,703.5 728.3,685.7 728.5,667.9 728.8,650.1 729.0,632.3 729.3,614.5 729.5,596.7 729.8,579.0 730.0,561.2 730.3,579.7 730.5,598.2 730.8,616.7 731.0,635.2 731.3,653.7 731.5,672.2 731.8,690.7 732.0,709.2 732.4,692.7 732.8,676.1 733.2,659.6 733.6,643.1 734.0,626.6 734.5,645.4 735.0,664.2 735.5,683.1 736.0,701.9 738.0,690.8 740.0,720.4 740.7,703.5 741.3,686.6 742.0,669.7 743.0,688.4 744.0,707.1 744.3,688.9 744.7,670.6 745.0,652.4 745.3,634.1 745.7,615.9 746.0,597.6 746.3,616.3 746.5,635.1 746.8,653.8 747.0,672.5 747.3,691.2 747.5,709.9 747.8,728.7 748.0,747.4 748.2,729.5 748.4,711.6 748.7,693.7 748.9,675.8 749.1,657.9 749.3,640.0 749.6,622.0 749.8,604.1 750.0,586.2 750.3,605.5 750.5,624.8 750.8,644.1 751.0,663.4 751.3,682.7 751.5,702.0 751.8,721.3 752.0,740.6 752.2,722.8 752.4,705.0 752.7,687.2 752.9,669.5 753.1,651.7 753.3,633.9 753.6,616.1 753.8,598.3 754.0,580.6 754.3,599.2 754.6,617.9 754.9,636.5 755.1,655.2 755.4,673.8 755.7,692.4 756.0,711.1 756.3,691.9 756.6,672.7 756.9,653.5 757.1,634.3 757.4,615.2 757.7,596.0 758.0,576.8 760.0,595.2 762.0,581.2 762.3,599.3 762.6,617.5 762.9,635.6 763.1,653.8 763.4,671.9 763.7,690.1 764.0,708.2 764.3,688.6 764.6,669.0 764.9,649.5 765.1,629.9 765.4,610.3 765.7,590.7 766.0,571.1 766.3,590.0 766.6,608.9 766.9,627.8 767.1,646.6 767.4,665.5 767.7,684.4 768.0,703.3 768.3,684.6 768.6,665.9 768.9,647.2 769.1,628.4 769.4,609.7 769.7,591.0 770.0,572.3 770.4,589.8 770.8,607.3 771.2,624.9 771.6,642.4 772.0,659.9 774.0,658.0 774.7,677.2 775.3,696.5 776.0,715.7 776.5,697.8 777.0,679.8 777.5,661.9 778.0,643.9 778.5,663.2 779.0,682.4 779.5,701.7 780.0,720.9 780.4,701.0 780.8,681.1 781.2,661.2 781.6,641.3 782.0,621.4 782.3,638.5 782.7,655.7 783.0,672.8 783.3,689.9 783.7,707.0 784.0,724.2 784.3,706.8 784.7,689.5 785.0,672.2 785.3,654.8 785.7,637.5 786.0,620.2 786.4,636.6 786.8,653.0 787.2,669.4 787.6,685.9 788.0,702.3 788.5,684.7 789.0,667.2 789.5,649.7 790.0,632.2 790.3,650.2 790.5,668.3 790.8,686.3 791.0,704.4 791.3,722.4 791.5,740.5 791.8,758.5 792.0,776.6 792.3,758.2 792.5,739.8 792.8,721.4 793.0,703.0 793.3,684.6 793.5,666.2 793.8,647.8 794.0,629.4 794.3,647.9 794.5,666.4 794.8,684.8 795.0,703.3 795.3,721.8 795.5,740.3 795.8,758.8 796.0,777.3 796.3,759.1 796.5,741.0 796.8,722.8 797.0,704.7 797.3,686.5 797.5,668.4 797.8,650.3 798.0,632.1 798.3,650.4 798.5,668.7 798.8,686.9 799.0,705.2 799.3,723.5 799.5,741.8 799.8,760.0 800.0,778.3 800.3,758.8 800.6,739.2 800.9,719.7 801.1,700.2 801.4,680.6 801.7,661.1 802.0,641.6 802.3,661.3 802.6,681.0 802.9,700.7 803.1,720.4 803.4,740.1 803.7,759.8 804.0,779.5 804.2,761.3 804.4,743.1 804.7,724.8 804.9,706.6 805.1,688.4 805.3,670.2 805.6,652.0 805.8,633.7 806.0,615.5 806.3,634.5 806.5,653.5 806.8,672.4 807.0,691.4 807.3,710.4 807.5,729.4 807.8,748.4 808.0,767.3 808.4,747.9 808.8,728.5 809.2,709.1 809.6,689.6 810.0,670.2 812.0,690.8 812.4,672.8 812.8,654.8 813.2,636.7 813.6,618.7 814.0,600.7 814.5,619.0 815.0,637.3 815.5,655.7 816.0,674.0 816.5,658.3 817.0,642.6 817.5,626.8 818.0,611.1 818.7,631.1 819.3,651.0 820.0,671.0 820.5,655.9 821.0,640.7 821.5,625.6 822.0,610.5 822.5,625.6 823.0,640.8 823.5,656.0 824.0,671.2 824.7,656.8 825.3,642.3 826.0,627.9 826.7,642.0 827.3,656.0 828.0,670.1 828.7,651.5 829.3,632.8 830.0,614.2 830.5,630.6 831.0,647.0 831.5,663.3 832.0,679.7 832.7,662.1 833.3,644.5 834.0,626.8 834.5,644.9 835.0,662.9 835.5,680.9 836.0,698.9 836.4,682.4 836.8,665.9 837.2,649.4 837.6,632.9 838.0,616.4 838.3,634.0 838.6,651.6 838.9,669.1 839.1,686.7 839.4,704.3 839.7,721.9 840.0,739.5 840.5,720.9 841.0,702.3 841.5,683.7 842.0,665.1 842.5,683.8 843.0,702.6 843.5,721.4 844.0,740.1 844.3,720.5 844.7,700.8 845.0,681.1 845.3,661.4 845.7,641.7 846.0,622.0 846.3,640.2 846.6,658.3 846.9,676.4 847.1,694.5 847.4,712.7 847.7,730.8 848.0,748.9 848.3,730.3 848.6,711.7 848.9,693.1 849.1,674.5 849.4,655.9 849.7,637.3 850.0,618.7 850.3,638.3 850.6,657.8 850.9,677.4 851.1,697.0 851.4,716.6 851.7,736.1 852.0,755.7 852.3,737.1 852.7,718.4 853.0,699.8 853.3,681.1 853.7,662.5 854.0,643.9 854.3,662.4 854.7,680.9 855.0,699.4 855.3,717.9 855.7,736.5 856.0,755.0 856.3,736.6 856.6,718.2 856.9,699.9 857.1,681.5 857.4,663.1 857.7,644.8 858.0,626.4 858.3,646.4 858.7,666.4 859.0,686.4 859.3,706.4 859.7,726.4 860.0,746.4 860.3,727.3 860.6,708.2 860.9,689.1 861.1,670.0 861.4,650.9 861.7,631.8 862.0,612.7 862.3,630.6 862.6,648.4 862.9,666.2 863.1,684.0 863.4,701.8 863.7,719.7 864.0,737.5 864.3,719.2 864.6,701.0 864.9,682.8 865.1,664.5 865.4,646.3 865.7,628.1 866.0,609.8 866.3,627.8 866.7,645.8 867.0,663.8 867.3,681.8 867.7,699.8 868.0,717.8 868.3,698.5 868.7,679.2 869.0,659.9 869.3,640.6 869.7,621.3 870.0,602.0 870.7,619.7 871.3,637.3 872.0,655.0 872.7,639.0 873.3,623.0 874.0,607.0 874.3,624.4 874.7,641.8 875.0,659.2 875.3,676.5 875.7,693.9 876.0,711.3 876.3,693.3 876.7,675.3 877.0,657.3 877.3,639.4 877.7,621.4 878.0,603.4 878.3,622.6 878.7,641.9 879.0,661.2 879.3,680.4 879.7,699.7 880.0,718.9 880.3,701.2 880.6,683.6 880.9,665.9 881.1,648.2 881.4,630.5 881.7,612.8 882.0,595.2 882.3,612.8 882.6,630.5 882.9,648.2 883.1,665.8 883.4,683.5 883.7,701.2 884.0,718.9 884.3,702.1 884.7,685.4 885.0,668.7 885.3,652.0 885.7,635.3 886.0,618.6" fill="none" stroke="#ff6a00" stroke-width="6" stroke-linejoin="round" stroke-linecap="round" marker-start="url(#ax)" marker-mid="url(#ax)" marker-end="url(#ax)"/>
<polyline points="448.5,372.0 451.5,398.5 448.5,425.0 451.5,451.5 448.5,478.0" fill="none" stroke="#000000" stroke-width="7" stroke-linejoin="round" stroke-linecap="round" marker-start="url(#acs)" marker-mid="url(#acs)" marker-end="url(#acs)"/>
<polyline points="454.5,400.0 457.5,426.7 454.5,453.3 457.5,480.0" fill="none" stroke="#000000" stroke-width="7" stroke-linejoin="round" stroke-linecap="round" marker-start="url(#acs)" marker-mid="url(#acs)" marker-end="url(#acs)"/>
<polyline points="482.5,410.0 485.5,433.6 482.5,457.1 485.5,480.7 482.5,504.3 485.5,527.9 482.5,551.4 485.5,575.0" fill="none" stroke="#000000" stroke-width="7" stroke-linejoin="round" stroke-linecap="round" marker-start="url(#acs)" marker-mid="url(#acs)" marker-end="url(#acs)"/>
<polyline points="491.5,430.0 494.5,455.0 491.5,480.0 494.5,505.0 491.5,530.0 494.5,555.0 491.5,580.0" fill="none" stroke="#000000" stroke-width="7" stroke-linejoin="round" stroke-linecap="round" marker-start="url(#acs)" marker-mid="url(#acs)" marker-end="url(#acs)"/>
<polyline points="468.5,480.0 471.5,503.8 468.5,527.5 471.5,551.2 468.5,575.0" fill="none" stroke="#000000" stroke-width="7" stroke-linejoin="round" stroke-linecap="round" marker-start="url(#acs)" marker-mid="url(#acs)" marker-end="url(#acs)"/>
<polyline points="541.5,482.0 544.5,505.6 541.5,529.2 544.5,552.8 541.5,576.4 544.5,600.0" fill="none" stroke="#000000" stroke-width="7" stroke-linejoin="round" stroke-linecap="round" marker-start="url(#acs)" marker-mid="url(#acs)" marker-end="url(#acs)"/>
<polyline points="547.5,500.0 550.5,526.2 547.5,552.5 550.5,578.8 547.5,605.0" fill="none" stroke="#000000" stroke-width="7" stroke-linejoin="round" stroke-linecap="round" marker-start="url(#acs)" marker-mid="url(#acs)" marker-end="url(#acs)"/>
</g>
<g id="panel-a-inset">
<line x1="1595.6" y1="211.0" x2="1595.6" y2="451.0" stroke="#2a2a2a" stroke-width="3.2"/>
<line x1="1594.0" y1="449.3" x2="1916.0" y2="449.3" stroke="#3c3c3c" stroke-width="4.2"/>
<circle cx="1634.2" cy="265.5" r="19.0" fill="#e0691c"/>
<circle cx="1850.7" cy="392.3" r="20.0" fill="#f5640a"/>
<line x1="1668.0" y1="170.0" x2="1637.5" y2="241.0" stroke="#8c8c8c" stroke-width="1.6"/>
<line x1="1888.0" y1="304.5" x2="1858.5" y2="373.0" stroke="#8c8c8c" stroke-width="1.6"/>
<path d="M1598 449 C1599 395 1612 330 1624 288 C1629 270 1632 256 1634.5 254.5 C1638 254 1641 268 1645 286 C1654 326 1668 352 1690 370 C1712 386 1736 389.5 1765 389.5 L1872 389.5" fill="none" stroke="#000" stroke-width="7" stroke-linejoin="round"/>
<text x="1638.5" y="165.0" font-size="58.8" text-anchor="start" font-weight="normal" fill="#2c2c2c">Peak</text>
<text x="1719.0" y="281.0" font-size="58.6" text-anchor="start" font-weight="normal" fill="#2c2c2c">Steady state</text>
</g>
<g id="panel-a-legend">
<line x1="1692.0" y1="732.7" x2="1812.0" y2="732.7" stroke="#cdb4cd" stroke-width="3"/>
<rect x="1729.3" y="710.7" width="44.0" height="44.0" fill="none" stroke="#6a3478" stroke-width="4.5"/>
<text x="1848.0" y="749.1" font-size="45.5" fill="#3a3a3a">0.001 s<tspan font-size="25.5" dx="0.5" dy="-16.4">-1</tspan></text>
<line x1="1692.0" y1="797.6" x2="1812.0" y2="797.6" stroke="#e6b0b0" stroke-width="3"/>
<path d="M1751.3 773.6L1775.3 797.6L1751.3 821.6L1727.3 797.6Z" fill="#ff0000"/>
<text x="1848.0" y="814.0" font-size="45.5" fill="#3a3a3a">0.01 s<tspan font-size="25.5" dx="0.5" dy="-16.4">-1</tspan></text>
<line x1="1692.0" y1="862.6" x2="1812.0" y2="862.6" stroke="#0000ff" stroke-width="7.5"/>
<path d="M1727.3 842.7L1775.3 842.7L1751.3 883.2Z" fill="#0000ff"/>
<text x="1848.0" y="879.0" font-size="45.5" fill="#3a3a3a">0.1 s<tspan font-size="25.5" dx="0.5" dy="-16.4">-1</tspan></text>
<line x1="1692.0" y1="927.2" x2="1812.0" y2="927.2" stroke="#ff8030" stroke-width="7"/>
<path d="M1731.8 907.7L1770.8 946.7M1770.8 907.7L1731.8 946.7" stroke="#ff6600" stroke-width="11" fill="none"/>
<text x="1848.0" y="943.6" font-size="45.5" fill="#3a3a3a">0.5 s<tspan font-size="25.5" dx="0.5" dy="-16.4">-1</tspan></text>
<line x1="1692.0" y1="993.0" x2="1812.0" y2="993.0" stroke="#000000" stroke-width="6.5"/>
<circle cx="1751.3" cy="993.0" r="25.0" fill="#000000"/>
<text x="1848.0" y="1009.4" font-size="45.5" fill="#3a3a3a">1 s<tspan font-size="25.5" dx="0.5" dy="-16.4">-1</tspan></text>
</g>
<g id="panel-b-axes">
<line x1="331.6" y1="1406.0" x2="2118.3" y2="1406.0" stroke="#000" stroke-width="5.3"/>
<line x1="331.6" y1="2419.6" x2="2118.3" y2="2419.6" stroke="#000" stroke-width="5.3"/>
<line x1="371.6" y1="1366.0" x2="371.6" y2="2459.6" stroke="#000" stroke-width="5.3"/>
<line x1="2078.3" y1="1366.0" x2="2078.3" y2="2459.6" stroke="#000" stroke-width="5.3"/>
<line x1="371.6" y1="1366.0" x2="371.6" y2="1408.7" stroke="#000" stroke-width="5.3"/>
<line x1="371.6" y1="2416.9" x2="371.6" y2="2459.6" stroke="#000" stroke-width="5.3"/>
<line x1="439.9" y1="1385.0" x2="439.9" y2="1408.7" stroke="#000" stroke-width="5.3"/>
<line x1="439.9" y1="2416.9" x2="439.9" y2="2440.6" stroke="#000" stroke-width="5.3"/>
<line x1="508.1" y1="1385.0" x2="508.1" y2="1408.7" stroke="#000" stroke-width="5.3"/>
<line x1="508.1" y1="2416.9" x2="508.1" y2="2440.6" stroke="#000" stroke-width="5.3"/>
<line x1="576.4" y1="1385.0" x2="576.4" y2="1408.7" stroke="#000" stroke-width="5.3"/>
<line x1="576.4" y1="2416.9" x2="576.4" y2="2440.6" stroke="#000" stroke-width="5.3"/>
<line x1="644.7" y1="1385.0" x2="644.7" y2="1408.7" stroke="#000" stroke-width="5.3"/>
<line x1="644.7" y1="2416.9" x2="644.7" y2="2440.6" stroke="#000" stroke-width="5.3"/>
<line x1="712.9" y1="1366.0" x2="712.9" y2="1408.7" stroke="#000" stroke-width="5.3"/>
<line x1="712.9" y1="2416.9" x2="712.9" y2="2459.6" stroke="#000" stroke-width="5.3"/>
<line x1="781.2" y1="1385.0" x2="781.2" y2="1408.7" stroke="#000" stroke-width="5.3"/>
<line x1="781.2" y1="2416.9" x2="781.2" y2="2440.6" stroke="#000" stroke-width="5.3"/>
<line x1="849.5" y1="1385.0" x2="849.5" y2="1408.7" stroke="#000" stroke-width="5.3"/>
<line x1="849.5" y1="2416.9" x2="849.5" y2="2440.6" stroke="#000" stroke-width="5.3"/>
<line x1="917.7" y1="1385.0" x2="917.7" y2="1408.7" stroke="#000" stroke-width="5.3"/>
<line x1="917.7" y1="2416.9" x2="917.7" y2="2440.6" stroke="#000" stroke-width="5.3"/>
<line x1="986.0" y1="1385.0" x2="986.0" y2="1408.7" stroke="#000" stroke-width="5.3"/>
<line x1="986.0" y1="2416.9" x2="986.0" y2="2440.6" stroke="#000" stroke-width="5.3"/>
<line x1="1054.3" y1="1366.0" x2="1054.3" y2="1408.7" stroke="#000" stroke-width="5.3"/>
<line x1="1054.3" y1="2416.9" x2="1054.3" y2="2459.6" stroke="#000" stroke-width="5.3"/>
<line x1="1122.5" y1="1385.0" x2="1122.5" y2="1408.7" stroke="#000" stroke-width="5.3"/>
<line x1="1122.5" y1="2416.9" x2="1122.5" y2="2440.6" stroke="#000" stroke-width="5.3"/>
<line x1="1190.8" y1="1385.0" x2="1190.8" y2="1408.7" stroke="#000" stroke-width="5.3"/>
<line x1="1190.8" y1="2416.9" x2="1190.8" y2="2440.6" stroke="#000" stroke-width="5.3"/>
<line x1="1259.1" y1="1385.0" x2="1259.1" y2="1408.7" stroke="#000" stroke-width="5.3"/>
<line x1="1259.1" y1="2416.9" x2="1259.1" y2="2440.6" stroke="#000" stroke-width="5.3"/>
<line x1="1327.4" y1="1385.0" x2="1327.4" y2="1408.7" stroke="#000" stroke-width="5.3"/>
<line x1="1327.4" y1="2416.9" x2="1327.4" y2="2440.6" stroke="#000" stroke-width="5.3"/>
<line x1="1395.6" y1="1366.0" x2="1395.6" y2="1408.7" stroke="#000" stroke-width="5.3"/>
<line x1="1395.6" y1="2416.9" x2="1395.6" y2="2459.6" stroke="#000" stroke-width="5.3"/>
<line x1="1463.9" y1="1385.0" x2="1463.9" y2="1408.7" stroke="#000" stroke-width="5.3"/>
<line x1="1463.9" y1="2416.9" x2="1463.9" y2="2440.6" stroke="#000" stroke-width="5.3"/>
<line x1="1532.2" y1="1385.0" x2="1532.2" y2="1408.7" stroke="#000" stroke-width="5.3"/>
<line x1="1532.2" y1="2416.9" x2="1532.2" y2="2440.6" stroke="#000" stroke-width="5.3"/>
<line x1="1600.4" y1="1385.0" x2="1600.4" y2="1408.7" stroke="#000" stroke-width="5.3"/>
<line x1="1600.4" y1="2416.9" x2="1600.4" y2="2440.6" stroke="#000" stroke-width="5.3"/>
<line x1="1668.7" y1="1385.0" x2="1668.7" y2="1408.7" stroke="#000" stroke-width="5.3"/>
<line x1="1668.7" y1="2416.9" x2="1668.7" y2="2440.6" stroke="#000" stroke-width="5.3"/>
<line x1="1737.0" y1="1366.0" x2="1737.0" y2="1408.7" stroke="#000" stroke-width="5.3"/>
<line x1="1737.0" y1="2416.9" x2="1737.0" y2="2459.6" stroke="#000" stroke-width="5.3"/>
<line x1="1805.2" y1="1385.0" x2="1805.2" y2="1408.7" stroke="#000" stroke-width="5.3"/>
<line x1="1805.2" y1="2416.9" x2="1805.2" y2="2440.6" stroke="#000" stroke-width="5.3"/>
<line x1="1873.5" y1="1385.0" x2="1873.5" y2="1408.7" stroke="#000" stroke-width="5.3"/>
<line x1="1873.5" y1="2416.9" x2="1873.5" y2="2440.6" stroke="#000" stroke-width="5.3"/>
<line x1="1941.8" y1="1385.0" x2="1941.8" y2="1408.7" stroke="#000" stroke-width="5.3"/>
<line x1="1941.8" y1="2416.9" x2="1941.8" y2="2440.6" stroke="#000" stroke-width="5.3"/>
<line x1="2010.0" y1="1385.0" x2="2010.0" y2="1408.7" stroke="#000" stroke-width="5.3"/>
<line x1="2010.0" y1="2416.9" x2="2010.0" y2="2440.6" stroke="#000" stroke-width="5.3"/>
<line x1="2078.3" y1="1366.0" x2="2078.3" y2="1408.7" stroke="#000" stroke-width="5.3"/>
<line x1="2078.3" y1="2416.9" x2="2078.3" y2="2459.6" stroke="#000" stroke-width="5.3"/>
<line x1="331.6" y1="2419.6" x2="374.2" y2="2419.6" stroke="#000" stroke-width="5.3"/>
<line x1="2075.7" y1="2419.6" x2="2118.3" y2="2419.6" stroke="#000" stroke-width="5.3"/>
<line x1="350.6" y1="2358.6" x2="374.2" y2="2358.6" stroke="#000" stroke-width="5.3"/>
<line x1="2075.7" y1="2358.6" x2="2099.3" y2="2358.6" stroke="#000" stroke-width="5.3"/>
<line x1="350.6" y1="2322.9" x2="374.2" y2="2322.9" stroke="#000" stroke-width="5.3"/>
<line x1="2075.7" y1="2322.9" x2="2099.3" y2="2322.9" stroke="#000" stroke-width="5.3"/>
<line x1="350.6" y1="2297.6" x2="374.2" y2="2297.6" stroke="#000" stroke-width="5.3"/>
<line x1="2075.7" y1="2297.6" x2="2099.3" y2="2297.6" stroke="#000" stroke-width="5.3"/>
<line x1="350.6" y1="2277.9" x2="374.2" y2="2277.9" stroke="#000" stroke-width="5.3"/>
<line x1="2075.7" y1="2277.9" x2="2099.3" y2="2277.9" stroke="#000" stroke-width="5.3"/>
<line x1="350.6" y1="2261.9" x2="374.2" y2="2261.9" stroke="#000" stroke-width="5.3"/>
<line x1="2075.7" y1="2261.9" x2="2099.3" y2="2261.9" stroke="#000" stroke-width="5.3"/>
<line x1="350.6" y1="2248.3" x2="374.2" y2="2248.3" stroke="#000" stroke-width="5.3"/>
<line x1="2075.7" y1="2248.3" x2="2099.3" y2="2248.3" stroke="#000" stroke-width="5.3"/>
<line x1="350.6" y1="2236.5" x2="374.2" y2="2236.5" stroke="#000" stroke-width="5.3"/>
<line x1="2075.7" y1="2236.5" x2="2099.3" y2="2236.5" stroke="#000" stroke-width="5.3"/>
<line x1="350.6" y1="2226.2" x2="374.2" y2="2226.2" stroke="#000" stroke-width="5.3"/>
<line x1="2075.7" y1="2226.2" x2="2099.3" y2="2226.2" stroke="#000" stroke-width="5.3"/>
<line x1="331.6" y1="2216.9" x2="374.2" y2="2216.9" stroke="#000" stroke-width="5.3"/>
<line x1="2075.7" y1="2216.9" x2="2118.3" y2="2216.9" stroke="#000" stroke-width="5.3"/>
<line x1="350.6" y1="2155.9" x2="374.2" y2="2155.9" stroke="#000" stroke-width="5.3"/>
<line x1="2075.7" y1="2155.9" x2="2099.3" y2="2155.9" stroke="#000" stroke-width="5.3"/>
<line x1="350.6" y1="2120.2" x2="374.2" y2="2120.2" stroke="#000" stroke-width="5.3"/>
<line x1="2075.7" y1="2120.2" x2="2099.3" y2="2120.2" stroke="#000" stroke-width="5.3"/>
<line x1="350.6" y1="2094.8" x2="374.2" y2="2094.8" stroke="#000" stroke-width="5.3"/>
<line x1="2075.7" y1="2094.8" x2="2099.3" y2="2094.8" stroke="#000" stroke-width="5.3"/>
<line x1="350.6" y1="2075.2" x2="374.2" y2="2075.2" stroke="#000" stroke-width="5.3"/>
<line x1="2075.7" y1="2075.2" x2="2099.3" y2="2075.2" stroke="#000" stroke-width="5.3"/>
<line x1="350.6" y1="2059.1" x2="374.2" y2="2059.1" stroke="#000" stroke-width="5.3"/>
<line x1="2075.7" y1="2059.1" x2="2099.3" y2="2059.1" stroke="#000" stroke-width="5.3"/>
<line x1="350.6" y1="2045.6" x2="374.2" y2="2045.6" stroke="#000" stroke-width="5.3"/>
<line x1="2075.7" y1="2045.6" x2="2099.3" y2="2045.6" stroke="#000" stroke-width="5.3"/>
<line x1="350.6" y1="2033.8" x2="374.2" y2="2033.8" stroke="#000" stroke-width="5.3"/>
<line x1="2075.7" y1="2033.8" x2="2099.3" y2="2033.8" stroke="#000" stroke-width="5.3"/>
<line x1="350.6" y1="2023.4" x2="374.2" y2="2023.4" stroke="#000" stroke-width="5.3"/>
<line x1="2075.7" y1="2023.4" x2="2099.3" y2="2023.4" stroke="#000" stroke-width="5.3"/>
<line x1="331.6" y1="2014.2" x2="374.2" y2="2014.2" stroke="#000" stroke-width="5.3"/>
<line x1="2075.7" y1="2014.2" x2="2118.3" y2="2014.2" stroke="#000" stroke-width="5.3"/>
<line x1="350.6" y1="1953.1" x2="374.2" y2="1953.1" stroke="#000" stroke-width="5.3"/>
<line x1="2075.7" y1="1953.1" x2="2099.3" y2="1953.1" stroke="#000" stroke-width="5.3"/>
<line x1="350.6" y1="1917.4" x2="374.2" y2="1917.4" stroke="#000" stroke-width="5.3"/>
<line x1="2075.7" y1="1917.4" x2="2099.3" y2="1917.4" stroke="#000" stroke-width="5.3"/>
<line x1="350.6" y1="1892.1" x2="374.2" y2="1892.1" stroke="#000" stroke-width="5.3"/>
<line x1="2075.7" y1="1892.1" x2="2099.3" y2="1892.1" stroke="#000" stroke-width="5.3"/>
<line x1="350.6" y1="1872.5" x2="374.2" y2="1872.5" stroke="#000" stroke-width="5.3"/>
<line x1="2075.7" y1="1872.5" x2="2099.3" y2="1872.5" stroke="#000" stroke-width="5.3"/>
<line x1="350.6" y1="1856.4" x2="374.2" y2="1856.4" stroke="#000" stroke-width="5.3"/>
<line x1="2075.7" y1="1856.4" x2="2099.3" y2="1856.4" stroke="#000" stroke-width="5.3"/>
<line x1="350.6" y1="1842.8" x2="374.2" y2="1842.8" stroke="#000" stroke-width="5.3"/>
<line x1="2075.7" y1="1842.8" x2="2099.3" y2="1842.8" stroke="#000" stroke-width="5.3"/>
<line x1="350.6" y1="1831.1" x2="374.2" y2="1831.1" stroke="#000" stroke-width="5.3"/>
<line x1="2075.7" y1="1831.1" x2="2099.3" y2="1831.1" stroke="#000" stroke-width="5.3"/>
<line x1="350.6" y1="1820.7" x2="374.2" y2="1820.7" stroke="#000" stroke-width="5.3"/>
<line x1="2075.7" y1="1820.7" x2="2099.3" y2="1820.7" stroke="#000" stroke-width="5.3"/>
<line x1="331.6" y1="1811.4" x2="374.2" y2="1811.4" stroke="#000" stroke-width="5.3"/>
<line x1="2075.7" y1="1811.4" x2="2118.3" y2="1811.4" stroke="#000" stroke-width="5.3"/>
<line x1="350.6" y1="1750.4" x2="374.2" y2="1750.4" stroke="#000" stroke-width="5.3"/>
<line x1="2075.7" y1="1750.4" x2="2099.3" y2="1750.4" stroke="#000" stroke-width="5.3"/>
<line x1="350.6" y1="1714.7" x2="374.2" y2="1714.7" stroke="#000" stroke-width="5.3"/>
<line x1="2075.7" y1="1714.7" x2="2099.3" y2="1714.7" stroke="#000" stroke-width="5.3"/>
<line x1="350.6" y1="1689.4" x2="374.2" y2="1689.4" stroke="#000" stroke-width="5.3"/>
<line x1="2075.7" y1="1689.4" x2="2099.3" y2="1689.4" stroke="#000" stroke-width="5.3"/>
<line x1="350.6" y1="1669.7" x2="374.2" y2="1669.7" stroke="#000" stroke-width="5.3"/>
<line x1="2075.7" y1="1669.7" x2="2099.3" y2="1669.7" stroke="#000" stroke-width="5.3"/>
<line x1="350.6" y1="1653.7" x2="374.2" y2="1653.7" stroke="#000" stroke-width="5.3"/>
<line x1="2075.7" y1="1653.7" x2="2099.3" y2="1653.7" stroke="#000" stroke-width="5.3"/>
<line x1="350.6" y1="1640.1" x2="374.2" y2="1640.1" stroke="#000" stroke-width="5.3"/>
<line x1="2075.7" y1="1640.1" x2="2099.3" y2="1640.1" stroke="#000" stroke-width="5.3"/>
<line x1="350.6" y1="1628.4" x2="374.2" y2="1628.4" stroke="#000" stroke-width="5.3"/>
<line x1="2075.7" y1="1628.4" x2="2099.3" y2="1628.4" stroke="#000" stroke-width="5.3"/>
<line x1="350.6" y1="1618.0" x2="374.2" y2="1618.0" stroke="#000" stroke-width="5.3"/>
<line x1="2075.7" y1="1618.0" x2="2099.3" y2="1618.0" stroke="#000" stroke-width="5.3"/>
<line x1="331.6" y1="1608.7" x2="374.2" y2="1608.7" stroke="#000" stroke-width="5.3"/>
<line x1="2075.7" y1="1608.7" x2="2118.3" y2="1608.7" stroke="#000" stroke-width="5.3"/>
<line x1="350.6" y1="1547.7" x2="374.2" y2="1547.7" stroke="#000" stroke-width="5.3"/>
<line x1="2075.7" y1="1547.7" x2="2099.3" y2="1547.7" stroke="#000" stroke-width="5.3"/>
<line x1="350.6" y1="1512.0" x2="374.2" y2="1512.0" stroke="#000" stroke-width="5.3"/>
<line x1="2075.7" y1="1512.0" x2="2099.3" y2="1512.0" stroke="#000" stroke-width="5.3"/>
<line x1="350.6" y1="1486.7" x2="374.2" y2="1486.7" stroke="#000" stroke-width="5.3"/>
<line x1="2075.7" y1="1486.7" x2="2099.3" y2="1486.7" stroke="#000" stroke-width="5.3"/>
<line x1="350.6" y1="1467.0" x2="374.2" y2="1467.0" stroke="#000" stroke-width="5.3"/>
<line x1="2075.7" y1="1467.0" x2="2099.3" y2="1467.0" stroke="#000" stroke-width="5.3"/>
<line x1="350.6" y1="1451.0" x2="374.2" y2="1451.0" stroke="#000" stroke-width="5.3"/>
<line x1="2075.7" y1="1451.0" x2="2099.3" y2="1451.0" stroke="#000" stroke-width="5.3"/>
<line x1="350.6" y1="1437.4" x2="374.2" y2="1437.4" stroke="#000" stroke-width="5.3"/>
<line x1="2075.7" y1="1437.4" x2="2099.3" y2="1437.4" stroke="#000" stroke-width="5.3"/>
<line x1="350.6" y1="1425.6" x2="374.2" y2="1425.6" stroke="#000" stroke-width="5.3"/>
<line x1="2075.7" y1="1425.6" x2="2099.3" y2="1425.6" stroke="#000" stroke-width="5.3"/>
<line x1="350.6" y1="1415.3" x2="374.2" y2="1415.3" stroke="#000" stroke-width="5.3"/>
<line x1="2075.7" y1="1415.3" x2="2099.3" y2="1415.3" stroke="#000" stroke-width="5.3"/>
<text x="200.5" y="1431.6" font-size="65.5" fill="#111">10<tspan font-size="39" dx="0" dy="-32.5">6</tspan></text>
<text x="200.5" y="1634.3" font-size="65.5" fill="#111">10<tspan font-size="39" dx="0" dy="-32.5">5</tspan></text>
<text x="200.5" y="1837.0" font-size="65.5" fill="#111">10<tspan font-size="39" dx="0" dy="-32.5">4</tspan></text>
<text x="200.5" y="2039.8" font-size="65.5" fill="#111">10<tspan font-size="39" dx="0" dy="-32.5">3</tspan></text>
<text x="200.5" y="2242.5" font-size="65.5" fill="#111">10<tspan font-size="39" dx="0" dy="-32.5">2</tspan></text>
<text x="200.5" y="2445.2" font-size="65.5" fill="#111">10<tspan font-size="39" dx="0" dy="-32.5">1</tspan></text>
<text x="370.6" y="2552.6" font-size="66.5" text-anchor="middle" font-weight="normal" fill="#111">0</text>
<text x="711.9" y="2552.6" font-size="66.5" text-anchor="middle" font-weight="normal" fill="#111">100</text>
<text x="1053.3" y="2552.6" font-size="66.5" text-anchor="middle" font-weight="normal" fill="#111">200</text>
<text x="1394.6" y="2552.6" font-size="66.5" text-anchor="middle" font-weight="normal" fill="#111">300</text>
<text x="1736.0" y="2552.6" font-size="66.5" text-anchor="middle" font-weight="normal" fill="#111">400</text>
<text x="2077.3" y="2552.6" font-size="66.5" text-anchor="middle" font-weight="normal" fill="#111">500</text>
<text x="1224.5" y="2625.2" font-size="64.6" text-anchor="middle" font-weight="normal" fill="#111">Time (sec)</text>
<text x="0.0" y="0.0" font-size="64" text-anchor="middle" font-weight="normal" fill="#111" transform="translate(166.5 1913.3) rotate(-90)">Viscosity (Pa.s)</text>
<text x="1982.5" y="1513.0" font-size="76" text-anchor="middle" font-weight="bold" fill="#0a0a0a">(b)</text>
</g>
<g id="panel-b-data">
<defs><marker id="bsq" markerUnits="userSpaceOnUse" markerWidth="26" markerHeight="26" refX="0" refY="0" viewBox="-13 -13 26 26" overflow="visible"><rect x="-9" y="-9" width="18" height="18" fill="#a800d4" stroke="#a800d4" stroke-width="2.2"/></marker><marker id="bsqo" markerUnits="userSpaceOnUse" markerWidth="26" markerHeight="26" refX="0" refY="0" viewBox="-13 -13 26 26" overflow="visible"><rect x="-9" y="-9" width="18" height="18" fill="#e58cf5" fill-opacity="0.55" stroke="#8a3aa8" stroke-width="2"/></marker><marker id="bsqp" markerUnits="userSpaceOnUse" markerWidth="26" markerHeight="26" refX="0" refY="0" viewBox="-13 -13 26 26" overflow="visible"><rect x="-9" y="-9" width="18" height="18" fill="#e6b8f0" stroke="#b070c8" stroke-width="2"/></marker><marker id="bdi" markerUnits="userSpaceOnUse" markerWidth="30" markerHeight="30" refX="0" refY="0" viewBox="-15 -15 30 30" overflow="visible"><path d="M0 -11L11 0L0 11L-11 0Z" fill="#ff0000"/></marker><marker id="btr" markerUnits="userSpaceOnUse" markerWidth="28" markerHeight="28" refX="0" refY="0" viewBox="-14 -14 28 28" overflow="visible"><path d="M-10 -8.0L10 -8.0L0 10.0Z" fill="#0000ff"/></marker><marker id="bx" markerUnits="userSpaceOnUse" markerWidth="19.0" markerHeight="19.0" refX="0" refY="0" viewBox="-9.5 -9.5 19.0 19.0" overflow="visible"><path d="M-5.5 -5.5L5.5 5.5M5.5 -5.5L-5.5 5.5" stroke="#ff6a00" stroke-width="3" fill="none"/></marker><marker id="bci" markerUnits="userSpaceOnUse" markerWidth="29.0" markerHeight="29.0" refX="0" refY="0" viewBox="-14.5 -14.5 29.0 29.0" overflow="visible"><circle r="10.5" fill="#000000"/></marker><marker id="bcs" markerUnits="userSpaceOnUse" markerWidth="29.0" markerHeight="29.0" refX="0" refY="0" viewBox="-14.5 -14.5 29.0 29.0" overflow="visible"><circle r="7.1" fill="#000000"/></marker></defs>
<polygon points="383.8,1943.7 387.3,1914.4 390.8,1908.1 394.3,1901.8 397.8,1896.0 401.3,1892.5 404.8,1889.0 408.3,1885.5 411.8,1882.4 415.3,1879.5 418.8,1876.6 422.3,1873.6 425.8,1870.8 429.3,1868.1 432.8,1865.4 436.3,1862.6 439.8,1859.9 443.3,1857.2 446.8,1854.5 450.3,1853.4 453.8,1852.4 457.3,1851.3 460.8,1850.2 464.3,1849.1 467.8,1848.0 471.3,1847.0 474.8,1845.9 478.3,1844.8 481.8,1842.9 485.3,1840.9 488.8,1838.9 492.3,1836.8 495.8,1834.8 499.3,1832.7 502.8,1830.7 506.3,1828.6 509.8,1826.7 513.3,1825.0 516.8,1823.2 520.3,1821.5 523.8,1819.7 527.3,1818.0 530.8,1816.2 534.3,1814.6 537.8,1813.4 541.3,1812.3 544.8,1811.1 548.3,1809.9 551.8,1808.8 555.3,1807.6 558.8,1806.4 562.3,1805.3 565.8,1804.1 569.3,1802.9 572.8,1802.1 576.3,1801.4 579.8,1800.7 583.3,1800.0 586.8,1799.3 590.3,1798.6 593.8,1797.9 597.3,1797.2 600.8,1796.5 604.3,1795.8 607.8,1795.0 611.3,1793.3 614.8,1791.5 618.3,1789.8 621.8,1788.0 625.3,1786.3 628.8,1784.5 632.3,1782.8 635.8,1782.3 639.3,1781.8 642.8,1781.3 646.3,1780.9 649.8,1780.4 653.3,1779.9 656.8,1779.5 660.3,1779.0 663.8,1778.5 667.3,1778.1 670.8,1777.4 674.3,1776.2 677.8,1775.0 681.3,1773.9 684.8,1772.7 688.3,1771.5 691.8,1770.4 695.3,1769.2 698.8,1768.0 702.3,1766.9 705.8,1765.7 709.3,1764.5 712.8,1763.4 716.3,1762.2 719.8,1761.0 723.3,1759.9 726.8,1758.7 730.3,1757.5 733.8,1756.4 737.3,1755.3 740.8,1754.8 744.3,1754.2 747.8,1753.6 751.3,1753.0 754.8,1752.5 758.3,1751.9 761.8,1751.3 765.3,1750.7 768.8,1750.2 772.3,1749.6 775.8,1749.0 779.3,1749.6 782.8,1749.7 786.3,1748.6 789.8,1747.6 793.3,1746.5 796.8,1745.5 800.3,1744.4 803.8,1743.4 807.3,1742.6 810.8,1741.9 814.3,1741.2 817.8,1740.5 821.3,1739.8 824.8,1739.1 828.3,1738.4 831.8,1737.9 835.3,1737.5 838.8,1737.1 842.3,1736.7 845.8,1736.3 849.3,1736.0 852.8,1735.6 856.3,1735.2 859.8,1734.8 863.3,1734.4 866.8,1734.0 870.3,1733.6 873.8,1733.2 877.3,1732.8 880.8,1732.5 884.3,1732.1 887.8,1731.7 891.3,1731.3 894.8,1730.9 898.3,1730.5 901.8,1730.1 905.3,1729.7 908.8,1729.3 912.3,1729.0 915.8,1728.6 919.3,1728.2 922.8,1727.7 926.3,1727.2 929.8,1726.7 933.3,1726.2 936.8,1725.7 940.3,1725.2 943.8,1724.7 947.3,1724.2 950.8,1723.7 954.3,1723.1 957.8,1722.2 961.3,1721.3 964.8,1720.4 968.3,1719.6 971.8,1718.7 975.3,1717.8 978.8,1716.9 982.3,1716.1 985.8,1715.2 989.3,1714.3 992.8,1713.4 996.3,1714.5 999.8,1715.7 1003.3,1716.8 1006.8,1718.0 1010.3,1717.7 1013.8,1716.9 1017.3,1716.0 1020.8,1715.1 1024.3,1714.2 1027.8,1713.4 1031.3,1712.9 1034.8,1712.5 1038.3,1712.1 1041.8,1711.7 1045.3,1711.3 1048.8,1710.8 1052.3,1710.4 1055.8,1710.0 1059.3,1709.6 1062.8,1709.2 1066.3,1708.7 1069.8,1708.3 1073.3,1707.9 1076.8,1707.5 1080.3,1707.1 1083.8,1706.6 1087.3,1706.2 1090.8,1706.0 1094.3,1706.0 1097.8,1706.0 1101.3,1706.0 1104.8,1706.0 1108.3,1706.0 1111.8,1706.0 1115.3,1706.0 1118.8,1706.0 1122.3,1706.0 1125.8,1706.0 1129.3,1705.2 1132.8,1704.1 1136.3,1703.0 1139.8,1701.9 1143.3,1700.8 1146.8,1699.8 1150.3,1699.9 1153.8,1700.1 1157.3,1700.2 1160.8,1700.4 1164.3,1700.5 1167.8,1700.7 1171.3,1700.8 1174.8,1700.9 1178.3,1700.6 1181.8,1699.9 1185.3,1699.2 1188.8,1698.5 1192.3,1697.8 1195.8,1697.1 1199.3,1700.1 1202.8,1702.2 1206.3,1700.6 1209.8,1699.0 1213.3,1697.4 1216.8,1695.7 1220.3,1694.1 1223.8,1692.5 1227.3,1690.9 1230.8,1689.3 1234.3,1688.4 1237.8,1688.2 1241.3,1687.9 1244.8,1687.6 1248.3,1687.3 1251.8,1687.0 1255.3,1686.7 1258.8,1686.4 1262.3,1686.1 1265.8,1685.6 1269.3,1685.2 1272.8,1684.7 1276.3,1684.2 1279.8,1683.8 1283.3,1683.3 1286.8,1682.8 1290.3,1682.4 1293.8,1681.9 1297.3,1681.4 1300.8,1680.9 1304.3,1680.4 1307.8,1679.9 1311.3,1679.4 1314.8,1678.8 1318.3,1678.3 1321.8,1677.8 1325.3,1677.3 1328.8,1676.7 1332.3,1676.2 1335.8,1675.7 1339.3,1675.2 1342.8,1674.6 1346.3,1674.1 1349.8,1673.7 1353.3,1673.5 1356.8,1673.4 1360.3,1673.2 1363.8,1673.0 1367.3,1672.8 1370.8,1672.7 1374.3,1672.5 1377.8,1672.3 1381.3,1672.1 1384.8,1672.0 1388.3,1671.8 1391.8,1671.6 1395.3,1671.4 1398.8,1671.4 1402.3,1671.7 1405.8,1672.1 1409.3,1672.4 1412.8,1672.8 1416.3,1673.1 1419.8,1673.5 1423.3,1673.8 1426.8,1674.2 1430.3,1674.5 1433.8,1674.9 1437.3,1675.2 1440.8,1675.6 1444.3,1675.9 1447.8,1676.2 1451.3,1676.2 1454.8,1676.2 1458.3,1676.2 1461.8,1676.2 1465.3,1676.2 1468.8,1676.2 1472.3,1676.2 1475.8,1676.2 1479.3,1676.2 1482.8,1676.2 1486.3,1676.2 1489.8,1676.2 1493.3,1676.2 1496.8,1676.2 1500.3,1676.2 1503.8,1676.2 1507.3,1676.2 1510.8,1676.2 1514.3,1676.2 1517.8,1676.2 1521.3,1676.2 1524.8,1676.0 1528.3,1675.6 1531.8,1675.3 1535.3,1674.9 1538.8,1674.6 1542.3,1674.2 1545.8,1673.9 1549.3,1673.5 1552.8,1673.2 1556.3,1672.8 1559.8,1672.5 1563.3,1672.1 1566.8,1671.8 1570.3,1671.4 1573.8,1671.8 1577.3,1672.5 1580.8,1673.3 1584.3,1674.0 1587.8,1674.8 1591.3,1675.5 1594.8,1676.3 1594.8,1697.8 1591.3,1701.3 1587.8,1704.8 1584.3,1702.7 1580.8,1696.6 1577.3,1690.4 1573.8,1689.1 1570.3,1689.3 1566.8,1689.5 1563.3,1689.7 1559.8,1689.9 1556.3,1690.0 1552.8,1690.2 1549.3,1690.4 1545.8,1690.5 1542.3,1690.6 1538.8,1690.8 1535.3,1690.9 1531.8,1691.0 1528.3,1691.2 1524.8,1691.3 1521.3,1691.3 1517.8,1691.0 1514.3,1690.6 1510.8,1690.3 1507.3,1689.9 1503.8,1689.6 1500.3,1689.2 1496.8,1689.1 1493.3,1690.6 1489.8,1692.1 1486.3,1693.6 1482.8,1695.1 1479.3,1696.4 1475.8,1696.8 1472.3,1697.1 1468.8,1697.5 1465.3,1697.8 1461.8,1698.2 1458.3,1698.5 1454.8,1698.8 1451.3,1698.5 1447.8,1698.3 1444.3,1698.0 1440.8,1697.7 1437.3,1697.5 1433.8,1697.2 1430.3,1696.9 1426.8,1696.7 1423.3,1696.4 1419.8,1697.0 1416.3,1697.8 1412.8,1698.6 1409.3,1699.4 1405.8,1700.2 1402.3,1700.9 1398.8,1701.0 1395.3,1700.3 1391.8,1699.7 1388.3,1699.1 1384.8,1698.4 1381.3,1697.8 1377.8,1697.2 1374.3,1696.5 1370.8,1696.7 1367.3,1697.2 1363.8,1697.7 1360.3,1698.2 1356.8,1698.7 1353.3,1699.2 1349.8,1699.7 1346.3,1700.2 1342.8,1700.7 1339.3,1701.2 1335.8,1701.6 1332.3,1701.8 1328.8,1702.1 1325.3,1702.4 1321.8,1702.7 1318.3,1703.0 1314.8,1703.3 1311.3,1703.6 1307.8,1703.8 1304.3,1703.8 1300.8,1703.8 1297.3,1703.8 1293.8,1703.8 1290.3,1703.8 1286.8,1703.8 1283.3,1703.8 1279.8,1703.8 1276.3,1703.8 1272.8,1704.1 1269.3,1704.8 1265.8,1705.5 1262.3,1706.2 1258.8,1706.9 1255.3,1707.6 1251.8,1708.3 1248.3,1709.0 1244.8,1709.7 1241.3,1710.4 1237.8,1711.1 1234.3,1711.8 1230.8,1712.5 1227.3,1713.2 1223.8,1713.9 1220.3,1714.6 1216.8,1715.3 1213.3,1716.0 1209.8,1716.7 1206.3,1717.4 1202.8,1718.1 1199.3,1717.7 1195.8,1716.9 1192.3,1717.2 1188.8,1717.5 1185.3,1717.8 1181.8,1718.2 1178.3,1718.5 1174.8,1719.2 1171.3,1720.6 1167.8,1722.0 1164.3,1723.4 1160.8,1724.8 1157.3,1726.2 1153.8,1727.6 1150.3,1728.4 1146.8,1728.1 1143.3,1727.7 1139.8,1727.4 1136.3,1727.0 1132.8,1726.7 1129.3,1726.3 1125.8,1726.0 1122.3,1725.6 1118.8,1725.3 1115.3,1724.9 1111.8,1724.6 1108.3,1724.2 1104.8,1723.9 1101.3,1723.8 1097.8,1724.6 1094.3,1725.4 1090.8,1726.2 1087.3,1727.0 1083.8,1727.9 1080.3,1728.7 1076.8,1729.5 1073.3,1730.3 1069.8,1731.2 1066.3,1732.0 1062.8,1732.8 1059.3,1733.5 1055.8,1733.2 1052.3,1732.9 1048.8,1732.7 1045.3,1732.4 1041.8,1732.1 1038.3,1731.8 1034.8,1731.6 1031.3,1731.3 1027.8,1731.0 1024.3,1732.0 1020.8,1732.9 1017.3,1733.9 1013.8,1734.9 1010.3,1735.8 1006.8,1736.8 1003.3,1737.8 999.8,1738.8 996.3,1739.7 992.8,1740.7 989.3,1741.7 985.8,1742.7 982.3,1743.5 978.8,1743.7 975.3,1744.0 971.8,1744.3 968.3,1744.5 964.8,1744.8 961.3,1745.1 957.8,1745.4 954.3,1745.6 950.8,1745.9 947.3,1746.2 943.8,1746.4 940.3,1746.7 936.8,1747.0 933.3,1747.2 929.8,1747.5 926.3,1747.8 922.8,1748.0 919.3,1748.3 915.8,1748.5 912.3,1748.8 908.8,1749.0 905.3,1749.2 901.8,1749.4 898.3,1749.6 894.8,1749.9 891.3,1750.1 887.8,1750.3 884.3,1750.5 880.8,1750.7 877.3,1751.1 873.8,1751.6 870.3,1752.0 866.8,1752.5 863.3,1753.0 859.8,1753.5 856.3,1753.9 852.8,1754.4 849.3,1754.9 845.8,1755.4 842.3,1755.9 838.8,1756.3 835.3,1756.8 831.8,1757.3 828.3,1757.8 824.8,1758.2 821.3,1760.1 817.8,1762.0 814.3,1764.0 810.8,1765.9 807.3,1767.9 803.8,1769.8 800.3,1770.4 796.8,1770.0 793.3,1769.6 789.8,1769.3 786.3,1768.9 782.8,1768.5 779.3,1767.2 775.8,1766.5 772.3,1766.9 768.8,1767.2 765.3,1767.6 761.8,1768.0 758.3,1768.3 754.8,1768.7 751.3,1769.1 747.8,1769.4 744.3,1769.8 740.8,1770.2 737.3,1770.6 733.8,1771.7 730.3,1773.2 726.8,1774.7 723.3,1776.1 719.8,1777.6 716.3,1779.0 712.8,1780.5 709.3,1782.0 705.8,1783.4 702.3,1784.7 698.8,1786.1 695.3,1787.4 691.8,1788.8 688.3,1790.1 684.8,1791.5 681.3,1792.8 677.8,1794.2 674.3,1795.4 670.8,1795.6 667.3,1795.8 663.8,1796.0 660.3,1796.2 656.8,1796.5 653.3,1796.7 649.8,1796.9 646.3,1797.1 642.8,1797.3 639.3,1797.5 635.8,1797.7 632.3,1798.0 628.8,1799.7 625.3,1801.5 621.8,1803.2 618.3,1805.0 614.8,1806.7 611.3,1808.5 607.8,1810.2 604.3,1811.2 600.8,1812.1 597.3,1813.0 593.8,1814.0 590.3,1814.9 586.8,1815.8 583.3,1816.8 579.8,1817.7 576.3,1818.6 572.8,1819.6 569.3,1820.8 565.8,1822.5 562.3,1824.3 558.8,1826.0 555.3,1827.8 551.8,1829.5 548.3,1831.3 544.8,1832.9 541.3,1834.0 537.8,1835.2 534.3,1836.4 530.8,1837.5 527.3,1838.7 523.8,1839.9 520.3,1841.0 516.8,1842.2 513.3,1843.4 509.8,1844.5 506.3,1846.5 502.8,1848.8 499.3,1851.1 495.8,1853.5 492.3,1855.8 488.8,1858.1 485.3,1860.5 481.8,1862.8 478.3,1865.0 474.8,1866.3 471.3,1867.7 467.8,1869.0 464.3,1870.4 460.8,1871.7 457.3,1873.1 453.8,1874.4 450.3,1875.7 446.8,1877.1 443.3,1879.9 439.8,1882.7 436.3,1885.5 432.8,1888.3 429.3,1891.1 425.8,1893.9 422.3,1896.7 418.8,1900.5 415.3,1904.4 411.8,1908.3 408.3,1912.3 404.8,1916.2 401.3,1921.1 397.8,1929.0 394.3,1936.8 390.8,1945.8 387.3,1956.3 383.8,1951.4" fill="#ff0000"/>
<polyline points="383.8,1947.1 386.2,1945.6 388.6,1920.1 391.0,1939.1 393.4,1926.6 395.8,1927.5 398.2,1924.5 400.6,1918.6 403.0,1908.7 405.4,1912.0 407.8,1892.2 410.2,1906.7 412.6,1887.8 415.0,1889.7 417.4,1878.4 419.8,1886.3 422.2,1886.1 424.6,1879.5 427.0,1880.7 429.4,1886.6 431.8,1884.6 434.2,1882.4 436.6,1865.6 439.0,1873.9 441.4,1865.2 443.8,1871.8 446.2,1861.1 448.6,1861.8 451.0,1858.6 453.4,1860.1 455.8,1856.3 458.2,1860.9 460.6,1857.9 463.0,1862.6 465.4,1856.6 467.8,1868.9 470.2,1855.1 472.6,1863.8 475.0,1850.6 477.4,1861.1 479.8,1849.2 482.2,1850.1 484.6,1847.7 487.0,1855.9 489.4,1842.5 491.8,1844.9 494.2,1840.1 496.6,1845.8 499.0,1838.1 501.4,1844.6 503.8,1835.5 506.2,1840.7 508.6,1831.9 511.0,1831.9 513.4,1837.8 515.8,1838.1 518.2,1829.6 520.6,1834.8 523.0,1828.9 525.4,1834.3 527.8,1834.9 530.2,1834.1 532.6,1821.4 535.0,1832.2 537.4,1815.8 539.8,1818.9 542.2,1816.2 544.6,1829.2 547.0,1816.4 549.4,1824.3 551.8,1814.1 554.2,1821.2 556.6,1814.9 559.0,1819.9 561.4,1809.5 563.8,1816.4 566.2,1809.8 568.6,1817.1 571.0,1807.3 573.4,1806.1 575.8,1807.0 578.2,1814.1 580.6,1806.1 583.0,1811.9 585.4,1804.0 587.8,1810.8 590.2,1803.1 592.6,1810.7 595.0,1807.9 597.4,1808.4 599.8,1801.8 602.2,1805.9 604.6,1801.8 607.0,1806.1 609.4,1798.5 611.8,1806.2 614.2,1797.5 616.6,1801.3 619.0,1793.2 621.4,1798.7 623.8,1791.4 626.2,1795.9 628.6,1789.4 631.0,1794.4 633.4,1788.2 635.8,1794.0 638.2,1785.6 640.6,1786.0 643.0,1787.3 645.4,1792.6 647.8,1787.0 650.2,1793.0 652.6,1785.3 655.0,1791.7 657.4,1782.3 659.8,1792.2 662.2,1784.0 664.6,1790.6 667.0,1781.5 669.4,1785.7 671.8,1783.6 674.2,1789.2 676.6,1779.2 679.0,1789.4 681.4,1787.4 683.8,1781.2 686.2,1777.7 688.6,1783.6 691.0,1774.1 693.4,1778.9 695.8,1773.9 698.2,1780.9 700.6,1770.9 703.0,1777.5 705.4,1771.0 707.8,1777.7 710.2,1770.4 712.6,1777.2 715.0,1766.5 717.4,1775.0 719.8,1766.1 722.2,1770.9 724.6,1764.0 727.0,1770.9 729.4,1763.1 731.8,1767.7 734.2,1762.4 736.6,1761.5 739.0,1764.8 741.4,1758.7 743.8,1760.5 746.2,1765.9 748.6,1757.2 751.0,1757.9 753.4,1756.8 755.8,1765.1 758.2,1755.8 760.6,1762.2 763.0,1758.8 765.4,1762.2 767.8,1752.3 770.2,1756.0 772.6,1750.2 775.0,1762.7 777.4,1753.6 779.8,1756.5 782.2,1762.4 784.6,1752.5 787.0,1752.8 789.4,1762.9 791.8,1750.9 794.2,1763.9 796.6,1744.6 799.0,1765.0 801.4,1749.9 803.8,1755.9 806.2,1745.5 808.6,1762.6 811.0,1749.5 813.4,1760.4 815.8,1745.2 818.2,1758.2 820.6,1743.6 823.0,1749.3 825.4,1747.9 827.8,1759.3 830.2,1744.8 832.6,1752.2 835.0,1740.9 837.4,1753.1 839.8,1742.8 842.2,1750.1 844.6,1742.3 847.0,1750.1 849.4,1741.4 851.8,1750.0 854.2,1740.4 856.6,1749.3 859.0,1742.0 861.4,1756.5 863.8,1739.6 866.2,1747.5 868.6,1737.1 871.0,1745.1 873.4,1747.2 875.8,1750.7 878.2,1736.6 880.6,1746.7 883.0,1736.6 885.4,1741.1 887.8,1736.8 890.2,1741.7 892.6,1736.2 895.0,1745.0 897.4,1740.0 899.8,1747.5 902.2,1728.8 904.6,1742.1 907.0,1732.8 909.4,1743.7 911.8,1740.1 914.2,1742.5 916.6,1734.7 919.0,1744.3 921.4,1734.2 923.8,1744.8 926.2,1731.0 928.6,1740.0 931.0,1730.8 933.4,1747.1 935.8,1731.1 938.2,1741.1 940.6,1729.7 943.0,1732.4 945.4,1729.9 947.8,1738.9 950.2,1736.1 952.6,1741.7 955.0,1729.1 957.4,1737.5 959.8,1728.3 962.2,1739.2 964.6,1728.6 967.0,1740.1 969.4,1734.7 971.8,1740.5 974.2,1732.5 976.6,1739.2 979.0,1731.5 981.4,1736.9 983.8,1719.6 986.2,1720.5 988.6,1722.1 991.0,1734.6 993.4,1717.7 995.8,1728.2 998.2,1720.2 1000.6,1733.0 1003.0,1720.9 1005.4,1732.6 1007.8,1727.6 1010.2,1736.4 1012.6,1723.9 1015.0,1731.2 1017.4,1719.2 1019.8,1728.7 1022.2,1718.1 1024.6,1728.6 1027.0,1719.6 1029.4,1724.7 1031.8,1720.0 1034.2,1726.7 1036.6,1722.8 1039.0,1723.4 1041.4,1715.7 1043.8,1720.6 1046.2,1718.1 1048.6,1723.3 1051.0,1716.4 1053.4,1728.4 1055.8,1715.5 1058.2,1724.5 1060.6,1722.5 1063.0,1726.7 1065.4,1714.4 1067.8,1725.7 1070.2,1720.6 1072.6,1716.7 1075.0,1718.0 1077.4,1720.8 1079.8,1710.8 1082.2,1721.4 1084.6,1710.1 1087.0,1710.5 1089.4,1709.6 1091.8,1714.1 1094.2,1719.8 1096.6,1721.2 1099.0,1711.3 1101.4,1711.9 1103.8,1703.3 1106.2,1720.4 1108.6,1710.5 1111.0,1710.4 1113.4,1715.7 1115.8,1720.1 1118.2,1711.9 1120.6,1715.4 1123.0,1710.6 1125.4,1721.0 1127.8,1712.8 1130.2,1721.4 1132.6,1710.0 1135.0,1720.0 1137.4,1707.1 1139.8,1723.2 1142.2,1705.6 1144.6,1706.6 1147.0,1716.9 1149.4,1722.7 1151.8,1705.3 1154.2,1706.6 1156.6,1702.2 1159.0,1704.9 1161.4,1704.8 1163.8,1719.0 1166.2,1706.5 1168.6,1715.2 1171.0,1705.2 1173.4,1720.5 1175.8,1709.5 1178.2,1713.8 1180.6,1706.7 1183.0,1712.6 1185.4,1703.5 1187.8,1712.6 1190.2,1703.6 1192.6,1713.7 1195.0,1703.0 1197.4,1709.4 1199.8,1706.7 1202.2,1708.4 1204.6,1706.7 1207.0,1713.0 1209.4,1711.8 1211.8,1708.7 1214.2,1702.4 1216.6,1699.3 1219.0,1698.1 1221.4,1710.0 1223.8,1707.4 1226.2,1700.7 1228.6,1694.1 1231.0,1707.3 1233.4,1692.9 1235.8,1703.5 1238.2,1691.8 1240.6,1707.3 1243.0,1701.8 1245.4,1705.5 1247.8,1701.5 1250.2,1698.9 1252.6,1692.4 1255.0,1691.0 1257.4,1690.7 1259.8,1701.5 1262.2,1693.2 1264.6,1700.5 1267.0,1689.1 1269.4,1700.1 1271.8,1693.5 1274.2,1698.6 1276.6,1686.7 1279.0,1699.1 1281.4,1691.0 1283.8,1689.4 1286.2,1687.5 1288.6,1698.8 1291.0,1686.4 1293.4,1700.2 1295.8,1691.2 1298.2,1700.4 1300.6,1686.7 1303.0,1697.6 1305.4,1686.4 1307.8,1697.0 1310.2,1683.8 1312.6,1698.8 1315.0,1682.8 1317.4,1698.7 1319.8,1698.9 1322.2,1699.3 1324.6,1680.9 1327.0,1696.2 1329.4,1677.1 1331.8,1703.2 1334.2,1682.6 1336.6,1698.0 1339.0,1679.2 1341.4,1680.9 1343.8,1679.6 1346.2,1691.8 1348.6,1675.2 1351.0,1694.7 1353.4,1680.8 1355.8,1694.4 1358.2,1681.2 1360.6,1691.0 1363.0,1680.2 1365.4,1691.0 1367.8,1676.6 1370.2,1690.1 1372.6,1678.8 1375.0,1692.3 1377.4,1691.1 1379.8,1689.7 1382.2,1675.4 1384.6,1692.8 1387.0,1680.4 1389.4,1695.0 1391.8,1694.7 1394.2,1691.3 1396.6,1675.3 1399.0,1695.5 1401.4,1676.2 1403.8,1695.3 1406.2,1677.6 1408.6,1692.0 1411.0,1681.1 1413.4,1684.7 1415.8,1679.8 1418.2,1681.6 1420.6,1677.6 1423.0,1689.5 1425.4,1679.7 1427.8,1691.2 1430.2,1678.3 1432.6,1689.0 1435.0,1685.9 1437.4,1692.8 1439.8,1679.6 1442.2,1690.3 1444.6,1680.4 1447.0,1681.9 1449.4,1690.3 1451.8,1694.3 1454.2,1679.1 1456.6,1691.6 1459.0,1680.5 1461.4,1695.9 1463.8,1679.8 1466.2,1693.3 1468.6,1680.3 1471.0,1692.2 1473.4,1693.8 1475.8,1691.1 1478.2,1681.1 1480.6,1691.8 1483.0,1686.7 1485.4,1687.3 1487.8,1681.6 1490.2,1686.3 1492.6,1680.0 1495.0,1685.5 1497.4,1681.1 1499.8,1681.5 1502.2,1684.4 1504.6,1685.6 1507.0,1685.3 1509.4,1682.3 1511.8,1679.9 1514.2,1691.9 1516.6,1680.3 1519.0,1680.0 1521.4,1680.5 1523.8,1686.3 1526.2,1680.1 1528.6,1686.4 1531.0,1679.4 1533.4,1684.8 1535.8,1678.9 1538.2,1686.2 1540.6,1679.8 1543.0,1684.9 1545.4,1677.4 1547.8,1685.6 1550.2,1678.0 1552.6,1677.6 1555.0,1681.6 1557.4,1683.1 1559.8,1677.3 1562.2,1684.3 1564.6,1678.5 1567.0,1684.6 1569.4,1671.5 1571.8,1684.0 1574.2,1676.5 1576.6,1684.7 1579.0,1681.9 1581.4,1694.0 1583.8,1681.3 1586.2,1678.0 1588.6,1683.1 1591.0,1684.4 1593.4,1684.5 1595.8,1692.4" fill="none" stroke="#ff0000" stroke-width="3" stroke-linejoin="round" stroke-linecap="round" marker-start="url(#bdi)" marker-mid="url(#bdi)" marker-end="url(#bdi)"/>
<polyline points="382.3,2062.2 377.9,2063.5 378.9,2056.1 381.5,2054.2 382.9,2050.7 383.5,2048.1 382.0,2048.2 382.7,2045.1 383.0,2037.7 384.4,2037.1 382.1,2031.8 385.2,2030.4 386.2,2028.0 386.8,2023.7 386.0,2020.6 384.5,2019.0 385.4,2014.7 389.3,2010.8 385.9,2008.3 389.2,2001.8 386.7,2000.2 387.5,1998.8 390.7,1993.4 391.0,1990.8 394.4,1985.7 392.5,1983.7 393.0,1980.5 396.2,1976.7 398.9,1974.1 397.9,1973.5 401.3,1967.7 404.0,1967.6 409.3,1963.1 409.0,1958.5 414.0,1956.4 415.2,1955.2 417.1,1953.3 419.5,1949.7 424.2,1951.5 426.7,1946.2 429.0,1943.1 429.6,1944.6 434.1,1940.5 435.7,1938.3 436.1,1936.4 440.9,1935.2 440.7,1933.1 443.9,1929.3 447.0,1929.6 448.0,1926.0" fill="none" stroke="#0000ff" stroke-width="8" stroke-linejoin="round" stroke-linecap="round" marker-start="url(#btr)" marker-mid="url(#btr)" marker-end="url(#btr)"/>
<polygon points="446.7,1923.9 450.2,1922.1 453.7,1920.4 457.2,1918.6 460.7,1916.9 464.2,1915.1 467.7,1913.4 471.2,1911.6 474.7,1909.0 478.2,1906.3 481.7,1903.5 485.2,1900.8 488.7,1898.1 492.2,1895.4 495.7,1893.7 499.2,1892.8 502.7,1891.9 506.2,1891.1 509.7,1890.2 513.2,1889.3 516.7,1888.4 520.2,1887.6 523.7,1886.7 527.2,1885.8 530.7,1884.9 534.2,1883.9 537.7,1882.5 541.2,1881.1 544.7,1879.7 548.2,1878.3 551.7,1876.9 555.2,1875.5 558.7,1873.7 562.2,1869.5 565.7,1865.3 569.2,1861.1 572.7,1859.5 576.2,1859.5 579.7,1859.5 583.2,1859.5 586.7,1859.5 590.2,1859.5 593.7,1859.5 597.2,1859.5 600.7,1859.5 604.2,1859.5 607.7,1859.6 611.2,1866.8 614.7,1866.3 618.2,1865.8 621.7,1865.3 625.2,1864.8 628.7,1864.3 632.2,1863.8 635.7,1863.3 639.2,1862.8 642.7,1862.3 646.2,1861.3 649.7,1859.7 653.2,1858.2 656.7,1856.6 660.2,1855.0 663.7,1853.4 667.2,1851.8 670.7,1850.2 674.2,1849.6 677.7,1849.6 681.2,1849.6 684.7,1849.6 688.2,1849.9 691.7,1850.8 695.2,1851.7 698.7,1852.5 702.2,1853.4 705.7,1854.3 709.2,1854.8 712.7,1855.1 716.2,1855.5 719.7,1855.8 723.2,1856.2 726.7,1856.5 730.2,1856.9 733.7,1856.8 737.2,1856.4 740.7,1856.1 744.2,1855.7 747.7,1855.4 751.2,1855.0 754.7,1854.7 758.2,1854.9 761.7,1855.4 765.2,1856.0 768.7,1856.6 772.2,1857.2 775.7,1857.8 779.2,1857.7 782.7,1856.7 786.2,1856.4 789.7,1856.0 793.2,1855.7 796.7,1855.3 800.2,1855.0 803.7,1854.6 807.2,1854.2 810.7,1853.7 814.2,1853.1 817.7,1852.6 821.2,1852.1 824.7,1851.6 828.2,1851.0 831.7,1850.5 835.2,1850.0 838.7,1849.5 842.2,1848.9 845.7,1848.4 849.2,1847.9 852.7,1847.4 856.2,1847.6 859.7,1848.6 863.2,1849.6 866.7,1850.6 870.2,1851.6 873.7,1852.0 877.2,1851.9 880.7,1851.7 884.2,1851.6 887.7,1851.4 891.2,1851.3 894.7,1851.2 898.2,1851.0 901.7,1850.9 905.2,1850.9 908.7,1851.0 912.2,1851.1 915.7,1851.2 919.2,1851.3 922.7,1851.5 926.2,1851.6 929.7,1851.7 933.2,1851.8 936.7,1851.9 940.2,1852.0 943.7,1853.7 947.2,1855.8 950.7,1857.9 954.2,1859.2 957.7,1857.9 961.2,1856.6 964.7,1855.2 968.2,1853.9 971.7,1852.6 975.2,1852.2 978.7,1852.3 982.2,1852.5 985.7,1852.6 989.2,1852.8 992.7,1853.0 996.2,1853.1 999.7,1853.3 1003.2,1853.4 1006.7,1853.6 1010.2,1853.7 1013.7,1853.9 1017.2,1854.1 1020.7,1854.2 1024.2,1854.4 1027.7,1854.6 1031.2,1863.4 1034.7,1866.9 1038.2,1866.9 1041.7,1866.9 1045.2,1866.9 1048.7,1866.9 1052.2,1866.9 1055.7,1866.9 1059.2,1866.9 1062.7,1869.8 1066.2,1873.3 1069.7,1874.2 1073.2,1873.9 1076.7,1873.7 1080.2,1873.4 1083.7,1873.2 1087.2,1872.9 1090.7,1872.7 1094.2,1872.4 1097.7,1872.2 1101.2,1871.9 1104.7,1872.9 1108.2,1874.2 1111.7,1875.5 1115.2,1876.8 1118.7,1878.2 1122.2,1879.3 1125.7,1879.0 1129.2,1878.7 1132.7,1878.4 1136.2,1878.1 1139.7,1877.8 1143.2,1877.5 1146.7,1877.2 1150.2,1876.9 1153.7,1877.2 1157.2,1877.8 1160.7,1878.4 1164.2,1878.9 1167.7,1879.5 1171.2,1880.1 1174.7,1880.7 1178.2,1881.3 1181.7,1881.5 1185.2,1879.8 1188.7,1878.0 1192.2,1876.3 1195.7,1874.5 1199.2,1873.1 1202.7,1873.1 1206.2,1873.1 1209.7,1873.1 1213.2,1873.1 1216.7,1873.6 1220.2,1874.6 1223.7,1875.6 1227.2,1876.5 1230.7,1877.5 1234.2,1878.5 1237.7,1879.5 1241.2,1880.8 1244.7,1882.1 1248.2,1883.4 1251.7,1884.8 1255.2,1886.1 1258.7,1889.0 1262.2,1893.7 1265.7,1896.8 1269.2,1897.1 1272.7,1897.4 1276.2,1897.7 1279.7,1898.0 1283.2,1898.3 1286.7,1898.7 1290.2,1899.0 1293.7,1905.3 1297.2,1906.9 1300.7,1907.3 1304.2,1907.7 1307.7,1908.1 1311.2,1908.4 1314.7,1908.8 1318.2,1908.9 1321.7,1908.6 1325.2,1908.3 1328.7,1908.1 1332.2,1907.8 1335.7,1907.5 1339.2,1907.3 1342.7,1907.0 1346.2,1906.7 1349.7,1906.5 1353.2,1906.2 1356.7,1906.0 1360.2,1905.7 1363.7,1905.5 1367.2,1905.2 1370.7,1905.0 1374.2,1904.7 1377.7,1904.5 1381.2,1904.2 1384.7,1901.9 1388.2,1896.7 1391.7,1896.6 1395.2,1896.6 1398.7,1896.6 1402.2,1896.6 1405.7,1896.8 1409.2,1901.7 1412.7,1906.6 1416.2,1911.5 1419.7,1914.0 1423.2,1914.0 1426.7,1914.0 1430.2,1914.0 1433.7,1912.9 1437.2,1908.7 1440.7,1904.5 1444.2,1900.3 1447.7,1899.1 1451.2,1899.1 1454.7,1899.1 1458.2,1899.1 1461.7,1899.1 1465.2,1904.5 1468.7,1909.0 1472.2,1909.0 1475.7,1909.0 1479.2,1909.0 1482.7,1909.0 1486.2,1906.2 1489.7,1899.2 1493.2,1899.1 1496.7,1899.1 1500.2,1899.1 1503.7,1899.1 1507.2,1899.3 1510.7,1904.5 1514.2,1906.5 1517.7,1906.5 1521.2,1906.5 1524.7,1906.5 1528.2,1906.5 1531.7,1910.4 1535.2,1916.2 1538.7,1918.9 1542.2,1918.9 1545.7,1918.9 1549.2,1916.9 1552.7,1914.1 1556.2,1911.3 1559.7,1908.9 1563.2,1908.4 1566.7,1907.9 1570.2,1907.4 1573.7,1906.9 1577.2,1906.3 1580.7,1904.9 1584.2,1903.6 1587.7,1902.8 1591.2,1902.8 1594.7,1902.8 1598.2,1902.8 1598.2,1920.1 1594.7,1922.0 1591.2,1924.0 1587.7,1925.9 1584.2,1929.2 1580.7,1933.2 1577.2,1937.3 1573.7,1941.4 1570.2,1943.1 1566.7,1940.8 1563.2,1938.5 1559.7,1936.1 1556.2,1934.5 1552.7,1938.0 1549.2,1941.5 1545.7,1943.8 1542.2,1943.1 1538.7,1942.4 1535.2,1941.7 1531.7,1939.6 1528.2,1937.1 1524.7,1934.6 1521.2,1932.1 1517.7,1929.6 1514.2,1928.1 1510.7,1926.8 1507.2,1925.5 1503.7,1924.1 1500.2,1922.8 1496.7,1922.1 1493.2,1925.2 1489.7,1928.3 1486.2,1931.3 1482.7,1934.4 1479.2,1937.5 1475.7,1936.9 1472.2,1932.6 1468.7,1928.2 1465.2,1926.3 1461.7,1925.8 1458.2,1925.3 1454.7,1924.8 1451.2,1924.3 1447.7,1927.1 1444.2,1931.3 1440.7,1935.5 1437.2,1938.6 1433.7,1936.0 1430.2,1933.4 1426.7,1932.2 1423.2,1933.9 1419.7,1935.7 1416.2,1934.6 1412.7,1930.7 1409.2,1926.7 1405.7,1922.8 1402.2,1918.8 1398.7,1914.9 1395.2,1917.2 1391.7,1920.7 1388.2,1921.9 1384.7,1922.1 1381.2,1922.3 1377.7,1922.6 1374.2,1922.8 1370.7,1923.0 1367.2,1923.3 1363.7,1923.5 1360.2,1923.7 1356.7,1924.0 1353.2,1924.4 1349.7,1926.3 1346.2,1928.3 1342.7,1930.2 1339.2,1932.2 1335.7,1934.1 1332.2,1936.1 1328.7,1935.7 1325.2,1934.5 1321.7,1933.4 1318.2,1932.2 1314.7,1931.0 1311.2,1929.9 1307.7,1929.0 1304.2,1928.5 1300.7,1928.0 1297.2,1927.5 1293.7,1927.0 1290.2,1925.9 1286.7,1923.9 1283.2,1922.0 1279.7,1920.0 1276.2,1918.1 1272.7,1916.1 1269.2,1914.4 1265.7,1917.9 1262.2,1921.4 1258.7,1922.8 1255.2,1916.5 1251.7,1910.2 1248.2,1903.9 1244.7,1901.4 1241.2,1900.7 1237.7,1900.0 1234.2,1898.8 1230.7,1894.4 1227.2,1890.1 1223.7,1887.0 1220.2,1887.0 1216.7,1887.0 1213.2,1887.0 1209.7,1887.0 1206.2,1887.0 1202.7,1887.0 1199.2,1891.9 1195.7,1897.5 1192.2,1899.7 1188.7,1901.9 1185.2,1902.9 1181.7,1903.9 1178.2,1904.9 1174.7,1905.9 1171.2,1906.8 1167.7,1905.1 1164.2,1903.3 1160.7,1901.6 1157.2,1899.8 1153.7,1898.1 1150.2,1896.3 1146.7,1894.6 1143.2,1892.8 1139.7,1892.9 1136.2,1894.7 1132.7,1896.4 1129.2,1898.2 1125.7,1899.9 1122.2,1901.7 1118.7,1903.4 1115.2,1905.2 1111.7,1906.8 1108.2,1905.2 1104.7,1903.7 1101.2,1902.1 1097.7,1900.6 1094.2,1899.0 1090.7,1897.4 1087.2,1896.5 1083.7,1895.8 1080.2,1895.1 1076.7,1894.4 1073.2,1893.7 1069.7,1893.0 1066.2,1892.3 1062.7,1891.6 1059.2,1890.9 1055.7,1890.2 1052.2,1889.6 1048.7,1890.3 1045.2,1891.0 1041.7,1891.7 1038.2,1892.4 1034.7,1893.1 1031.2,1893.8 1027.7,1894.5 1024.2,1892.0 1020.7,1889.6 1017.2,1887.1 1013.7,1884.7 1010.2,1882.2 1006.7,1879.8 1003.2,1877.3 999.7,1881.6 996.2,1886.5 992.7,1891.4 989.2,1893.3 985.7,1890.3 982.2,1887.3 978.7,1884.3 975.2,1881.3 971.7,1880.1 968.2,1881.1 964.7,1882.2 961.2,1883.2 957.7,1884.3 954.2,1885.3 950.7,1886.4 947.2,1885.6 943.7,1881.5 940.2,1877.4 936.7,1873.4 933.2,1869.8 929.7,1870.7 926.2,1871.5 922.7,1872.4 919.2,1873.3 915.7,1874.2 912.2,1875.0 908.7,1875.9 905.2,1876.8 901.7,1878.2 898.2,1880.0 894.7,1881.7 891.2,1883.5 887.7,1885.2 884.2,1887.0 880.7,1884.1 877.2,1881.0 873.7,1877.9 870.2,1874.7 866.7,1871.6 863.2,1868.5 859.7,1867.7 856.2,1868.6 852.7,1869.5 849.2,1870.4 845.7,1871.2 842.2,1872.1 838.7,1871.3 835.2,1870.3 831.7,1869.3 828.2,1868.3 824.7,1867.3 821.2,1870.2 817.7,1873.3 814.2,1876.3 810.7,1879.4 807.2,1882.5 803.7,1884.2 800.2,1883.2 796.7,1882.1 793.2,1881.1 789.7,1880.0 786.2,1879.0 782.7,1877.9 779.2,1875.1 775.7,1874.0 772.2,1874.8 768.7,1875.5 765.2,1876.3 761.7,1877.0 758.2,1876.4 754.7,1875.5 751.2,1874.6 747.7,1873.8 744.2,1872.9 740.7,1872.0 737.2,1871.1 733.7,1870.3 730.2,1869.9 726.7,1870.3 723.2,1870.8 719.7,1871.3 716.2,1871.7 712.7,1872.2 709.2,1872.7 705.7,1873.1 702.2,1873.6 698.7,1874.1 695.2,1874.5 691.7,1872.0 688.2,1868.5 684.7,1865.0 681.2,1862.8 677.7,1865.1 674.2,1867.3 670.7,1868.2 667.2,1869.1 663.7,1869.9 660.2,1870.8 656.7,1871.7 653.2,1872.6 649.7,1873.4 646.2,1874.3 642.7,1875.3 639.2,1876.3 635.7,1877.4 632.2,1878.4 628.7,1879.5 625.2,1880.5 621.7,1881.6 618.2,1881.4 614.7,1880.1 611.2,1878.9 607.7,1877.6 604.2,1876.3 600.7,1875.1 597.2,1873.8 593.7,1872.5 590.2,1877.4 586.7,1884.4 583.2,1891.4 579.7,1888.8 576.2,1885.3 572.7,1881.8 569.2,1880.9 565.7,1884.4 562.2,1887.9 558.7,1891.4 555.2,1894.5 551.7,1894.5 548.2,1894.5 544.7,1894.5 541.2,1894.5 537.7,1894.5 534.2,1894.5 530.7,1895.3 527.2,1896.4 523.7,1897.5 520.2,1898.6 516.7,1899.7 513.2,1900.8 509.7,1901.9 506.2,1903.0 502.7,1904.1 499.2,1905.1 495.7,1906.2 492.2,1908.8 488.7,1913.2 485.2,1917.5 481.7,1919.8 478.2,1920.6 474.7,1921.5 471.2,1922.4 467.7,1923.3 464.2,1924.1 460.7,1925.0 457.2,1925.9 453.7,1926.7 450.2,1926.7 446.7,1926.7" fill="#0000ff"/>
<polyline points="446.7,1925.3 449.1,1924.7 451.5,1924.1 453.9,1923.5 456.3,1922.8 458.7,1922.0 461.1,1921.4 463.5,1920.7 465.9,1911.3 468.3,1918.9 470.7,1916.2 473.1,1918.4 475.5,1912.6 477.9,1911.2 480.3,1908.4 482.7,1916.0 485.1,1907.0 487.5,1910.1 489.9,1900.9 492.3,1905.1 494.7,1897.6 497.1,1901.8 499.5,1897.3 501.9,1901.0 504.3,1894.8 506.7,1898.6 509.1,1894.1 511.5,1898.1 513.9,1894.0 516.3,1896.4 518.7,1892.3 521.1,1894.7 523.5,1887.2 525.9,1899.7 528.3,1889.0 530.7,1891.6 533.1,1888.7 535.5,1888.3 537.9,1882.2 540.3,1891.0 542.7,1885.6 545.1,1890.1 547.5,1888.6 549.9,1888.8 552.3,1881.6 554.7,1885.5 557.1,1889.4 559.5,1876.3 561.9,1873.9 564.3,1878.3 566.7,1877.1 569.1,1877.3 571.5,1863.8 573.9,1878.2 576.3,1868.5 578.7,1872.8 581.1,1871.8 583.5,1892.6 585.9,1863.5 588.3,1874.0 590.7,1863.5 593.1,1868.9 595.5,1866.3 597.9,1868.8 600.3,1866.7 602.7,1863.2 605.1,1865.3 607.5,1873.9 609.9,1871.1 612.3,1874.4 614.7,1869.9 617.1,1876.3 619.5,1871.6 621.9,1875.1 624.3,1870.3 626.7,1876.6 629.1,1869.8 631.5,1868.9 633.9,1874.5 636.3,1867.9 638.7,1867.0 641.1,1866.8 643.5,1866.9 645.9,1869.9 648.3,1865.3 650.7,1869.8 653.1,1862.8 655.5,1865.2 657.9,1865.6 660.3,1866.2 662.7,1859.1 665.1,1871.2 667.5,1857.1 669.9,1863.9 672.3,1853.2 674.7,1852.8 677.1,1861.4 679.5,1860.7 681.9,1853.0 684.3,1858.6 686.7,1854.7 689.1,1866.1 691.5,1856.1 693.9,1866.3 696.3,1857.6 698.7,1866.9 701.1,1857.3 703.5,1869.9 705.9,1867.1 708.3,1862.6 710.7,1861.3 713.1,1868.8 715.5,1860.8 717.9,1867.6 720.3,1860.5 722.7,1867.5 725.1,1859.9 727.5,1866.8 729.9,1861.8 732.3,1863.9 734.7,1860.7 737.1,1863.5 739.5,1864.2 741.9,1859.4 744.3,1861.3 746.7,1869.2 749.1,1865.0 751.5,1873.6 753.9,1859.3 756.3,1874.6 758.7,1859.4 761.1,1862.8 763.5,1855.4 765.9,1865.3 768.3,1870.9 770.7,1874.3 773.1,1862.9 775.5,1868.9 777.9,1862.8 780.3,1871.3 782.7,1864.4 785.1,1868.9 787.5,1861.8 789.9,1875.7 792.3,1859.3 794.7,1870.7 797.1,1859.5 799.5,1861.8 801.9,1860.6 804.3,1880.3 806.7,1857.8 809.1,1875.6 811.5,1855.7 813.9,1871.3 816.3,1856.1 818.7,1865.6 821.1,1856.1 823.5,1859.2 825.9,1863.4 828.3,1864.7 830.7,1854.2 833.1,1865.5 835.5,1855.4 837.9,1863.2 840.3,1866.0 842.7,1866.7 845.1,1853.7 847.5,1866.0 849.9,1850.4 852.3,1865.7 854.7,1852.1 857.1,1863.0 859.5,1853.1 861.9,1863.0 864.3,1855.1 866.7,1867.2 869.1,1856.0 871.5,1869.2 873.9,1859.9 876.3,1864.2 878.7,1856.4 881.1,1878.6 883.5,1855.6 885.9,1880.0 888.3,1856.7 890.7,1876.8 893.1,1857.4 895.5,1873.1 897.9,1875.2 900.3,1863.3 902.7,1859.8 905.1,1870.7 907.5,1854.5 909.9,1866.4 912.3,1854.9 914.7,1869.4 917.1,1854.6 919.5,1870.0 921.9,1865.5 924.3,1869.1 926.7,1858.9 929.1,1856.2 931.5,1850.1 933.9,1865.7 936.3,1854.8 938.7,1871.1 941.1,1859.7 943.5,1877.5 945.9,1859.0 948.3,1886.4 950.7,1869.6 953.1,1880.0 955.5,1863.1 957.9,1867.5 960.3,1871.4 962.7,1875.5 965.1,1860.0 967.5,1874.9 969.9,1861.2 972.3,1876.2 974.7,1860.7 977.1,1877.7 979.5,1858.6 981.9,1868.2 984.3,1854.8 986.7,1881.1 989.1,1861.2 991.5,1888.4 993.9,1872.4 996.3,1878.8 998.7,1859.5 1001.1,1880.1 1003.5,1857.2 1005.9,1875.7 1008.3,1857.5 1010.7,1877.7 1013.1,1859.5 1015.5,1880.6 1017.9,1862.1 1020.3,1871.8 1022.7,1861.5 1025.1,1884.2 1027.5,1887.3 1029.9,1890.5 1032.3,1874.6 1034.7,1883.5 1037.1,1875.7 1039.5,1880.5 1041.9,1887.7 1044.3,1882.4 1046.7,1869.8 1049.1,1885.5 1051.5,1871.0 1053.9,1880.9 1056.3,1872.8 1058.7,1887.1 1061.1,1875.6 1063.5,1886.0 1065.9,1878.1 1068.3,1886.9 1070.7,1881.6 1073.1,1879.9 1075.5,1878.0 1077.9,1883.9 1080.3,1882.4 1082.7,1890.6 1085.1,1876.4 1087.5,1878.6 1089.9,1877.5 1092.3,1886.0 1094.7,1889.5 1097.1,1895.9 1099.5,1879.4 1101.9,1897.3 1104.3,1889.8 1106.7,1880.3 1109.1,1880.1 1111.5,1896.9 1113.9,1884.5 1116.3,1892.7 1118.7,1883.4 1121.1,1895.4 1123.5,1887.3 1125.9,1901.5 1128.3,1883.3 1130.7,1886.7 1133.1,1883.9 1135.5,1891.7 1137.9,1883.3 1140.3,1888.2 1142.7,1882.5 1145.1,1889.9 1147.5,1880.4 1149.9,1891.8 1152.3,1881.0 1154.7,1898.3 1157.1,1881.2 1159.5,1895.3 1161.9,1882.6 1164.3,1897.5 1166.7,1884.8 1169.1,1900.6 1171.5,1887.5 1173.9,1890.2 1176.3,1890.4 1178.7,1901.4 1181.1,1887.8 1183.5,1895.9 1185.9,1896.8 1188.3,1896.7 1190.7,1883.6 1193.1,1893.5 1195.5,1880.8 1197.9,1891.7 1200.3,1878.2 1202.7,1882.1 1205.1,1876.6 1207.5,1883.6 1209.9,1876.5 1212.3,1883.1 1214.7,1877.8 1217.1,1882.4 1219.5,1881.3 1221.9,1883.8 1224.3,1878.6 1226.7,1884.0 1229.1,1882.2 1231.5,1890.5 1233.9,1894.0 1236.3,1894.8 1238.7,1890.9 1241.1,1898.1 1243.5,1886.6 1245.9,1894.5 1248.3,1898.1 1250.7,1903.0 1253.1,1889.6 1255.5,1914.8 1257.9,1894.9 1260.3,1905.7 1262.7,1897.9 1265.1,1913.4 1267.5,1900.4 1269.9,1908.7 1272.3,1901.0 1274.7,1912.0 1277.1,1904.3 1279.5,1909.2 1281.9,1904.3 1284.3,1917.0 1286.7,1919.6 1289.1,1918.4 1291.5,1905.6 1293.9,1917.7 1296.3,1911.2 1298.7,1919.6 1301.1,1912.7 1303.5,1923.2 1305.9,1921.8 1308.3,1925.3 1310.7,1914.6 1313.1,1922.1 1315.5,1914.0 1317.9,1926.5 1320.3,1926.3 1322.7,1936.0 1325.1,1911.9 1327.5,1930.9 1329.9,1915.4 1332.3,1930.4 1334.7,1912.4 1337.1,1924.6 1339.5,1911.1 1341.9,1926.9 1344.3,1910.9 1346.7,1922.6 1349.1,1912.6 1351.5,1921.1 1353.9,1911.2 1356.3,1918.9 1358.7,1909.9 1361.1,1919.9 1363.5,1911.6 1365.9,1918.6 1368.3,1911.1 1370.7,1918.5 1373.1,1910.6 1375.5,1919.0 1377.9,1909.8 1380.3,1917.6 1382.7,1909.4 1385.1,1917.4 1387.5,1901.9 1389.9,1904.7 1392.3,1904.9 1394.7,1912.3 1397.1,1902.6 1399.5,1911.9 1401.9,1907.8 1404.3,1915.8 1406.7,1918.8 1409.1,1921.2 1411.5,1911.9 1413.9,1921.9 1416.3,1917.9 1418.7,1929.8 1421.1,1922.1 1423.5,1928.5 1425.9,1919.7 1428.3,1927.7 1430.7,1919.8 1433.1,1931.4 1435.5,1915.4 1437.9,1931.6 1440.3,1916.7 1442.7,1925.0 1445.1,1919.0 1447.5,1912.3 1449.9,1902.7 1452.3,1918.0 1454.7,1921.1 1457.1,1921.7 1459.5,1901.0 1461.9,1921.7 1464.3,1920.1 1466.7,1914.8 1469.1,1922.4 1471.5,1926.5 1473.9,1913.0 1476.3,1932.7 1478.7,1912.9 1481.1,1931.1 1483.5,1921.6 1485.9,1927.5 1488.3,1925.8 1490.7,1923.2 1493.1,1906.1 1495.5,1916.0 1497.9,1900.7 1500.3,1917.3 1502.7,1908.0 1505.1,1916.2 1507.5,1915.6 1509.9,1921.5 1512.3,1914.7 1514.7,1923.2 1517.1,1910.3 1519.5,1927.3 1521.9,1912.7 1524.3,1921.6 1526.7,1913.3 1529.1,1930.8 1531.5,1915.2 1533.9,1936.7 1536.3,1922.4 1538.7,1946.3 1541.1,1930.3 1543.5,1931.4 1545.9,1935.2 1548.3,1934.7 1550.7,1922.6 1553.1,1931.8 1555.5,1918.8 1557.9,1930.2 1560.3,1930.5 1562.7,1932.4 1565.1,1912.3 1567.5,1932.1 1569.9,1914.0 1572.3,1937.2 1574.7,1913.0 1577.1,1928.7 1579.5,1914.8 1581.9,1928.5 1584.3,1910.2 1586.7,1906.3 1589.1,1906.0 1591.5,1917.8 1593.9,1907.0 1596.3,1920.1 1598.7,1907.4" fill="none" stroke="#0000ff" stroke-width="3" stroke-linejoin="round" stroke-linecap="round" marker-start="url(#btr)" marker-mid="url(#btr)" marker-end="url(#btr)"/>
<polyline points="1173.5,1931.0 1216.0,1914.0" fill="none" stroke="none" stroke-width="0" stroke-linejoin="round" stroke-linecap="round" marker-start="url(#btr)" marker-mid="url(#btr)" marker-end="url(#btr)"/>
<polyline points="405.7,2150.0 405.5,2141.6 405.9,2157.3 405.7,2128.4 406.2,2089.9 406.9,2075.5 408.1,2051.4 408.8,2020.1 411.7,1988.9 414.1,1964.8" fill="none" stroke="#c9a0d8" stroke-width="2.5" stroke-linejoin="round" stroke-linecap="round" marker-start="url(#bsqp)" marker-mid="url(#bsqp)" marker-end="url(#bsqp)"/>
<polyline points="413.0,1970.1 416.1,1965.7 413.9,1964.5 417.7,1959.7 416.2,1954.9 413.5,1952.6 417.3,1947.7 418.8,1945.5 415.7,1941.3 420.6,1942.3 420.2,1938.4 415.4,1933.6 418.5,1929.2 421.5,1927.6 417.1,1927.2 417.2,1924.8 419.6,1919.4 419.2,1915.9 418.6,1910.1 423.0,1908.2 422.8,1905.0 424.3,1906.0 423.4,1902.1 422.7,1898.8 420.2,1894.2 424.9,1889.4 426.0,1890.4 423.3,1884.2 424.0,1881.2 427.8,1878.2 422.4,1873.3 427.0,1875.6 426.1,1869.5 426.9,1868.0 425.4,1864.0 427.9,1861.0 426.1,1855.2 428.1,1856.7 429.1,1851.6 429.8,1845.5 429.4,1846.7 434.7,1840.9 435.1,1839.7 437.4,1838.2 435.4,1835.3 440.8,1829.8 442.3,1826.1 441.3,1821.6 444.0,1820.0" fill="none" stroke="#a800d4" stroke-width="8" stroke-linejoin="round" stroke-linecap="round" marker-start="url(#bsq)" marker-mid="url(#bsq)" marker-end="url(#bsq)"/>
<polyline points="414.0,1844.0 419.0,1925.0 424.0,1938.0 421.0,1950.0" fill="none" stroke="none" stroke-width="0" stroke-linejoin="round" stroke-linecap="round" marker-start="url(#bsqo)" marker-mid="url(#bsqo)" marker-end="url(#bsqo)"/>
<polygon points="438.0,1812.6 441.5,1806.2 445.0,1800.1 448.5,1794.8 452.0,1789.6 455.5,1784.9 459.0,1780.9 462.5,1776.9 466.0,1773.0 469.5,1769.0 473.0,1765.0 476.5,1761.5 480.0,1761.0 483.5,1760.5 487.0,1760.0 490.5,1759.5 494.0,1759.0 497.5,1758.5 501.0,1758.0 504.5,1756.2 508.0,1746.2 511.5,1737.4 515.0,1737.0 518.5,1736.6 522.0,1736.3 525.5,1735.9 529.0,1735.5 532.5,1735.1 536.0,1734.5 539.5,1733.8 543.0,1733.1 546.5,1732.4 550.0,1731.7 553.5,1731.0 557.0,1730.3 560.5,1728.8 564.0,1727.1 567.5,1725.3 571.0,1723.6 574.5,1721.8 578.0,1720.1 581.5,1718.3 585.0,1716.6 588.5,1715.2 592.0,1715.2 595.5,1715.2 599.0,1715.2 602.5,1715.2 606.0,1715.2 609.5,1715.8 613.0,1717.0 616.5,1718.1 620.0,1719.3 623.5,1719.9 627.0,1719.1 630.5,1718.4 634.0,1717.6 637.5,1716.8 641.0,1716.0 644.5,1715.2 648.0,1714.7 651.5,1714.2 655.0,1713.7 658.5,1713.2 662.0,1712.7 665.5,1712.2 669.0,1711.7 672.5,1711.2 676.0,1710.7 679.5,1710.2 683.0,1704.0 686.5,1701.7 690.0,1701.9 693.5,1702.1 697.0,1702.3 700.5,1702.5 704.0,1702.7 707.5,1702.7 711.0,1702.2 714.5,1701.6 718.0,1701.1 721.5,1700.6 725.0,1700.1 728.5,1699.5 732.0,1699.0 735.5,1698.5 739.0,1698.0 742.5,1697.4 746.0,1696.9 749.5,1696.4 753.0,1695.9 756.5,1695.3 760.0,1694.3 763.5,1693.4 767.0,1692.4 770.5,1691.4 774.0,1690.4 777.5,1689.5 781.0,1690.2 784.5,1689.5 788.0,1688.8 791.5,1688.1 795.0,1687.4 798.5,1686.7 802.0,1686.0 805.5,1685.3 809.0,1684.6 812.5,1683.9 816.0,1683.2 819.5,1682.4 823.0,1681.6 826.5,1680.8 830.0,1680.0 833.5,1679.2 837.0,1678.4 840.5,1677.6 844.0,1676.8 847.5,1676.0 851.0,1675.5 854.5,1675.3 858.0,1675.1 861.5,1674.9 865.0,1674.7 868.5,1674.5 872.0,1674.3 875.5,1674.1 879.0,1673.9 882.5,1673.7 886.0,1673.5 889.5,1673.3 893.0,1673.1 896.5,1672.5 900.0,1671.8 903.5,1671.0 907.0,1670.3 910.5,1669.5 914.0,1668.8 917.5,1668.0 921.0,1667.3 924.5,1666.5 928.0,1665.8 931.5,1665.7 935.0,1665.7 938.5,1665.7 942.0,1665.7 945.5,1665.7 949.0,1665.7 952.5,1665.7 956.0,1665.7 959.5,1665.7 963.0,1665.7 966.5,1665.7 970.0,1665.7 973.5,1665.7 977.0,1665.7 980.5,1664.9 984.0,1663.9 987.5,1662.8 991.0,1661.8 994.5,1660.7 998.0,1659.7 1001.5,1658.6 1005.0,1657.9 1008.5,1657.5 1012.0,1657.0 1015.5,1656.5 1019.0,1656.1 1022.5,1655.6 1026.0,1655.1 1029.5,1654.7 1033.0,1654.2 1036.5,1653.7 1040.0,1653.3 1043.5,1652.0 1047.0,1650.7 1050.5,1649.3 1054.0,1648.0 1057.5,1646.7 1061.0,1645.8 1064.5,1645.8 1068.0,1645.8 1071.5,1645.8 1075.0,1645.8 1078.5,1645.8 1082.0,1645.8 1085.5,1645.8 1089.0,1645.8 1092.5,1645.8 1096.0,1645.8 1099.5,1645.8 1103.0,1645.8 1106.5,1645.8 1110.0,1645.8 1113.5,1646.5 1117.0,1648.0 1120.5,1649.5 1124.0,1650.9 1127.5,1651.8 1131.0,1651.0 1134.5,1650.1 1138.0,1649.2 1141.5,1648.3 1145.0,1647.5 1148.5,1646.6 1152.0,1645.8 1155.5,1645.8 1159.0,1645.8 1162.5,1645.8 1166.0,1645.8 1169.5,1645.8 1173.0,1645.8 1176.5,1645.8 1180.0,1645.0 1183.5,1644.2 1187.0,1643.5 1190.5,1642.7 1194.0,1641.9 1197.5,1641.1 1201.0,1645.6 1204.5,1644.9 1208.0,1644.2 1211.5,1643.5 1215.0,1642.8 1218.5,1642.1 1222.0,1641.4 1225.5,1640.8 1229.0,1640.5 1232.5,1640.2 1236.0,1639.9 1239.5,1639.6 1243.0,1639.2 1246.5,1638.9 1250.0,1638.6 1253.5,1626.0 1257.0,1626.0 1260.5,1626.0 1264.0,1626.0 1267.5,1626.0 1271.0,1626.0 1274.5,1638.3 1278.0,1638.0 1281.5,1637.8 1285.0,1637.5 1288.5,1637.2 1292.0,1636.9 1295.5,1636.7 1299.0,1636.4 1302.5,1636.1 1306.0,1635.8 1309.5,1635.6 1313.0,1635.3 1316.5,1635.0 1320.0,1634.7 1323.5,1634.5 1327.0,1634.2 1330.5,1633.9 1334.0,1633.6 1337.5,1633.3 1341.0,1633.0 1344.5,1632.6 1348.0,1632.3 1351.5,1632.1 1355.0,1632.0 1358.5,1631.9 1362.0,1631.8 1365.5,1631.7 1369.0,1631.5 1372.5,1631.4 1376.0,1631.3 1379.5,1631.2 1383.0,1631.1 1386.5,1630.4 1390.0,1628.0 1393.5,1625.5 1397.0,1623.1 1400.5,1622.3 1404.0,1622.3 1407.5,1622.3 1411.0,1622.3 1414.5,1622.3 1418.0,1622.5 1421.5,1627.8 1425.0,1625.4 1428.5,1623.1 1432.0,1620.8 1435.5,1618.5 1439.0,1617.1 1442.5,1615.7 1446.0,1614.3 1449.5,1598.8 1453.0,1593.8 1456.5,1593.8 1460.0,1593.8 1463.5,1593.8 1467.0,1593.8 1470.5,1592.7 1474.0,1589.0 1477.5,1589.1 1481.0,1589.3 1484.5,1589.5 1488.0,1589.7 1491.5,1589.8 1495.0,1590.0 1498.5,1590.3 1502.0,1590.7 1505.5,1591.2 1509.0,1591.3 1512.5,1591.2 1516.0,1591.1 1519.5,1591.0 1523.0,1590.9 1526.5,1590.8 1530.0,1590.6 1533.5,1590.5 1537.0,1590.4 1540.5,1590.3 1544.0,1590.2 1547.5,1589.7 1551.0,1587.6 1554.5,1585.6 1558.0,1583.5 1561.5,1581.5 1565.0,1581.5 1568.5,1581.5 1572.0,1581.5 1575.5,1581.5 1579.0,1581.5 1582.5,1583.7 1586.0,1590.7 1589.5,1591.7 1593.0,1592.1 1596.5,1592.5 1600.0,1592.9 1600.0,1670.4 1596.5,1670.7 1593.0,1670.9 1589.5,1671.1 1586.0,1671.3 1582.5,1671.6 1579.0,1671.8 1575.5,1672.0 1572.0,1672.2 1568.5,1672.6 1565.0,1672.9 1561.5,1673.3 1558.0,1673.6 1554.5,1674.0 1551.0,1674.3 1547.5,1674.7 1544.0,1674.9 1540.5,1675.1 1537.0,1675.2 1533.5,1675.4 1530.0,1675.6 1526.5,1675.8 1523.0,1675.9 1519.5,1676.1 1516.0,1676.3 1512.5,1676.5 1509.0,1676.6 1505.5,1676.8 1502.0,1677.0 1498.5,1677.2 1495.0,1677.2 1491.5,1677.2 1488.0,1677.2 1484.5,1677.2 1481.0,1677.2 1477.5,1677.2 1474.0,1677.2 1470.5,1677.2 1467.0,1677.2 1463.5,1677.2 1460.0,1677.2 1456.5,1673.0 1453.0,1668.8 1449.5,1664.6 1446.0,1650.9 1442.5,1645.0 1439.0,1645.0 1435.5,1645.0 1432.0,1645.0 1428.5,1645.0 1425.0,1645.0 1421.5,1645.0 1418.0,1645.0 1414.5,1645.0 1411.0,1645.0 1407.5,1645.0 1404.0,1645.0 1400.5,1645.0 1397.0,1645.0 1393.5,1645.0 1390.0,1645.0 1386.5,1645.0 1383.0,1645.0 1379.5,1645.0 1376.0,1645.0 1372.5,1645.2 1369.0,1645.9 1365.5,1646.6 1362.0,1647.3 1358.5,1648.0 1355.0,1648.7 1351.5,1649.4 1348.0,1650.1 1344.5,1650.8 1341.0,1651.5 1337.5,1652.2 1334.0,1652.8 1330.5,1653.2 1327.0,1653.7 1323.5,1654.2 1320.0,1654.6 1316.5,1655.1 1313.0,1655.6 1309.5,1656.0 1306.0,1656.5 1302.5,1657.0 1299.0,1657.4 1295.5,1656.9 1292.0,1656.5 1288.5,1656.0 1285.0,1655.5 1281.5,1655.1 1278.0,1654.6 1274.5,1654.1 1271.0,1653.7 1267.5,1653.2 1264.0,1652.7 1260.5,1652.8 1257.0,1653.8 1253.5,1654.7 1250.0,1655.6 1246.5,1656.6 1243.0,1657.5 1239.5,1658.4 1236.0,1659.4 1232.5,1660.3 1229.0,1661.2 1225.5,1662.2 1222.0,1662.4 1218.5,1662.4 1215.0,1662.4 1211.5,1662.4 1208.0,1662.4 1204.5,1662.4 1201.0,1662.4 1197.5,1661.3 1194.0,1662.1 1190.5,1662.8 1187.0,1663.6 1183.5,1664.3 1180.0,1664.9 1176.5,1665.2 1173.0,1665.5 1169.5,1665.8 1166.0,1666.1 1162.5,1666.4 1159.0,1666.7 1155.5,1667.0 1152.0,1667.3 1148.5,1667.3 1145.0,1667.3 1141.5,1667.3 1138.0,1667.3 1134.5,1667.3 1131.0,1667.3 1127.5,1667.3 1124.0,1667.3 1120.5,1667.3 1117.0,1667.3 1113.5,1667.3 1110.0,1668.7 1106.5,1671.3 1103.0,1673.9 1099.5,1674.7 1096.0,1674.7 1092.5,1674.7 1089.0,1674.7 1085.5,1674.7 1082.0,1674.7 1078.5,1674.7 1075.0,1674.7 1071.5,1674.7 1068.0,1674.7 1064.5,1674.7 1061.0,1674.7 1057.5,1674.7 1054.0,1674.7 1050.5,1674.7 1047.0,1674.7 1043.5,1674.7 1040.0,1674.7 1036.5,1674.7 1033.0,1674.7 1029.5,1674.7 1026.0,1675.0 1022.5,1675.4 1019.0,1675.9 1015.5,1676.4 1012.0,1676.8 1008.5,1677.3 1005.0,1677.8 1001.5,1678.2 998.0,1678.7 994.5,1679.2 991.0,1679.6 987.5,1680.3 984.0,1681.0 980.5,1681.7 977.0,1682.4 973.5,1683.1 970.0,1683.8 966.5,1684.5 963.0,1685.2 959.5,1685.9 956.0,1686.6 952.5,1687.2 949.0,1687.7 945.5,1688.2 942.0,1688.6 938.5,1689.1 935.0,1689.6 931.5,1690.0 928.0,1690.5 924.5,1691.0 921.0,1691.4 917.5,1691.9 914.0,1692.4 910.5,1692.8 907.0,1693.3 903.5,1693.8 900.0,1694.2 896.5,1694.7 893.0,1695.2 889.5,1695.6 886.0,1696.1 882.5,1696.6 879.0,1697.0 875.5,1698.1 872.0,1699.2 868.5,1700.3 865.0,1701.4 861.5,1702.4 858.0,1703.5 854.5,1704.6 851.0,1705.7 847.5,1706.7 844.0,1706.7 840.5,1706.4 837.0,1706.1 833.5,1705.8 830.0,1705.5 826.5,1705.2 823.0,1704.9 819.5,1704.7 816.0,1704.7 812.5,1705.4 809.0,1706.1 805.5,1706.8 802.0,1707.5 798.5,1708.2 795.0,1708.9 791.5,1709.6 788.0,1710.3 784.5,1711.0 781.0,1711.7 777.5,1713.8 774.0,1716.0 770.5,1718.3 767.0,1720.5 763.5,1722.8 760.0,1724.3 756.5,1724.3 753.0,1724.3 749.5,1724.3 746.0,1724.3 742.5,1724.3 739.0,1724.3 735.5,1724.3 732.0,1724.3 728.5,1724.5 725.0,1724.7 721.5,1724.9 718.0,1725.2 714.5,1725.4 711.0,1725.6 707.5,1725.9 704.0,1726.1 700.5,1726.3 697.0,1726.6 693.5,1727.3 690.0,1729.8 686.5,1732.3 683.0,1734.8 679.5,1737.3 676.0,1739.3 672.5,1739.7 669.0,1740.1 665.5,1740.6 662.0,1741.0 658.5,1741.4 655.0,1741.2 651.5,1740.5 648.0,1739.8 644.5,1739.1 641.0,1738.4 637.5,1737.7 634.0,1737.0 630.5,1737.2 627.0,1738.3 623.5,1739.3 620.0,1740.4 616.5,1741.4 613.0,1742.5 609.5,1743.5 606.0,1744.5 602.5,1745.4 599.0,1746.2 595.5,1747.1 592.0,1748.0 588.5,1748.9 585.0,1749.7 581.5,1750.6 578.0,1751.5 574.5,1752.8 571.0,1754.1 567.5,1755.4 564.0,1756.7 560.5,1758.0 557.0,1759.2 553.5,1759.9 550.0,1760.7 546.5,1761.4 543.0,1762.2 539.5,1762.9 536.0,1763.7 532.5,1764.4 529.0,1765.2 525.5,1765.9 522.0,1768.0 518.5,1771.8 515.0,1775.7 511.5,1779.5 508.0,1783.4 504.5,1784.6 501.0,1785.7 497.5,1786.9 494.0,1788.1 490.5,1789.2 487.0,1790.4 483.5,1793.6 480.0,1809.0 476.5,1815.5 473.0,1818.5 469.5,1821.5 466.0,1824.5 462.5,1827.4 459.0,1830.4 455.5,1835.2 452.0,1839.9 448.5,1844.7 445.0,1851.4 441.5,1858.4 438.0,1865.4" fill="#a800d4"/>
<polyline points="438.0,1821.5 440.4,1834.9 442.8,1821.3 445.2,1854.1 447.6,1805.8 450.0,1804.9 452.4,1793.6 454.8,1827.6 457.2,1828.4 459.6,1818.8 462.0,1813.7 464.4,1815.5 466.8,1815.5 469.2,1815.8 471.6,1785.7 474.0,1779.4 476.4,1766.4 478.8,1797.5 481.2,1779.6 483.6,1787.0 486.0,1773.2 488.4,1785.3 490.8,1765.4 493.2,1775.4 495.6,1764.9 498.0,1778.5 500.4,1763.7 502.8,1779.2 505.2,1760.0 507.6,1778.1 510.0,1771.2 512.4,1765.1 514.8,1742.2 517.2,1766.6 519.6,1739.5 522.0,1749.0 524.4,1747.1 526.8,1740.5 529.2,1739.7 531.6,1756.7 534.0,1739.8 536.4,1753.9 538.8,1740.8 541.2,1755.2 543.6,1740.4 546.0,1756.6 548.4,1739.5 550.8,1751.1 553.2,1735.6 555.6,1751.1 558.0,1734.6 560.4,1752.3 562.8,1735.3 565.2,1750.4 567.6,1732.8 570.0,1749.1 572.4,1731.0 574.8,1735.3 577.2,1728.9 579.6,1724.4 582.0,1722.8 584.4,1724.6 586.8,1720.3 589.2,1743.9 591.6,1724.8 594.0,1741.5 596.4,1719.7 598.8,1739.8 601.2,1724.3 603.6,1740.0 606.0,1720.5 608.4,1736.9 610.8,1724.3 613.2,1733.8 615.6,1723.4 618.0,1734.0 620.4,1729.1 622.8,1740.4 625.2,1727.4 627.6,1728.7 630.0,1725.4 632.4,1724.5 634.8,1723.8 637.2,1731.0 639.6,1722.5 642.0,1730.0 644.4,1720.7 646.8,1735.0 649.2,1723.5 651.6,1735.7 654.0,1720.4 656.4,1734.2 658.8,1719.1 661.2,1721.0 663.6,1718.4 666.0,1735.3 668.4,1726.6 670.8,1732.5 673.2,1716.6 675.6,1731.2 678.0,1716.4 680.4,1730.2 682.8,1714.0 685.2,1725.0 687.6,1714.6 690.0,1719.3 692.4,1715.2 694.8,1718.3 697.2,1715.2 699.6,1709.6 702.0,1708.0 704.4,1721.2 706.8,1709.8 709.2,1717.0 711.6,1707.9 714.0,1713.8 716.4,1705.8 718.8,1716.1 721.2,1707.8 723.6,1715.4 726.0,1706.6 728.4,1715.7 730.8,1700.8 733.2,1719.0 735.6,1705.6 738.0,1716.8 740.4,1701.0 742.8,1719.6 745.2,1718.1 747.6,1716.3 750.0,1700.4 752.4,1719.5 754.8,1701.3 757.2,1719.5 759.6,1712.6 762.0,1717.1 764.4,1700.7 766.8,1713.1 769.2,1688.3 771.6,1710.5 774.0,1697.9 776.4,1704.6 778.8,1694.6 781.2,1706.3 783.6,1696.1 786.0,1702.8 788.4,1704.5 790.8,1701.9 793.2,1695.2 795.6,1704.1 798.0,1692.0 800.4,1702.2 802.8,1698.8 805.2,1700.0 807.6,1690.2 810.0,1701.2 812.4,1690.0 814.8,1697.6 817.2,1688.8 819.6,1698.6 822.0,1686.7 824.4,1700.2 826.8,1685.8 829.2,1690.5 831.6,1696.3 834.0,1697.9 836.4,1685.8 838.8,1699.1 841.2,1684.4 843.6,1700.7 846.0,1684.8 848.4,1680.7 850.8,1683.8 853.2,1691.1 855.6,1694.5 858.0,1698.4 860.4,1683.5 862.8,1693.5 865.2,1681.2 867.6,1692.9 870.0,1681.2 872.4,1690.2 874.8,1682.0 877.2,1689.4 879.6,1681.2 882.0,1692.9 884.4,1678.6 886.8,1691.3 889.2,1680.7 891.6,1689.9 894.0,1687.4 896.4,1688.9 898.8,1677.7 901.2,1687.0 903.6,1675.7 906.0,1688.9 908.4,1681.2 910.8,1686.5 913.2,1674.2 915.6,1683.6 918.0,1684.0 920.4,1687.1 922.8,1667.4 925.2,1683.9 927.6,1672.0 930.0,1678.6 932.4,1671.3 934.8,1684.6 937.2,1672.9 939.6,1682.6 942.0,1670.2 944.4,1691.7 946.8,1671.7 949.2,1674.5 951.6,1672.6 954.0,1680.0 956.4,1671.4 958.8,1681.3 961.2,1669.6 963.6,1688.4 966.0,1671.6 968.4,1676.9 970.8,1670.1 973.2,1679.3 975.6,1673.2 978.0,1676.4 980.4,1669.8 982.8,1674.5 985.2,1670.8 987.6,1675.3 990.0,1666.8 992.4,1674.0 994.8,1673.8 997.2,1672.5 999.6,1666.9 1002.0,1672.6 1004.4,1663.4 1006.8,1664.1 1009.2,1665.6 1011.6,1669.9 1014.0,1666.3 1016.4,1671.3 1018.8,1662.5 1021.2,1670.9 1023.6,1663.6 1026.0,1668.2 1028.4,1661.1 1030.8,1668.7 1033.2,1660.7 1035.6,1669.9 1038.0,1661.1 1040.4,1663.3 1042.8,1666.2 1045.2,1668.4 1047.6,1655.4 1050.0,1666.5 1052.4,1654.4 1054.8,1661.9 1057.2,1657.0 1059.6,1669.8 1062.0,1652.8 1064.4,1667.9 1066.8,1656.2 1069.2,1667.1 1071.6,1667.9 1074.0,1668.7 1076.4,1664.8 1078.8,1668.1 1081.2,1651.2 1083.6,1669.8 1086.0,1663.6 1088.4,1667.4 1090.8,1652.1 1093.2,1677.0 1095.6,1647.9 1098.0,1670.9 1100.4,1661.3 1102.8,1672.6 1105.2,1653.3 1107.6,1665.1 1110.0,1653.5 1112.4,1659.2 1114.8,1658.4 1117.2,1662.1 1119.6,1655.4 1122.0,1659.5 1124.4,1657.3 1126.8,1662.8 1129.2,1648.7 1131.6,1661.4 1134.0,1657.2 1136.4,1659.3 1138.8,1655.8 1141.2,1662.3 1143.6,1652.4 1146.0,1662.6 1148.4,1652.2 1150.8,1662.7 1153.2,1651.7 1155.6,1658.3 1158.0,1655.8 1160.4,1659.3 1162.8,1650.6 1165.2,1661.5 1167.6,1652.6 1170.0,1658.3 1172.4,1651.6 1174.8,1660.2 1177.2,1651.7 1179.6,1657.2 1182.0,1651.0 1184.4,1658.7 1186.8,1658.5 1189.2,1657.3 1191.6,1639.0 1194.0,1659.9 1196.4,1652.6 1198.8,1656.8 1201.2,1655.8 1203.6,1651.9 1206.0,1651.3 1208.4,1657.2 1210.8,1648.2 1213.2,1654.5 1215.6,1648.9 1218.0,1653.8 1220.4,1643.1 1222.8,1647.6 1225.2,1653.6 1227.6,1656.5 1230.0,1645.4 1232.4,1655.7 1234.8,1649.8 1237.2,1652.5 1239.6,1644.0 1242.0,1648.2 1244.4,1645.5 1246.8,1649.2 1249.2,1650.0 1251.6,1649.6 1254.0,1632.9 1256.4,1643.4 1258.8,1630.4 1261.2,1646.8 1263.6,1634.3 1266.0,1646.5 1268.4,1635.1 1270.8,1648.0 1273.2,1647.9 1275.6,1645.0 1278.0,1642.9 1280.4,1650.3 1282.8,1643.4 1285.2,1644.2 1287.6,1643.4 1290.0,1650.9 1292.4,1644.2 1294.8,1650.8 1297.2,1641.9 1299.6,1647.9 1302.0,1648.8 1304.4,1650.5 1306.8,1640.6 1309.2,1651.5 1311.6,1646.1 1314.0,1649.1 1316.4,1641.7 1318.8,1647.4 1321.2,1641.0 1323.6,1644.2 1326.0,1644.7 1328.4,1640.9 1330.8,1638.8 1333.2,1649.9 1335.6,1646.8 1338.0,1646.0 1340.4,1637.6 1342.8,1645.8 1345.2,1638.4 1347.6,1637.4 1350.0,1637.7 1352.4,1649.5 1354.8,1638.7 1357.2,1641.7 1359.6,1636.5 1362.0,1640.1 1364.4,1636.6 1366.8,1640.3 1369.2,1633.5 1371.6,1639.6 1374.0,1636.5 1376.4,1638.2 1378.8,1636.3 1381.2,1640.3 1383.6,1635.7 1386.0,1640.2 1388.4,1634.2 1390.8,1640.1 1393.2,1632.5 1395.6,1638.0 1398.0,1638.4 1400.4,1637.3 1402.8,1628.6 1405.2,1640.4 1407.6,1629.6 1410.0,1638.3 1412.4,1630.3 1414.8,1640.0 1417.2,1630.8 1419.6,1645.7 1422.0,1633.9 1424.4,1633.1 1426.8,1629.2 1429.2,1638.7 1431.6,1629.5 1434.0,1624.5 1436.4,1624.7 1438.8,1639.4 1441.2,1621.2 1443.6,1636.0 1446.0,1628.1 1448.4,1640.3 1450.8,1642.3 1453.2,1660.7 1455.6,1667.2 1458.0,1664.5 1460.4,1599.4 1462.8,1669.5 1465.2,1601.0 1467.6,1670.5 1470.0,1603.5 1472.4,1666.9 1474.8,1628.4 1477.2,1670.5 1479.6,1664.5 1482.0,1669.5 1484.4,1590.5 1486.8,1670.4 1489.2,1596.9 1491.6,1672.2 1494.0,1596.9 1496.4,1665.0 1498.8,1599.9 1501.2,1670.8 1503.6,1623.9 1506.0,1670.7 1508.4,1600.7 1510.8,1666.3 1513.2,1595.7 1515.6,1671.7 1518.0,1596.3 1520.4,1670.7 1522.8,1654.6 1525.2,1611.8 1527.6,1599.6 1530.0,1668.9 1532.4,1598.2 1534.8,1606.6 1537.2,1600.7 1539.6,1617.6 1542.0,1596.1 1544.4,1664.3 1546.8,1598.4 1549.2,1665.6 1551.6,1594.1 1554.0,1666.2 1556.4,1656.1 1558.8,1667.4 1561.2,1586.9 1563.6,1666.8 1566.0,1580.8 1568.4,1665.2 1570.8,1590.7 1573.2,1664.5 1575.6,1588.0 1578.0,1641.3 1580.4,1588.3 1582.8,1660.6 1585.2,1639.4 1587.6,1667.8 1590.0,1648.1 1592.4,1661.1 1594.8,1598.5 1597.2,1662.6 1599.6,1605.2" fill="none" stroke="#a800d4" stroke-width="3" stroke-linejoin="round" stroke-linecap="round" marker-start="url(#bsq)" marker-mid="url(#bsq)" marker-end="url(#bsq)"/>
<polyline points="497.6,1763.5 870.2,1677.1 989.2,1665.0 1418.3,1626.2 1453.0,1600.7 1460.1,1603.7 1466.6,1603.0 1481.4,1597.7 1495.9,1596.7 1503.9,1597.0 1516.5,1599.6 1526.0,1600.8 1532.3,1597.0 1538.6,1595.7 1553.5,1589.8 1568.4,1591.1 1580.6,1584.3 1590.8,1599.7 1597.7,1597.3" fill="none" stroke="none" stroke-width="0" stroke-linejoin="round" stroke-linecap="round" marker-start="url(#bsqo)" marker-mid="url(#bsqo)" marker-end="url(#bsqo)"/>
<polygon points="1447.6,1676.2 1451.1,1676.2 1454.6,1676.2 1458.1,1676.2 1461.6,1676.2 1465.1,1676.2 1468.6,1676.2 1472.1,1676.2 1475.6,1676.2 1479.1,1676.2 1482.6,1676.2 1486.1,1676.2 1489.6,1676.2 1493.1,1676.2 1496.6,1676.2 1500.1,1676.2 1503.6,1676.2 1507.1,1676.2 1510.6,1676.2 1514.1,1676.2 1517.6,1676.2 1521.1,1676.2 1524.6,1676.0 1528.1,1675.6 1531.6,1675.3 1535.1,1674.9 1538.6,1674.6 1542.1,1674.2 1545.6,1673.9 1549.1,1673.5 1552.6,1673.2 1556.1,1672.8 1559.6,1672.5 1563.1,1672.1 1566.6,1671.8 1570.1,1671.4 1573.6,1671.8 1577.1,1672.5 1580.6,1673.3 1584.1,1674.0 1587.6,1674.8 1591.1,1675.5 1594.6,1676.3 1594.6,1697.9 1591.1,1701.4 1587.6,1704.9 1584.1,1702.4 1580.6,1696.3 1577.1,1690.2 1573.6,1689.1 1570.1,1689.3 1566.6,1689.5 1563.1,1689.7 1559.6,1689.9 1556.1,1690.1 1552.6,1690.2 1549.1,1690.4 1545.6,1690.5 1542.1,1690.6 1538.6,1690.8 1535.1,1690.9 1531.6,1691.0 1528.1,1691.2 1524.6,1691.3 1521.1,1691.3 1517.6,1691.0 1514.1,1690.6 1510.6,1690.3 1507.1,1689.9 1503.6,1689.6 1500.1,1689.2 1496.6,1689.2 1493.1,1690.7 1489.6,1692.2 1486.1,1693.7 1482.6,1695.2 1479.1,1696.4 1475.6,1696.8 1472.1,1697.1 1468.6,1697.5 1465.1,1697.8 1461.6,1698.2 1458.1,1698.5 1454.6,1698.8 1451.1,1698.8 1447.6,1698.8" fill="#ff0000"/>
<polyline points="1447.6,1681.5 1450.0,1693.1 1452.4,1684.3 1454.8,1694.5 1457.2,1681.2 1459.6,1693.8 1462.0,1679.7 1464.4,1684.2 1466.8,1680.8 1469.2,1692.0 1471.6,1679.8 1474.0,1689.6 1476.4,1680.6 1478.8,1692.7 1481.2,1679.5 1483.6,1689.4 1486.0,1682.5 1488.4,1681.8 1490.8,1680.7 1493.2,1685.6 1495.6,1680.7 1498.0,1680.1 1500.4,1683.6 1502.8,1685.4 1505.2,1684.0 1507.6,1683.3 1510.0,1682.4 1512.4,1687.1 1514.8,1681.0 1517.2,1685.8 1519.6,1679.7 1522.0,1687.9 1524.4,1681.1 1526.8,1680.6 1529.2,1680.9 1531.6,1681.3 1534.0,1687.7 1536.4,1686.6 1538.8,1679.4 1541.2,1686.8 1543.6,1679.6 1546.0,1685.6 1548.4,1684.2 1550.8,1681.3 1553.2,1680.5 1555.6,1686.4 1558.0,1686.3 1560.4,1684.8 1562.8,1678.6 1565.2,1683.8 1567.6,1676.9 1570.0,1684.3 1572.4,1676.1 1574.8,1685.1 1577.2,1678.7 1579.6,1685.5 1582.0,1677.7 1584.4,1698.1 1586.8,1678.6 1589.2,1699.0 1591.6,1682.1 1594.0,1694.7 1596.4,1689.5" fill="none" stroke="#ff0000" stroke-width="3" stroke-linejoin="round" stroke-linecap="round" marker-start="url(#bdi)" marker-mid="url(#bdi)" marker-end="url(#bdi)"/>
<polygon points="374.4,2087.5 377.9,2080.0 381.4,2072.5 384.9,2065.0 388.4,2057.5 391.9,2051.1 395.4,2049.6 398.9,2048.1 402.4,2046.6 405.9,2045.1 409.4,2044.0 412.9,2043.4 416.4,2042.9 419.9,2042.4 423.4,2041.9 426.9,2041.3 430.4,2040.8 433.9,2042.1 437.4,2045.2 440.9,2048.2 444.4,2050.0 447.9,2051.3 451.4,2052.6 454.9,2053.9 458.4,2055.2 461.9,2057.6 465.4,2063.2 468.9,2068.8 472.4,2074.4 475.9,2074.0 479.4,2072.2 482.9,2070.5 486.4,2068.7 489.9,2067.0 493.4,2066.6 496.9,2069.1 500.4,2071.6 503.9,2074.1 507.4,2076.6 510.9,2078.5 514.4,2079.8 517.9,2081.1 521.4,2082.5 524.9,2083.8 528.4,2085.1 531.9,2085.1 535.4,2085.1 538.9,2085.1 542.4,2085.1 545.9,2085.1 549.4,2087.8 552.9,2093.0 556.4,2098.3 559.9,2099.8 563.4,2100.2 566.9,2100.5 570.4,2100.9 573.9,2101.3 577.4,2101.7 580.9,2102.0 584.4,2102.4 587.9,2102.8 591.4,2105.0 594.9,2118.1 598.4,2121.1 601.9,2121.1 605.4,2121.1 608.9,2121.1 612.4,2121.1 615.9,2121.1 619.4,2121.1 622.9,2121.1 626.4,2119.3 629.9,2115.8 633.4,2112.3 636.9,2113.3 640.4,2115.7 643.9,2118.0 647.4,2120.3 650.9,2124.2 654.4,2128.8 657.9,2128.0 661.4,2123.4 664.9,2118.7 668.4,2114.0 671.9,2113.1 675.4,2116.6 678.9,2120.1 682.4,2123.6 685.9,2124.3 689.4,2119.6 692.9,2114.8 696.4,2110.1 699.9,2105.3 703.4,2104.8 706.9,2108.0 710.4,2111.2 713.9,2114.4 717.4,2116.9 720.9,2118.3 724.4,2119.7 727.9,2121.1 731.4,2118.2 734.9,2115.2 738.4,2112.2 741.9,2109.2 745.4,2105.7 748.9,2099.4 752.4,2093.1 755.9,2086.8 759.4,2083.2 762.9,2080.5 766.4,2077.9 769.9,2086.0 773.4,2094.4 776.9,2102.8 780.4,2116.2 783.9,2117.3 787.4,2118.3 790.9,2119.4 794.4,2120.4 797.9,2121.5 801.4,2122.5 804.9,2123.6 808.4,2124.7 811.9,2125.8 815.4,2126.8 818.9,2127.9 822.4,2129.0 825.9,2130.1 829.4,2131.1 832.9,2132.2 836.4,2134.1 839.9,2137.6 843.4,2141.1 846.9,2144.6 850.4,2136.5 853.9,2126.9 857.4,2118.0 860.9,2114.1 864.4,2110.1 867.9,2106.2 871.4,2102.3 874.9,2098.3 878.4,2100.7 881.9,2106.9 885.4,2113.0 888.9,2115.3 892.4,2117.0 895.9,2118.8 899.4,2120.5 902.9,2121.4 906.4,2122.0 909.9,2122.5 913.4,2123.1 916.9,2120.5 920.4,2116.2 923.9,2111.8 927.4,2107.4 930.9,2103.0 934.4,2098.3 937.9,2091.3 941.4,2084.3 944.9,2080.0 948.4,2080.0 951.9,2080.0 955.4,2080.0 958.9,2080.0 962.4,2116.4 965.9,2143.9 969.4,2127.7 972.9,2113.4 976.4,2110.9 979.9,2108.5 983.4,2106.0 986.9,2108.0 990.4,2111.9 993.9,2115.7 997.4,2121.0 1000.9,2130.4 1004.4,2136.8 1007.9,2131.9 1011.4,2127.0 1014.9,2122.1 1018.4,2121.5 1021.9,2122.2 1025.4,2122.9 1028.9,2135.0 1032.4,2144.9 1035.9,2141.0 1039.4,2137.2 1042.9,2134.8 1046.4,2138.0 1049.9,2141.2 1053.4,2144.5 1056.9,2147.4 1060.4,2147.4 1063.9,2147.4 1067.4,2147.4 1070.9,2147.4 1074.4,2140.6 1077.9,2116.1 1081.4,2112.1 1084.9,2110.4 1088.4,2109.2 1091.9,2110.9 1095.4,2112.7 1098.9,2113.1 1102.4,2111.7 1105.9,2110.3 1109.4,2108.9 1112.9,2112.3 1116.4,2115.8 1119.9,2123.8 1123.4,2136.0 1126.9,2137.1 1130.4,2138.3 1133.9,2139.5 1137.4,2139.6 1140.9,2138.3 1144.4,2137.0 1147.9,2139.1 1151.4,2143.1 1154.9,2147.0 1158.4,2148.7 1161.9,2150.1 1165.4,2151.5 1168.9,2156.6 1172.4,2165.9 1175.9,2168.2 1179.4,2160.3 1182.9,2152.5 1186.4,2149.0 1189.9,2147.9 1193.4,2146.7 1196.9,2145.5 1200.4,2135.1 1203.9,2133.1 1207.4,2131.0 1210.9,2129.0 1214.4,2126.9 1217.9,2129.0 1221.4,2131.0 1224.9,2133.1 1228.4,2135.1 1231.9,2149.2 1235.4,2157.0 1238.9,2157.0 1242.4,2157.0 1245.9,2157.0 1249.4,2157.0 1252.9,2157.0 1256.4,2140.6 1259.9,2124.3 1263.4,2122.0 1266.9,2120.6 1270.4,2119.2 1273.9,2123.2 1277.4,2132.6 1280.9,2138.4 1284.4,2139.9 1287.9,2141.4 1291.4,2142.9 1294.9,2144.4 1298.4,2144.3 1301.9,2143.3 1305.4,2142.2 1308.9,2141.2 1312.4,2140.1 1315.9,2139.1 1319.4,2138.0 1322.9,2132.4 1326.4,2125.4 1329.9,2118.4 1333.4,2111.4 1336.9,2108.6 1340.4,2108.2 1343.9,2107.7 1347.4,2107.3 1350.9,2106.9 1354.4,2114.2 1357.9,2145.5 1361.4,2146.7 1364.9,2145.7 1368.4,2141.3 1371.9,2136.9 1375.4,2132.6 1378.9,2128.2 1382.4,2123.8 1385.9,2121.3 1389.4,2118.9 1392.9,2116.6 1396.4,2114.3 1399.9,2113.7 1403.4,2113.7 1406.9,2113.7 1410.4,2120.6 1413.9,2141.6 1417.4,2138.8 1420.9,2134.8 1424.4,2130.8 1427.9,2126.8 1431.4,2123.2 1434.9,2122.3 1438.4,2121.5 1441.9,2121.8 1445.4,2124.0 1448.9,2126.2 1452.4,2128.4 1455.9,2130.5 1459.4,2132.7 1462.9,2151.2 1466.4,2146.3 1469.9,2141.4 1473.4,2136.5 1476.9,2134.9 1480.4,2134.3 1483.9,2133.7 1487.4,2133.2 1490.9,2128.4 1494.4,2121.4 1497.9,2118.5 1501.4,2118.5 1504.9,2118.5 1508.4,2118.5 1511.9,2126.6 1515.4,2142.6 1518.9,2142.6 1522.4,2142.6 1525.9,2142.6 1529.4,2142.6 1532.9,2115.3 1536.4,2108.9 1539.9,2108.9 1543.4,2108.9 1546.9,2108.9 1550.4,2126.9 1553.9,2141.7 1557.4,2149.9 1560.9,2143.4 1564.4,2131.1 1567.9,2118.9 1571.4,2118.0 1574.9,2117.5 1578.4,2117.0 1581.9,2116.5 1585.4,2116.3 1588.9,2117.6 1592.4,2118.9 1595.9,2120.3 1595.9,2140.4 1592.4,2146.2 1588.9,2151.4 1585.4,2156.7 1581.9,2157.5 1578.4,2157.5 1574.9,2157.5 1571.4,2157.5 1567.9,2157.5 1564.4,2157.5 1560.9,2157.5 1557.4,2157.5 1553.9,2157.5 1550.4,2157.5 1546.9,2157.5 1543.4,2157.5 1539.9,2157.5 1536.4,2157.9 1532.9,2162.5 1529.4,2167.0 1525.9,2171.6 1522.4,2168.1 1518.9,2160.5 1515.4,2155.7 1511.9,2152.7 1508.4,2149.7 1504.9,2146.7 1501.4,2143.7 1497.9,2147.5 1494.4,2153.1 1490.9,2158.7 1487.4,2163.2 1483.9,2165.7 1480.4,2168.2 1476.9,2170.7 1473.4,2173.2 1469.9,2173.9 1466.4,2173.1 1462.9,2172.4 1459.4,2171.6 1455.9,2170.8 1452.4,2170.0 1448.9,2167.0 1445.4,2160.0 1441.9,2153.0 1438.4,2150.3 1434.9,2150.3 1431.4,2150.3 1427.9,2150.3 1424.4,2150.3 1420.9,2151.1 1417.4,2152.2 1413.9,2153.2 1410.4,2154.3 1406.9,2155.3 1403.4,2156.4 1399.9,2157.4 1396.4,2160.7 1392.9,2164.2 1389.4,2167.7 1385.9,2169.5 1382.4,2169.5 1378.9,2169.5 1375.4,2169.5 1371.9,2169.9 1368.4,2171.1 1364.9,2172.3 1361.4,2173.4 1357.9,2174.2 1354.4,2173.5 1350.9,2172.8 1347.4,2172.1 1343.9,2158.8 1340.4,2142.5 1336.9,2139.5 1333.4,2141.3 1329.9,2143.0 1326.4,2144.8 1322.9,2146.8 1319.4,2149.0 1315.9,2151.2 1312.4,2153.4 1308.9,2155.6 1305.4,2158.3 1301.9,2165.3 1298.4,2172.3 1294.9,2175.0 1291.4,2170.4 1287.9,2166.7 1284.4,2165.2 1280.9,2163.7 1277.4,2162.2 1273.9,2160.7 1270.4,2159.7 1266.9,2159.3 1263.4,2158.9 1259.9,2158.5 1256.4,2158.2 1252.9,2157.8 1249.4,2158.9 1245.9,2163.6 1242.4,2167.2 1238.9,2167.7 1235.4,2168.1 1231.9,2168.5 1228.4,2169.0 1224.9,2169.4 1221.4,2160.3 1217.9,2152.4 1214.4,2151.5 1210.9,2150.6 1207.4,2149.7 1203.9,2148.9 1200.4,2148.0 1196.9,2154.3 1193.4,2157.8 1189.9,2161.3 1186.4,2164.8 1182.9,2167.3 1179.4,2167.7 1175.9,2168.2 1172.4,2168.6 1168.9,2169.0 1165.4,2169.5 1161.9,2165.7 1158.4,2161.2 1154.9,2156.7 1151.4,2152.2 1147.9,2147.9 1144.4,2148.2 1140.9,2148.6 1137.4,2148.9 1133.9,2149.3 1130.4,2149.6 1126.9,2150.0 1123.4,2150.9 1119.9,2155.1 1116.4,2159.3 1112.9,2163.5 1109.4,2161.2 1105.9,2156.3 1102.4,2151.4 1098.9,2147.9 1095.4,2147.9 1091.9,2147.9 1088.4,2147.9 1084.9,2147.9 1081.4,2147.9 1077.9,2148.2 1074.4,2151.7 1070.9,2155.2 1067.4,2158.7 1063.9,2162.2 1060.4,2165.7 1056.9,2164.3 1053.4,2159.6 1049.9,2155.0 1046.4,2150.3 1042.9,2147.7 1039.4,2147.2 1035.9,2146.8 1032.4,2146.4 1028.9,2145.9 1025.4,2145.5 1021.9,2145.0 1018.4,2144.6 1014.9,2144.2 1011.4,2143.7 1007.9,2143.3 1004.4,2144.7 1000.9,2148.2 997.4,2151.7 993.9,2149.7 990.4,2145.6 986.9,2141.5 983.4,2137.4 979.9,2137.5 976.4,2140.3 972.9,2143.1 969.4,2145.2 965.9,2143.9 962.4,2142.2 958.9,2140.7 955.4,2139.2 951.9,2135.7 948.4,2128.7 944.9,2121.7 941.4,2122.2 937.9,2127.5 934.4,2132.7 930.9,2134.3 927.4,2135.4 923.9,2136.4 920.4,2137.5 916.9,2138.5 913.4,2139.6 909.9,2140.6 906.4,2139.1 902.9,2137.6 899.4,2136.0 895.9,2134.5 892.4,2132.9 888.9,2131.3 885.4,2129.0 881.9,2126.5 878.4,2124.0 874.9,2121.5 871.4,2119.0 867.9,2130.6 864.4,2142.3 860.9,2144.5 857.4,2146.1 853.9,2147.6 850.4,2149.2 846.9,2150.7 843.4,2152.3 839.9,2149.4 836.4,2145.0 832.9,2140.7 829.4,2141.2 825.9,2141.7 822.4,2142.2 818.9,2142.7 815.4,2142.8 811.9,2141.2 808.4,2139.7 804.9,2138.1 801.4,2136.6 797.9,2135.0 794.4,2133.4 790.9,2131.1 787.4,2128.8 783.9,2126.4 780.4,2124.1 776.9,2131.4 773.4,2132.5 769.9,2133.7 766.4,2134.9 762.9,2133.8 759.4,2128.6 755.9,2123.3 752.4,2122.2 748.9,2124.0 745.4,2125.7 741.9,2134.8 738.4,2145.3 734.9,2149.6 731.4,2152.0 727.9,2154.5 724.4,2154.8 720.9,2150.9 717.4,2147.1 713.9,2143.2 710.4,2140.3 706.9,2137.5 703.4,2134.7 699.9,2134.5 696.4,2137.1 692.9,2139.7 689.4,2142.3 685.9,2143.1 682.4,2140.5 678.9,2137.9 675.4,2135.3 671.9,2133.9 668.4,2137.1 664.9,2140.4 661.4,2143.6 657.9,2146.4 654.4,2146.2 650.9,2146.0 647.4,2145.8 643.9,2145.6 640.4,2145.3 636.9,2143.1 633.4,2139.6 629.9,2136.1 626.4,2133.7 622.9,2136.5 619.4,2139.3 615.9,2142.1 612.4,2142.5 608.9,2141.9 605.4,2141.4 601.9,2140.8 598.4,2140.3 594.9,2139.8 591.4,2139.2 587.9,2138.7 584.4,2138.1 580.9,2133.6 577.4,2128.0 573.9,2122.4 570.4,2118.2 566.9,2116.4 563.4,2114.7 559.9,2112.9 556.4,2111.2 552.9,2109.4 549.4,2106.2 545.9,2102.7 542.4,2099.2 538.9,2097.4 535.4,2098.1 531.9,2098.8 528.4,2099.5 524.9,2100.2 521.4,2100.9 517.9,2101.6 514.4,2100.9 510.9,2098.9 507.4,2096.9 503.9,2094.9 500.4,2092.9 496.9,2092.3 493.4,2092.3 489.9,2092.3 486.4,2092.3 482.9,2092.3 479.4,2092.1 475.9,2091.1 472.4,2090.1 468.9,2089.1 465.4,2088.1 461.9,2086.4 458.4,2083.8 454.9,2081.1 451.4,2078.5 447.9,2075.9 444.4,2073.3 440.9,2069.8 437.4,2066.3 433.9,2062.8 430.4,2059.7 426.9,2056.9 423.4,2054.1 419.9,2051.6 416.4,2053.8 412.9,2056.0 409.4,2058.2 405.9,2060.5 402.4,2062.7 398.9,2064.9 395.4,2067.2 391.9,2076.4 388.4,2092.7 384.9,2102.6 381.4,2104.0 377.9,2105.4 374.4,2106.8" fill="#000000"/>
<polyline points="374.4,2086.3 377.0,2106.4 378.3,2092.1 379.6,2077.7 380.9,2091.1 382.2,2104.5 382.9,2091.5 383.5,2078.6 384.2,2065.6 384.8,2052.6 385.5,2066.3 386.1,2080.0 386.8,2093.7 387.4,2107.4 388.1,2093.8 388.7,2080.2 389.4,2066.6 390.0,2053.1 392.6,2073.0 395.2,2048.2 397.8,2067.2 400.4,2061.8 403.0,2071.1 405.6,2053.4 408.2,2060.4 410.8,2044.2 413.4,2055.5 416.0,2051.6 418.6,2054.3 421.2,2041.9 423.8,2050.2 426.4,2032.6 429.0,2057.6 431.6,2042.1 434.2,2064.0 436.8,2044.8 439.4,2068.5 442.0,2050.9 444.6,2073.5 447.2,2050.6 448.5,2063.7 449.8,2076.8 452.4,2071.9 455.0,2081.9 457.6,2056.8 460.2,2058.8 462.8,2057.8 464.1,2072.3 465.4,2086.8 468.0,2075.7 470.6,2089.5 473.2,2073.8 475.8,2092.3 476.7,2079.7 477.6,2067.0 478.4,2054.3 479.3,2067.4 480.2,2080.5 481.0,2093.7 483.6,2068.2 486.2,2092.8 488.8,2094.2 491.4,2091.9 494.0,2067.0 495.3,2080.1 496.6,2093.1 499.2,2072.3 500.5,2088.6 501.8,2104.8 503.1,2090.6 504.4,2076.5 507.0,2075.1 509.6,2078.4 512.2,2083.3 514.8,2099.7 517.4,2103.6 520.0,2083.8 522.6,2099.6 525.2,2084.5 527.8,2098.5 530.4,2094.6 533.0,2099.8 535.6,2083.8 538.2,2096.8 540.8,2091.4 543.4,2101.7 546.0,2085.1 548.6,2105.6 551.2,2091.1 552.5,2104.0 553.8,2116.9 556.4,2096.8 559.0,2110.7 560.3,2095.0 561.6,2079.3 562.5,2091.5 563.4,2103.7 564.2,2115.9 566.8,2102.3 569.4,2118.7 572.0,2111.5 574.6,2111.7 577.2,2119.6 579.8,2132.0 581.1,2117.2 582.4,2102.5 583.3,2115.5 584.2,2128.6 585.0,2141.7 587.6,2121.2 590.2,2136.4 591.5,2123.4 592.8,2110.3 594.1,2124.7 595.4,2139.0 598.0,2119.9 600.6,2126.1 603.2,2124.9 605.8,2125.3 608.4,2119.2 611.0,2141.5 613.6,2120.3 616.2,2143.8 618.8,2120.3 621.4,2137.4 624.0,2123.8 626.6,2128.9 629.2,2114.7 631.8,2138.4 634.4,2141.3 637.0,2143.0 639.6,2137.2 642.2,2144.9 643.5,2131.9 644.8,2119.0 647.4,2144.2 650.0,2123.3 652.6,2148.0 655.2,2131.4 656.5,2144.7 657.8,2158.0 659.1,2142.5 660.4,2126.9 663.0,2143.9 664.3,2130.0 665.6,2116.1 668.2,2139.3 669.5,2124.7 670.8,2110.2 673.4,2133.0 674.3,2119.7 675.2,2106.5 676.0,2093.2 676.9,2108.6 677.8,2124.0 678.6,2139.5 681.2,2127.3 683.8,2143.3 686.4,2122.9 689.0,2142.6 691.6,2117.2 694.2,2131.1 696.8,2108.4 699.4,2133.2 700.7,2117.4 702.0,2101.5 704.6,2104.5 707.2,2106.7 708.5,2122.7 709.8,2138.8 712.4,2137.7 715.0,2144.5 716.3,2131.5 717.6,2118.6 718.9,2133.1 720.2,2147.6 721.5,2133.0 722.8,2118.3 723.7,2131.3 724.6,2144.3 725.4,2157.3 728.0,2143.2 730.6,2120.9 733.2,2117.0 734.1,2132.7 735.0,2148.4 735.8,2164.1 736.7,2147.3 737.6,2130.5 738.4,2113.7 739.3,2127.6 740.2,2141.4 741.0,2155.3 741.9,2139.3 742.8,2123.2 743.6,2107.2 746.2,2126.0 747.5,2112.3 748.8,2098.6 751.4,2122.5 754.0,2107.5 755.3,2121.9 756.6,2136.3 757.3,2122.7 757.9,2109.1 758.6,2095.5 759.2,2081.8 759.9,2094.6 760.5,2107.4 761.2,2120.2 761.8,2132.9 762.5,2119.6 763.1,2106.4 763.8,2093.1 764.4,2079.8 765.1,2093.4 765.7,2107.0 766.4,2120.7 767.0,2134.3 767.9,2117.7 768.8,2101.0 769.6,2084.3 770.5,2100.2 771.4,2116.1 772.2,2132.0 773.5,2116.0 774.8,2099.9 777.4,2124.5 778.7,2108.5 780.0,2092.5 781.3,2108.1 782.6,2123.8 785.2,2122.2 787.8,2129.4 790.4,2120.7 793.0,2133.5 795.6,2119.6 798.2,2135.0 800.8,2117.6 803.4,2121.5 806.0,2122.0 808.6,2138.6 811.2,2123.9 813.8,2143.4 816.4,2127.6 819.0,2128.6 821.6,2127.1 824.2,2140.6 826.8,2137.6 829.4,2154.7 832.0,2142.4 834.6,2159.4 837.2,2135.9 839.8,2137.8 842.4,2138.4 845.0,2153.3 847.6,2143.0 850.2,2137.9 852.8,2132.0 855.4,2143.9 856.7,2130.3 858.0,2116.7 859.3,2130.9 860.6,2145.1 863.2,2139.2 864.5,2126.3 865.8,2113.5 868.4,2104.6 871.0,2121.8 873.6,2099.4 876.2,2115.2 878.8,2112.4 881.4,2130.6 884.0,2118.6 886.6,2129.5 889.2,2131.3 891.8,2133.0 894.4,2117.3 897.0,2133.4 899.6,2120.8 902.2,2136.5 904.8,2122.4 905.7,2136.3 906.6,2150.3 907.4,2164.2 908.3,2150.6 909.2,2137.0 910.0,2123.4 912.6,2141.1 915.2,2123.1 917.8,2140.1 920.4,2117.4 923.0,2130.6 925.6,2111.1 928.2,2136.0 929.5,2119.8 930.8,2103.6 932.1,2119.0 933.4,2134.3 934.3,2121.0 935.2,2107.6 936.0,2094.2 937.3,2111.0 938.6,2127.8 939.5,2114.1 940.4,2100.5 941.2,2086.8 941.9,2101.4 942.5,2115.9 943.2,2130.5 943.8,2145.1 944.5,2128.7 945.1,2112.3 945.8,2095.9 946.4,2079.6 947.3,2095.7 948.2,2111.9 949.0,2128.1 949.9,2111.5 950.8,2094.9 951.6,2078.3 952.2,2094.8 952.7,2111.3 953.2,2127.8 953.7,2144.3 954.2,2160.8 954.8,2144.8 955.3,2128.7 955.8,2112.7 956.3,2096.7 956.8,2080.6 957.7,2097.6 958.6,2114.5 959.4,2131.5 962.0,2121.5 962.9,2133.3 963.8,2145.1 964.6,2157.0 967.2,2136.1 969.8,2146.1 971.1,2129.1 972.4,2112.2 973.7,2127.3 975.0,2142.4 976.3,2125.4 977.6,2108.4 980.2,2123.9 982.8,2105.5 983.7,2118.1 984.6,2130.7 985.4,2143.4 986.7,2127.5 988.0,2111.6 990.6,2118.3 993.2,2114.9 994.1,2126.6 995.0,2138.2 995.8,2149.9 997.1,2136.1 998.4,2122.2 999.7,2135.5 1001.0,2148.8 1003.6,2136.3 1006.2,2138.2 1008.8,2129.9 1011.4,2143.2 1014.0,2125.9 1016.6,2142.1 1019.2,2120.6 1020.5,2133.8 1021.8,2146.9 1024.4,2140.4 1027.0,2142.7 1029.6,2141.0 1032.2,2148.1 1034.8,2141.2 1037.4,2146.2 1040.0,2137.7 1042.6,2146.1 1045.2,2136.5 1047.8,2153.8 1050.4,2143.4 1053.0,2159.6 1055.6,2163.5 1058.2,2149.9 1060.8,2147.0 1063.4,2146.2 1066.0,2153.9 1068.6,2157.3 1071.2,2147.7 1073.8,2166.4 1074.7,2152.5 1075.6,2138.6 1076.4,2124.7 1079.0,2146.7 1079.9,2134.5 1080.8,2122.3 1081.6,2110.1 1082.5,2122.7 1083.4,2135.3 1084.2,2147.9 1086.8,2136.1 1089.4,2146.6 1090.7,2130.3 1092.0,2114.0 1092.9,2129.3 1093.8,2144.5 1094.6,2159.8 1095.5,2144.3 1096.4,2128.8 1097.2,2113.4 1098.1,2125.0 1099.0,2136.6 1099.8,2148.3 1100.7,2136.1 1101.6,2124.0 1102.4,2111.9 1103.3,2126.3 1104.2,2140.8 1105.0,2155.2 1105.9,2140.7 1106.8,2126.2 1107.6,2111.7 1108.5,2128.2 1109.4,2144.6 1110.2,2161.1 1111.1,2149.7 1112.0,2138.3 1112.8,2126.9 1115.4,2148.9 1118.0,2132.8 1120.6,2153.6 1121.5,2141.4 1122.4,2129.2 1123.2,2117.0 1124.1,2128.6 1125.0,2140.2 1125.8,2151.8 1127.1,2136.4 1128.4,2121.0 1131.0,2140.4 1133.6,2137.8 1136.2,2149.2 1138.8,2144.1 1141.4,2147.8 1144.0,2147.9 1146.6,2140.9 1149.2,2136.4 1151.8,2147.4 1154.4,2145.2 1157.0,2159.6 1159.6,2148.2 1160.5,2160.1 1161.4,2172.1 1162.2,2184.0 1164.8,2171.5 1167.4,2170.4 1168.7,2154.8 1170.0,2139.2 1171.3,2154.3 1172.6,2169.4 1175.2,2167.7 1177.8,2168.8 1179.1,2155.0 1180.4,2141.2 1183.0,2164.1 1185.6,2148.1 1188.2,2161.7 1190.8,2148.8 1193.4,2157.5 1196.0,2145.3 1198.6,2152.6 1201.2,2135.5 1203.8,2147.5 1206.4,2131.6 1209.0,2128.5 1211.6,2128.7 1214.2,2152.2 1216.8,2126.8 1219.4,2146.6 1222.0,2133.7 1222.9,2145.7 1223.8,2157.8 1224.6,2169.9 1227.2,2157.1 1229.8,2146.9 1232.4,2153.0 1235.0,2168.9 1237.6,2165.9 1240.2,2169.3 1242.8,2165.7 1245.4,2158.1 1248.0,2156.0 1250.6,2158.2 1253.2,2155.0 1255.8,2166.2 1257.1,2150.2 1258.4,2134.1 1261.0,2157.6 1261.9,2145.1 1262.8,2132.6 1263.6,2120.1 1264.5,2132.8 1265.4,2145.4 1266.2,2158.1 1267.1,2143.9 1268.0,2129.8 1268.8,2115.6 1269.5,2130.5 1270.1,2145.4 1270.8,2160.3 1271.4,2175.2 1272.1,2159.1 1272.7,2143.0 1273.4,2126.9 1274.0,2110.8 1274.9,2127.5 1275.8,2144.2 1276.6,2161.0 1277.5,2147.3 1278.4,2133.7 1279.2,2120.0 1280.5,2135.4 1281.8,2150.7 1284.4,2141.9 1287.0,2160.6 1289.6,2167.9 1292.2,2173.4 1293.5,2159.3 1294.8,2145.2 1295.7,2161.9 1296.6,2178.7 1297.4,2195.4 1298.3,2179.4 1299.2,2163.5 1300.0,2147.5 1302.6,2159.7 1305.2,2143.0 1307.8,2165.4 1310.4,2146.3 1313.0,2152.3 1315.6,2138.8 1318.2,2151.2 1320.8,2134.8 1323.4,2159.8 1324.3,2148.4 1325.2,2137.0 1326.0,2125.6 1328.6,2145.2 1329.9,2131.1 1331.2,2117.0 1332.1,2133.8 1333.0,2150.6 1333.8,2167.4 1334.7,2151.9 1335.6,2136.5 1336.4,2121.0 1339.0,2139.4 1340.3,2122.7 1341.6,2106.1 1342.3,2119.8 1342.9,2133.5 1343.6,2147.2 1344.2,2160.9 1344.9,2147.8 1345.5,2134.7 1346.2,2121.6 1346.8,2108.5 1349.4,2122.4 1352.0,2124.2 1352.7,2137.3 1353.3,2150.4 1354.0,2163.5 1354.6,2176.6 1355.9,2161.6 1357.2,2146.6 1358.5,2160.4 1359.8,2174.2 1361.1,2160.8 1362.4,2147.4 1365.0,2172.0 1366.3,2158.3 1367.6,2144.7 1368.9,2158.0 1370.2,2171.4 1371.1,2158.9 1372.0,2146.4 1372.8,2133.9 1375.4,2157.4 1376.7,2143.1 1378.0,2128.8 1378.9,2141.9 1379.8,2155.1 1380.6,2168.2 1381.9,2151.8 1383.2,2135.4 1384.5,2152.3 1385.8,2169.2 1386.7,2152.5 1387.6,2135.8 1388.4,2119.1 1391.0,2137.8 1393.6,2116.1 1396.2,2137.8 1397.1,2122.0 1398.0,2106.3 1398.8,2090.5 1399.3,2105.1 1399.7,2119.6 1400.1,2134.2 1400.6,2148.7 1401.0,2163.2 1401.4,2177.8 1402.1,2161.9 1402.7,2146.0 1403.4,2130.2 1404.0,2114.3 1404.9,2127.5 1405.8,2140.7 1406.6,2154.0 1409.2,2146.8 1411.8,2150.2 1414.4,2154.6 1417.0,2154.0 1419.6,2135.6 1420.5,2149.0 1421.4,2162.3 1422.2,2175.7 1423.1,2160.6 1424.0,2145.6 1424.8,2130.6 1425.7,2143.7 1426.6,2156.9 1427.4,2170.0 1428.7,2154.9 1430.0,2139.8 1432.6,2151.5 1433.9,2137.8 1435.2,2124.2 1437.8,2120.7 1440.4,2121.3 1441.3,2132.9 1442.2,2144.5 1443.0,2156.1 1445.6,2147.8 1448.2,2163.6 1449.1,2151.0 1450.0,2138.4 1450.8,2125.7 1452.1,2140.3 1453.4,2154.9 1456.0,2130.0 1456.9,2143.9 1457.8,2157.7 1458.6,2171.6 1461.2,2169.2 1463.8,2172.2 1466.4,2153.0 1469.0,2172.6 1470.3,2156.6 1471.6,2140.5 1472.9,2156.0 1474.2,2171.6 1475.1,2159.0 1476.0,2146.4 1476.8,2133.8 1477.7,2145.5 1478.6,2157.1 1479.4,2168.8 1480.7,2154.4 1482.0,2140.0 1483.3,2153.5 1484.6,2167.0 1485.9,2151.1 1487.2,2135.2 1489.8,2133.0 1492.4,2124.4 1493.3,2137.1 1494.2,2149.8 1495.0,2162.6 1495.7,2147.5 1496.3,2132.4 1497.0,2117.2 1497.6,2102.1 1498.9,2118.0 1500.2,2133.9 1502.8,2117.8 1505.4,2128.5 1506.7,2114.9 1508.0,2101.2 1510.6,2124.8 1513.2,2131.5 1514.1,2143.8 1515.0,2156.0 1515.8,2168.2 1516.7,2155.9 1517.6,2143.6 1518.4,2131.2 1519.3,2143.0 1520.2,2154.8 1521.0,2166.7 1523.6,2143.3 1524.9,2158.1 1526.2,2172.9 1527.5,2156.8 1528.8,2140.6 1531.4,2166.0 1532.1,2152.4 1532.7,2138.8 1533.4,2125.2 1534.0,2111.6 1534.9,2126.3 1535.8,2140.9 1536.6,2155.6 1537.3,2138.7 1537.9,2121.8 1538.6,2104.9 1539.2,2088.0 1539.8,2102.2 1540.3,2116.4 1540.8,2130.6 1541.3,2144.9 1541.8,2159.1 1542.7,2143.2 1543.6,2127.3 1544.4,2111.4 1545.0,2125.2 1545.5,2138.9 1546.0,2152.7 1546.5,2166.5 1547.0,2180.2 1547.7,2165.3 1548.3,2150.4 1549.0,2135.4 1549.6,2120.5 1550.9,2133.5 1552.2,2146.6 1553.5,2133.3 1554.8,2120.1 1556.1,2135.5 1557.4,2150.8 1560.0,2145.0 1562.6,2158.5 1563.9,2144.3 1565.2,2130.2 1567.8,2155.6 1568.7,2142.7 1569.6,2129.8 1570.4,2116.9 1571.3,2130.8 1572.2,2144.7 1573.0,2158.6 1575.6,2133.7 1578.2,2145.4 1580.8,2151.3 1583.4,2155.0 1584.3,2142.9 1585.2,2130.9 1586.0,2118.8 1587.3,2134.3 1588.6,2149.7 1589.3,2136.6 1589.9,2123.5 1590.6,2110.4 1591.2,2097.3 1593.8,2121.0 1596.4,2119.7" fill="none" stroke="#000000" stroke-width="4" stroke-linejoin="round" stroke-linecap="round" marker-start="url(#bci)" marker-mid="url(#bci)" marker-end="url(#bci)"/>
<polygon points="391.3,1989.5 394.8,1985.4 398.3,1981.3 401.8,1980.9 405.3,1980.7 408.8,1980.5 412.3,1980.3 415.8,1980.1 419.3,1979.9 422.8,1979.8 426.3,1979.6 429.8,1979.4 433.3,1979.2 436.8,1979.0 440.3,1978.8 443.8,1978.7 447.3,1978.9 450.8,1979.1 454.3,1979.4 457.8,1979.7 461.3,1979.9 464.8,1980.2 468.3,1980.5 471.8,1980.8 475.3,1981.0 478.8,1983.8 482.3,1986.7 485.8,1985.5 489.3,1983.8 492.8,1983.4 496.3,1983.4 499.8,1983.4 503.3,1983.4 506.8,1990.4 510.3,2000.3 513.8,2003.9 517.3,2003.9 520.8,2003.9 524.3,2003.9 527.8,2003.9 531.3,1996.7 534.8,1991.8 538.3,1991.6 541.8,1991.5 545.3,1991.3 548.8,1991.1 552.3,1991.0 555.8,1990.8 559.3,1990.6 562.8,1990.5 566.3,1990.3 569.8,1990.1 573.3,1990.0 576.8,1989.8 580.3,1989.6 583.8,1989.6 587.3,1998.4 590.8,2003.7 594.3,2007.2 597.8,2010.7 601.3,2015.3 604.8,2019.9 608.3,2020.7 611.8,2020.7 615.3,2020.7 618.8,2020.7 622.3,2020.7 625.8,2020.7 629.3,2020.7 632.8,2023.1 636.3,2031.9 639.8,2031.6 643.3,2030.3 646.8,2029.2 650.3,2029.2 653.8,2029.2 657.3,2029.2 660.8,2029.2 664.3,2029.2 667.8,2029.2 671.3,2029.2 674.8,2029.2 678.3,2029.2 681.8,2029.2 685.3,2029.2 688.8,2029.2 692.3,2023.0 695.8,2015.2 699.3,2007.5 702.8,2007.5 706.3,2007.5 709.8,2007.5 713.3,2007.5 716.8,2009.2 720.3,2017.1 723.8,2021.3 727.3,2024.8 730.8,2028.3 734.3,2031.8 737.8,2032.8 741.3,2032.8 744.8,2032.8 748.3,2032.8 751.8,2032.8 755.3,2032.8 758.8,2032.8 762.3,2032.8 765.8,2032.8 769.3,2032.8 772.8,2032.8 776.3,2032.8 779.8,2032.8 783.3,2032.8 786.8,2032.8 790.3,2032.8 793.8,2032.8 797.3,2032.8 800.8,2032.8 804.3,2032.8 807.8,2032.8 811.3,2032.8 814.8,2032.8 818.3,2032.8 821.8,2032.8 825.3,2032.8 828.8,2032.8 832.3,2032.8 835.8,2032.8 839.3,2032.8 842.8,2032.8 846.3,2032.8 849.8,2032.8 853.3,2032.8 856.8,2032.8 860.3,2032.8 863.8,2032.8 867.3,2032.8 870.8,2032.8 874.3,2032.8 877.8,2032.8 881.3,2032.8 884.8,2032.8 888.3,2032.8 888.3,2065.0 884.8,2066.5 881.3,2068.0 877.8,2069.4 874.3,2071.5 870.8,2074.0 867.3,2076.5 863.8,2079.0 860.3,2081.5 856.8,2081.3 853.3,2080.3 849.8,2079.3 846.3,2078.3 842.8,2077.3 839.3,2072.4 835.8,2067.1 832.3,2063.1 828.8,2064.2 825.3,2065.4 821.8,2066.6 818.3,2068.0 814.8,2074.2 811.3,2080.3 807.8,2084.5 804.3,2084.5 800.8,2084.5 797.3,2084.5 793.8,2084.5 790.3,2082.0 786.8,2077.1 783.3,2072.2 779.8,2068.0 776.3,2070.1 772.8,2070.1 769.3,2070.1 765.8,2070.1 762.3,2070.1 758.8,2070.1 755.3,2070.1 751.8,2071.4 748.3,2073.2 744.8,2074.9 741.3,2076.7 737.8,2076.9 734.3,2076.3 730.8,2075.7 727.3,2075.1 723.8,2074.6 720.3,2074.0 716.8,2073.4 713.3,2072.8 709.8,2072.2 706.3,2071.6 702.8,2071.1 699.3,2070.5 695.8,2070.0 692.3,2069.8 688.8,2069.7 685.3,2069.5 681.8,2069.3 678.3,2069.1 674.8,2069.0 671.3,2068.8 667.8,2068.6 664.3,2068.4 660.8,2068.3 657.3,2068.1 653.8,2067.9 650.3,2067.7 646.8,2068.9 643.3,2071.2 639.8,2073.6 636.3,2075.9 632.8,2077.3 629.3,2077.3 625.8,2077.3 622.3,2077.3 618.8,2075.2 615.3,2068.2 611.8,2061.2 608.3,2058.0 604.8,2058.0 601.3,2058.0 597.8,2058.0 594.3,2058.0 590.8,2057.8 587.3,2053.2 583.8,2048.5 580.3,2042.9 576.8,2037.3 573.3,2031.7 569.8,2029.0 566.3,2028.6 562.8,2028.3 559.3,2027.9 555.8,2027.6 552.3,2027.2 548.8,2026.9 545.3,2027.9 541.8,2029.7 538.3,2031.4 534.8,2033.2 531.3,2036.4 527.8,2040.8 524.3,2045.1 520.8,2046.0 517.3,2046.0 513.8,2046.0 510.3,2046.0 506.8,2041.9 503.3,2035.7 499.8,2029.6 496.3,2024.3 492.8,2019.0 489.3,2015.0 485.8,2016.8 482.3,2018.5 478.8,2019.5 475.3,2019.5 471.8,2019.5 468.3,2019.5 464.8,2019.5 461.3,2019.5 457.8,2018.4 454.3,2013.7 450.8,2010.7 447.3,2015.1 443.8,2019.5 440.3,2021.9 436.8,2021.9 433.3,2021.9 429.8,2021.9 426.3,2021.9 422.8,2021.9 419.3,2021.4 415.8,2019.4 412.3,2017.4 408.8,2015.3 405.3,2013.3 401.8,2011.2 398.3,2009.2 394.8,2007.2 391.3,2005.1" fill="#ff6a00"/>
<polyline points="391.3,1991.5 393.3,2002.5 395.3,1991.2 397.3,2004.8 399.3,2004.3 401.3,2007.0 403.3,1984.2 405.3,2010.8 407.3,1986.0 409.3,2011.2 411.3,1985.3 413.3,2013.9 415.3,1986.5 417.3,1986.3 419.3,1982.6 421.3,2017.5 423.3,1984.1 425.3,2018.1 427.3,1985.8 429.3,2019.5 431.3,2000.3 433.3,2014.9 435.3,2015.8 437.3,2019.0 439.3,1983.3 441.3,2016.5 443.3,1984.2 445.3,1992.3 447.3,1983.2 449.3,2006.4 451.3,1984.1 453.3,2000.8 455.3,1983.8 457.3,2014.2 459.3,1985.9 461.3,2015.6 463.3,1988.2 465.3,2011.7 467.3,1984.4 469.3,2017.0 471.3,1986.0 473.3,2015.2 475.3,2005.7 477.3,2013.6 479.3,1990.7 481.3,2014.7 483.3,1989.9 485.3,2013.6 487.3,1990.0 489.3,2010.6 491.3,1986.8 493.3,2017.1 495.3,1986.0 497.3,2021.0 499.3,1988.7 501.3,2029.3 503.3,1986.4 505.3,2035.0 507.3,1996.7 509.3,2040.4 511.3,2010.7 513.3,2018.6 515.3,2006.9 517.3,2040.3 519.3,2006.3 521.3,2041.7 523.3,2009.7 525.3,2039.8 527.3,2011.5 529.3,2028.9 531.3,2002.6 533.3,2030.0 535.3,1994.8 537.3,2029.2 539.3,1995.2 541.3,2027.0 543.3,1994.3 545.3,2022.0 547.3,1995.8 549.3,2020.7 551.3,1995.4 553.3,2020.7 555.3,1997.2 557.3,2000.2 559.3,1994.0 561.3,2025.3 563.3,1993.9 565.3,2019.8 567.3,1993.2 569.3,2021.2 571.3,1996.7 573.3,2026.0 575.3,2006.4 577.3,2033.0 579.3,1993.6 581.3,2036.9 583.3,1991.6 585.3,2044.7 587.3,2001.5 589.3,2023.5 591.3,2011.1 593.3,2054.0 595.3,2011.1 597.3,2050.7 599.3,2038.9 601.3,2053.1 603.3,2023.0 605.3,2053.2 607.3,2028.3 609.3,2049.3 611.3,2025.0 613.3,2058.3 615.3,2023.4 617.3,2043.8 619.3,2025.1 621.3,2073.0 623.3,2027.2 625.3,2074.3 627.3,2023.3 629.3,2074.5 631.3,2023.5 633.3,2074.5 635.3,2036.4 637.3,2047.4 639.3,2036.0 641.3,2066.2 643.3,2036.2 645.3,2066.5 647.3,2034.6 649.3,2060.7 651.3,2032.0 653.3,2065.9 655.3,2031.6 657.3,2065.6 659.3,2059.1 661.3,2064.6 663.3,2034.0 665.3,2062.2 667.3,2036.9 669.3,2061.9 671.3,2031.4 673.3,2064.7 675.3,2036.5 677.3,2063.8 679.3,2034.3 681.3,2066.0 683.3,2036.2 685.3,2066.4 687.3,2042.0 689.3,2062.3 691.3,2027.3 693.3,2053.0 695.3,2023.5 697.3,2067.4 699.3,2040.0 701.3,2063.0 703.3,2024.7 705.3,2065.2 707.3,2066.3 709.3,2064.2 711.3,2010.0 713.3,2055.9 715.3,2053.8 717.3,2046.3 719.3,2018.3 721.3,2071.1 723.3,2066.5 725.3,2071.9 727.3,2029.0 729.3,2054.7 731.3,2034.3 733.3,2073.3 735.3,2036.4 737.3,2070.1 739.3,2036.9 741.3,2071.1 743.3,2047.8 745.3,2071.2 747.3,2035.7 749.3,2069.8 751.3,2048.8 753.3,2063.1 755.3,2043.3 757.3,2064.1 759.3,2037.0 761.3,2065.3 763.3,2039.5 765.3,2065.7 767.3,2036.0 769.3,2062.7 771.3,2043.6 773.3,2063.1 775.3,2037.8 777.3,2039.5 779.3,2034.9 781.3,2067.3 783.3,2040.2 785.3,2072.8 787.3,2037.7 789.3,2077.0 791.3,2036.5 793.3,2078.0 795.3,2035.8 797.3,2055.9 799.3,2036.1 801.3,2078.6 803.3,2035.3 805.3,2065.3 807.3,2037.2 809.3,2053.6 811.3,2046.1 813.3,2071.0 815.3,2039.6 817.3,2065.2 819.3,2038.1 821.3,2060.5 823.3,2034.9 825.3,2054.4 827.3,2037.7 829.3,2061.2 831.3,2035.5 833.3,2061.2 835.3,2036.8 837.3,2066.8 839.3,2035.5 841.3,2072.1 843.3,2046.0 845.3,2035.9 847.3,2072.1 849.3,2074.0 851.3,2036.0 853.3,2075.1 855.3,2035.5 857.3,2078.4 859.3,2056.8 861.3,2072.8 863.3,2036.9 865.3,2072.3 867.3,2040.4 869.3,2049.2 871.3,2037.6 873.3,2070.0 875.3,2038.7 877.3,2067.0 879.3,2035.3 881.3,2063.0 883.3,2035.8 885.3,2058.7 887.3,2036.9" fill="none" stroke="#ff6a00" stroke-width="4" stroke-linejoin="round" stroke-linecap="round" marker-start="url(#bx)" marker-mid="url(#bx)" marker-end="url(#bx)"/>
</g>
<g id="panel-b-legend">
<line x1="1682.0" y1="2062.0" x2="1806.0" y2="2062.0" stroke="#9870a8" stroke-width="2.6"/>
<rect x="1719.7" y="2038.5" width="47.0" height="47.0" fill="none" stroke="#9040a8" stroke-width="4.5"/>
<text x="1843.5" y="2079.3" font-size="48" fill="#3a3a3a">0.001 s<tspan font-size="26.9" dx="0.5" dy="-17.3">-1</tspan></text>
<line x1="1682.0" y1="2131.3" x2="1806.0" y2="2131.3" stroke="#f0b4b4" stroke-width="3"/>
<path d="M1743.2 2105.8L1768.7 2131.3L1743.2 2156.8L1717.7 2131.3Z" fill="#ff0000"/>
<text x="1843.5" y="2148.6" font-size="48" fill="#3a3a3a">0.01 s<tspan font-size="26.9" dx="0.5" dy="-17.3">-1</tspan></text>
<line x1="1682.0" y1="2199.8" x2="1806.0" y2="2199.8" stroke="#6464b8" stroke-width="3"/>
<path d="M1717.7 2178.6L1768.7 2178.6L1743.2 2221.7Z" fill="#0000ff"/>
<text x="1843.5" y="2217.1" font-size="48" fill="#3a3a3a">0.1 s<tspan font-size="26.9" dx="0.5" dy="-17.3">-1</tspan></text>
<line x1="1682.0" y1="2268.3" x2="1806.0" y2="2268.3" stroke="#e6cbb8" stroke-width="3"/>
<path d="M1722.2 2247.3L1764.2 2289.3M1764.2 2247.3L1722.2 2289.3" stroke="#ff6600" stroke-width="11" fill="none"/>
<text x="1843.5" y="2285.6" font-size="48" fill="#3a3a3a">0.5 s<tspan font-size="26.9" dx="0.5" dy="-17.3">-1</tspan></text>
<line x1="1682.0" y1="2337.8" x2="1806.0" y2="2337.8" stroke="#c8c8c8" stroke-width="3"/>
<circle cx="1743.2" cy="2337.8" r="26.5" fill="#000000"/>
<text x="1843.5" y="2355.1" font-size="48" fill="#3a3a3a">1 s<tspan font-size="26.9" dx="0.5" dy="-17.3">-1</tspan></text>
</g>
</svg>
</body>
</html>
